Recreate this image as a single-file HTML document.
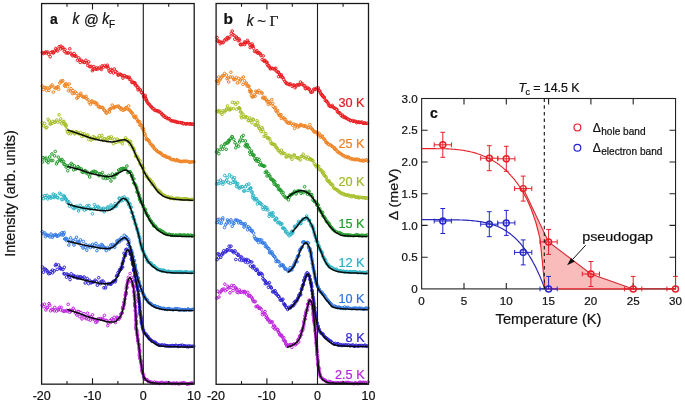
<!DOCTYPE html>
<html><head><meta charset="utf-8"><style>
html,body{margin:0;padding:0;background:#fff;width:685px;height:403px;overflow:hidden}
svg{display:block;will-change:transform}
</style></head><body>
<svg width="685" height="403" viewBox="0 0 685 403">
<rect width="685" height="403" fill="#fff"/>
<g fill="none" stroke="#ea1a1e" stroke-width="1.0"><circle cx="42.3" cy="52.6" r="1.3"/><circle cx="43.4" cy="53.6" r="1.3"/><circle cx="44.5" cy="52.8" r="1.3"/><circle cx="45.7" cy="51.9" r="1.3"/><circle cx="46.3" cy="53.0" r="1.3"/><circle cx="47.8" cy="52.1" r="1.3"/><circle cx="48.7" cy="54.3" r="1.3"/><circle cx="50.2" cy="56.7" r="1.3"/><circle cx="50.9" cy="52.6" r="1.3"/><circle cx="52.2" cy="51.8" r="1.3"/><circle cx="53.4" cy="53.1" r="1.3"/><circle cx="53.8" cy="52.2" r="1.3"/><circle cx="54.6" cy="51.1" r="1.3"/><circle cx="55.8" cy="48.5" r="1.3"/><circle cx="56.8" cy="49.7" r="1.3"/><circle cx="57.6" cy="51.1" r="1.3"/><circle cx="59.1" cy="46.7" r="1.3"/><circle cx="60.5" cy="48.8" r="1.3"/><circle cx="61.0" cy="46.2" r="1.3"/><circle cx="62.1" cy="48.0" r="1.3"/><circle cx="62.9" cy="47.5" r="1.3"/><circle cx="64.3" cy="51.2" r="1.3"/><circle cx="65.0" cy="49.5" r="1.3"/><circle cx="66.1" cy="52.9" r="1.3"/><circle cx="67.8" cy="53.0" r="1.3"/><circle cx="68.3" cy="52.8" r="1.3"/><circle cx="69.8" cy="48.8" r="1.3"/><circle cx="71.0" cy="53.2" r="1.3"/><circle cx="71.7" cy="54.7" r="1.3"/><circle cx="72.8" cy="55.7" r="1.3"/><circle cx="74.1" cy="53.5" r="1.3"/><circle cx="74.6" cy="55.9" r="1.3"/><circle cx="75.4" cy="55.6" r="1.3"/><circle cx="76.2" cy="56.4" r="1.3"/><circle cx="77.5" cy="60.3" r="1.3"/><circle cx="78.8" cy="57.9" r="1.3"/><circle cx="79.7" cy="60.1" r="1.3"/><circle cx="80.2" cy="62.4" r="1.3"/><circle cx="81.3" cy="60.3" r="1.3"/><circle cx="82.5" cy="61.6" r="1.3"/><circle cx="83.8" cy="62.3" r="1.3"/><circle cx="84.7" cy="62.4" r="1.3"/><circle cx="85.9" cy="60.3" r="1.3"/><circle cx="86.9" cy="62.9" r="1.3"/><circle cx="87.8" cy="65.5" r="1.3"/><circle cx="88.7" cy="61.9" r="1.3"/><circle cx="89.6" cy="66.6" r="1.3"/><circle cx="90.3" cy="66.6" r="1.3"/><circle cx="91.3" cy="66.4" r="1.3"/><circle cx="92.4" cy="70.7" r="1.3"/><circle cx="93.0" cy="69.4" r="1.3"/><circle cx="93.8" cy="66.6" r="1.3"/><circle cx="94.5" cy="68.6" r="1.3"/><circle cx="96.1" cy="69.3" r="1.3"/><circle cx="96.6" cy="67.8" r="1.3"/><circle cx="97.8" cy="69.0" r="1.3"/><circle cx="99.5" cy="67.4" r="1.3"/><circle cx="100.5" cy="68.5" r="1.3"/><circle cx="101.4" cy="69.5" r="1.3"/><circle cx="102.1" cy="65.9" r="1.3"/><circle cx="103.5" cy="67.1" r="1.3"/><circle cx="104.5" cy="65.6" r="1.3"/><circle cx="105.9" cy="66.7" r="1.3"/><circle cx="107.3" cy="65.2" r="1.3"/><circle cx="107.7" cy="66.9" r="1.3"/><circle cx="108.3" cy="68.3" r="1.3"/><circle cx="109.1" cy="70.9" r="1.3"/><circle cx="110.3" cy="72.2" r="1.3"/><circle cx="111.2" cy="69.5" r="1.3"/><circle cx="112.0" cy="70.6" r="1.3"/><circle cx="113.4" cy="73.0" r="1.3"/><circle cx="114.2" cy="69.0" r="1.3"/><circle cx="115.8" cy="71.6" r="1.3"/><circle cx="116.9" cy="72.5" r="1.3"/><circle cx="118.0" cy="75.1" r="1.3"/><circle cx="118.7" cy="74.9" r="1.3"/><circle cx="120.0" cy="74.1" r="1.3"/><circle cx="120.9" cy="74.7" r="1.3"/><circle cx="121.9" cy="75.3" r="1.3"/><circle cx="122.9" cy="78.1" r="1.3"/><circle cx="123.8" cy="75.5" r="1.3"/><circle cx="124.8" cy="75.8" r="1.3"/><circle cx="126.3" cy="77.0" r="1.3"/><circle cx="127.1" cy="76.9" r="1.3"/><circle cx="128.2" cy="77.5" r="1.3"/><circle cx="129.3" cy="77.2" r="1.3"/><circle cx="129.6" cy="79.4" r="1.3"/><circle cx="130.7" cy="79.7" r="1.3"/><circle cx="131.8" cy="82.4" r="1.3"/><circle cx="132.7" cy="82.4" r="1.3"/><circle cx="133.3" cy="82.2" r="1.3"/><circle cx="134.4" cy="83.3" r="1.3"/><circle cx="135.0" cy="82.9" r="1.3"/><circle cx="135.4" cy="85.1" r="1.3"/><circle cx="136.2" cy="85.3" r="1.3"/><circle cx="137.4" cy="87.4" r="1.3"/><circle cx="138.0" cy="87.2" r="1.3"/><circle cx="138.1" cy="89.9" r="1.3"/><circle cx="139.7" cy="89.3" r="1.3"/><circle cx="140.3" cy="89.9" r="1.3"/><circle cx="141.4" cy="92.4" r="1.3"/><circle cx="142.0" cy="92.5" r="1.3"/><circle cx="143.0" cy="94.2" r="1.3"/><circle cx="143.6" cy="96.8" r="1.3"/><circle cx="145.2" cy="95.5" r="1.3"/><circle cx="145.1" cy="96.9" r="1.3"/><circle cx="146.0" cy="98.6" r="1.3"/><circle cx="146.0" cy="99.9" r="1.3"/><circle cx="146.7" cy="100.6" r="1.3"/><circle cx="146.9" cy="101.7" r="1.3"/><circle cx="147.9" cy="103.3" r="1.3"/><circle cx="148.9" cy="104.2" r="1.3"/><circle cx="149.1" cy="104.2" r="1.3"/><circle cx="150.5" cy="105.8" r="1.3"/><circle cx="151.1" cy="106.8" r="1.3"/><circle cx="151.7" cy="107.1" r="1.3"/><circle cx="152.7" cy="108.7" r="1.3"/><circle cx="153.7" cy="108.7" r="1.3"/><circle cx="154.8" cy="110.4" r="1.3"/><circle cx="155.7" cy="110.4" r="1.3"/><circle cx="156.6" cy="110.7" r="1.3"/><circle cx="157.7" cy="110.8" r="1.3"/><circle cx="158.5" cy="111.7" r="1.3"/><circle cx="159.4" cy="111.5" r="1.3"/><circle cx="160.7" cy="112.7" r="1.3"/><circle cx="161.8" cy="114.3" r="1.3"/><circle cx="162.1" cy="113.9" r="1.3"/><circle cx="163.4" cy="116.1" r="1.3"/><circle cx="164.2" cy="115.6" r="1.3"/><circle cx="165.1" cy="117.4" r="1.3"/><circle cx="166.6" cy="117.3" r="1.3"/><circle cx="167.2" cy="118.6" r="1.3"/><circle cx="168.7" cy="118.8" r="1.3"/><circle cx="169.2" cy="118.6" r="1.3"/><circle cx="170.5" cy="120.3" r="1.3"/><circle cx="171.4" cy="120.9" r="1.3"/><circle cx="172.3" cy="120.8" r="1.3"/><circle cx="173.7" cy="121.1" r="1.3"/><circle cx="174.6" cy="121.5" r="1.3"/><circle cx="175.8" cy="121.4" r="1.3"/><circle cx="176.7" cy="122.4" r="1.3"/><circle cx="177.6" cy="122.1" r="1.3"/><circle cx="178.9" cy="122.5" r="1.3"/><circle cx="180.0" cy="122.5" r="1.3"/><circle cx="181.3" cy="122.8" r="1.3"/><circle cx="182.0" cy="122.7" r="1.3"/><circle cx="183.3" cy="123.8" r="1.3"/><circle cx="183.9" cy="123.4" r="1.3"/><circle cx="185.6" cy="124.0" r="1.3"/><circle cx="186.3" cy="123.8" r="1.3"/><circle cx="187.2" cy="123.6" r="1.3"/><circle cx="188.7" cy="123.9" r="1.3"/><circle cx="190.1" cy="123.8" r="1.3"/><circle cx="190.6" cy="124.1" r="1.3"/><circle cx="191.8" cy="124.1" r="1.3"/><circle cx="193.0" cy="124.2" r="1.3"/></g>
<g fill="none" stroke="#f08220" stroke-width="1.0"><circle cx="42.2" cy="86.1" r="1.3"/><circle cx="43.2" cy="89.5" r="1.3"/><circle cx="44.2" cy="87.4" r="1.3"/><circle cx="45.7" cy="87.7" r="1.3"/><circle cx="46.5" cy="90.5" r="1.3"/><circle cx="47.2" cy="87.9" r="1.3"/><circle cx="49.0" cy="90.4" r="1.3"/><circle cx="49.9" cy="87.3" r="1.3"/><circle cx="51.1" cy="86.5" r="1.3"/><circle cx="52.1" cy="84.9" r="1.3"/><circle cx="53.3" cy="92.1" r="1.3"/><circle cx="54.3" cy="87.4" r="1.3"/><circle cx="55.6" cy="88.4" r="1.3"/><circle cx="56.4" cy="87.6" r="1.3"/><circle cx="57.3" cy="87.4" r="1.3"/><circle cx="58.2" cy="86.6" r="1.3"/><circle cx="58.7" cy="89.3" r="1.3"/><circle cx="59.9" cy="83.0" r="1.3"/><circle cx="60.9" cy="81.1" r="1.3"/><circle cx="62.1" cy="81.4" r="1.3"/><circle cx="62.8" cy="80.6" r="1.3"/><circle cx="64.5" cy="85.4" r="1.3"/><circle cx="65.1" cy="86.2" r="1.3"/><circle cx="65.6" cy="83.8" r="1.3"/><circle cx="66.4" cy="84.0" r="1.3"/><circle cx="67.6" cy="86.7" r="1.3"/><circle cx="68.5" cy="90.7" r="1.3"/><circle cx="69.2" cy="84.0" r="1.3"/><circle cx="70.3" cy="90.8" r="1.3"/><circle cx="71.1" cy="88.7" r="1.3"/><circle cx="72.4" cy="93.5" r="1.3"/><circle cx="73.0" cy="90.7" r="1.3"/><circle cx="74.1" cy="93.2" r="1.3"/><circle cx="75.4" cy="92.0" r="1.3"/><circle cx="76.7" cy="93.7" r="1.3"/><circle cx="76.8" cy="98.2" r="1.3"/><circle cx="78.0" cy="97.5" r="1.3"/><circle cx="78.9" cy="95.5" r="1.3"/><circle cx="80.3" cy="94.9" r="1.3"/><circle cx="80.8" cy="93.3" r="1.3"/><circle cx="82.0" cy="96.1" r="1.3"/><circle cx="83.2" cy="97.0" r="1.3"/><circle cx="83.9" cy="97.1" r="1.3"/><circle cx="85.0" cy="97.5" r="1.3"/><circle cx="86.1" cy="96.3" r="1.3"/><circle cx="86.7" cy="98.8" r="1.3"/><circle cx="87.9" cy="99.6" r="1.3"/><circle cx="89.2" cy="102.6" r="1.3"/><circle cx="90.4" cy="104.2" r="1.3"/><circle cx="91.3" cy="101.5" r="1.3"/><circle cx="91.9" cy="100.9" r="1.3"/><circle cx="93.2" cy="102.5" r="1.3"/><circle cx="94.5" cy="102.2" r="1.3"/><circle cx="95.5" cy="102.6" r="1.3"/><circle cx="96.3" cy="104.3" r="1.3"/><circle cx="97.0" cy="103.6" r="1.3"/><circle cx="98.4" cy="106.7" r="1.3"/><circle cx="99.0" cy="106.3" r="1.3"/><circle cx="99.8" cy="107.4" r="1.3"/><circle cx="100.9" cy="107.4" r="1.3"/><circle cx="102.3" cy="107.4" r="1.3"/><circle cx="102.9" cy="108.0" r="1.3"/><circle cx="104.1" cy="110.0" r="1.3"/><circle cx="104.6" cy="110.6" r="1.3"/><circle cx="106.0" cy="112.8" r="1.3"/><circle cx="106.7" cy="113.1" r="1.3"/><circle cx="107.8" cy="111.0" r="1.3"/><circle cx="109.4" cy="112.0" r="1.3"/><circle cx="109.8" cy="109.2" r="1.3"/><circle cx="110.2" cy="109.0" r="1.3"/><circle cx="111.1" cy="108.4" r="1.3"/><circle cx="112.2" cy="105.1" r="1.3"/><circle cx="113.4" cy="107.9" r="1.3"/><circle cx="114.0" cy="107.7" r="1.3"/><circle cx="114.8" cy="107.0" r="1.3"/><circle cx="116.2" cy="106.5" r="1.3"/><circle cx="117.4" cy="106.5" r="1.3"/><circle cx="118.4" cy="106.0" r="1.3"/><circle cx="119.5" cy="107.5" r="1.3"/><circle cx="120.0" cy="107.8" r="1.3"/><circle cx="121.0" cy="109.5" r="1.3"/><circle cx="121.5" cy="108.1" r="1.3"/><circle cx="123.1" cy="110.3" r="1.3"/><circle cx="124.4" cy="109.7" r="1.3"/><circle cx="125.2" cy="108.6" r="1.3"/><circle cx="126.1" cy="107.6" r="1.3"/><circle cx="127.2" cy="108.9" r="1.3"/><circle cx="128.6" cy="105.9" r="1.3"/><circle cx="128.9" cy="109.7" r="1.3"/><circle cx="129.9" cy="110.3" r="1.3"/><circle cx="130.8" cy="111.4" r="1.3"/><circle cx="131.6" cy="112.8" r="1.3"/><circle cx="132.1" cy="112.9" r="1.3"/><circle cx="133.1" cy="114.7" r="1.3"/><circle cx="133.8" cy="116.8" r="1.3"/><circle cx="134.7" cy="117.4" r="1.3"/><circle cx="135.4" cy="117.6" r="1.3"/><circle cx="135.9" cy="116.3" r="1.3"/><circle cx="136.9" cy="119.2" r="1.3"/><circle cx="137.8" cy="120.7" r="1.3"/><circle cx="138.0" cy="121.6" r="1.3"/><circle cx="138.8" cy="122.1" r="1.3"/><circle cx="139.7" cy="121.7" r="1.3"/><circle cx="139.9" cy="125.2" r="1.3"/><circle cx="140.8" cy="125.5" r="1.3"/><circle cx="141.1" cy="124.8" r="1.3"/><circle cx="142.2" cy="128.4" r="1.3"/><circle cx="143.1" cy="128.2" r="1.3"/><circle cx="143.6" cy="129.5" r="1.3"/><circle cx="143.6" cy="131.1" r="1.3"/><circle cx="144.4" cy="133.7" r="1.3"/><circle cx="144.8" cy="133.9" r="1.3"/><circle cx="145.4" cy="135.8" r="1.3"/><circle cx="146.4" cy="138.3" r="1.3"/><circle cx="146.3" cy="139.5" r="1.3"/><circle cx="147.5" cy="139.4" r="1.3"/><circle cx="147.9" cy="140.3" r="1.3"/><circle cx="149.0" cy="140.6" r="1.3"/><circle cx="149.4" cy="141.8" r="1.3"/><circle cx="150.0" cy="143.4" r="1.3"/><circle cx="151.0" cy="144.3" r="1.3"/><circle cx="151.9" cy="145.0" r="1.3"/><circle cx="152.5" cy="146.4" r="1.3"/><circle cx="153.4" cy="146.3" r="1.3"/><circle cx="154.0" cy="147.7" r="1.3"/><circle cx="154.4" cy="149.0" r="1.3"/><circle cx="156.1" cy="149.9" r="1.3"/><circle cx="156.9" cy="151.0" r="1.3"/><circle cx="157.6" cy="151.5" r="1.3"/><circle cx="158.5" cy="151.9" r="1.3"/><circle cx="159.7" cy="152.9" r="1.3"/><circle cx="160.3" cy="152.9" r="1.3"/><circle cx="161.1" cy="153.3" r="1.3"/><circle cx="162.2" cy="155.0" r="1.3"/><circle cx="163.6" cy="155.3" r="1.3"/><circle cx="163.9" cy="156.1" r="1.3"/><circle cx="165.6" cy="155.8" r="1.3"/><circle cx="166.1" cy="156.9" r="1.3"/><circle cx="167.1" cy="157.3" r="1.3"/><circle cx="168.7" cy="157.6" r="1.3"/><circle cx="169.4" cy="157.5" r="1.3"/><circle cx="170.1" cy="158.6" r="1.3"/><circle cx="171.4" cy="159.5" r="1.3"/><circle cx="172.8" cy="159.6" r="1.3"/><circle cx="173.9" cy="159.6" r="1.3"/><circle cx="174.6" cy="160.1" r="1.3"/><circle cx="175.9" cy="160.7" r="1.3"/><circle cx="177.1" cy="159.6" r="1.3"/><circle cx="177.8" cy="160.7" r="1.3"/><circle cx="179.2" cy="161.1" r="1.3"/><circle cx="180.2" cy="161.2" r="1.3"/><circle cx="181.1" cy="161.6" r="1.3"/><circle cx="182.2" cy="161.5" r="1.3"/><circle cx="183.5" cy="161.2" r="1.3"/><circle cx="184.6" cy="161.2" r="1.3"/><circle cx="185.5" cy="161.5" r="1.3"/><circle cx="186.6" cy="161.1" r="1.3"/><circle cx="188.1" cy="161.5" r="1.3"/><circle cx="189.0" cy="162.0" r="1.3"/><circle cx="190.3" cy="162.4" r="1.3"/><circle cx="191.4" cy="161.7" r="1.3"/><circle cx="192.4" cy="161.8" r="1.3"/><circle cx="193.9" cy="161.8" r="1.3"/></g>
<g fill="none" stroke="#a6bf26" stroke-width="1.0"><circle cx="42.3" cy="122.7" r="1.3"/><circle cx="43.6" cy="125.9" r="1.3"/><circle cx="44.7" cy="123.4" r="1.3"/><circle cx="46.0" cy="127.9" r="1.3"/><circle cx="46.9" cy="127.3" r="1.3"/><circle cx="48.1" cy="119.3" r="1.3"/><circle cx="49.3" cy="121.0" r="1.3"/><circle cx="50.1" cy="124.1" r="1.3"/><circle cx="50.7" cy="123.9" r="1.3"/><circle cx="51.9" cy="123.4" r="1.3"/><circle cx="52.9" cy="121.4" r="1.3"/><circle cx="54.7" cy="122.2" r="1.3"/><circle cx="55.2" cy="122.1" r="1.3"/><circle cx="56.8" cy="120.0" r="1.3"/><circle cx="57.7" cy="122.1" r="1.3"/><circle cx="59.1" cy="114.8" r="1.3"/><circle cx="60.0" cy="121.7" r="1.3"/><circle cx="60.8" cy="118.9" r="1.3"/><circle cx="61.8" cy="123.8" r="1.3"/><circle cx="62.9" cy="122.0" r="1.3"/><circle cx="64.0" cy="121.4" r="1.3"/><circle cx="64.8" cy="124.6" r="1.3"/><circle cx="65.5" cy="124.0" r="1.3"/><circle cx="66.3" cy="125.6" r="1.3"/><circle cx="65.9" cy="126.3" r="1.3"/><circle cx="66.9" cy="129.7" r="1.3"/><circle cx="67.4" cy="131.9" r="1.3"/><circle cx="68.6" cy="133.5" r="1.3"/><circle cx="69.8" cy="131.5" r="1.3"/><circle cx="70.6" cy="133.8" r="1.3"/><circle cx="71.9" cy="131.8" r="1.3"/><circle cx="72.4" cy="131.5" r="1.3"/><circle cx="74.1" cy="132.8" r="1.3"/><circle cx="74.8" cy="133.9" r="1.3"/><circle cx="76.2" cy="131.6" r="1.3"/><circle cx="77.2" cy="132.4" r="1.3"/><circle cx="77.5" cy="133.1" r="1.3"/><circle cx="79.1" cy="134.0" r="1.3"/><circle cx="80.4" cy="132.5" r="1.3"/><circle cx="81.8" cy="136.3" r="1.3"/><circle cx="82.5" cy="134.0" r="1.3"/><circle cx="83.6" cy="135.9" r="1.3"/><circle cx="84.2" cy="133.8" r="1.3"/><circle cx="86.0" cy="135.9" r="1.3"/><circle cx="87.1" cy="136.1" r="1.3"/><circle cx="87.7" cy="134.8" r="1.3"/><circle cx="88.7" cy="139.5" r="1.3"/><circle cx="89.4" cy="137.1" r="1.3"/><circle cx="91.1" cy="140.1" r="1.3"/><circle cx="92.7" cy="139.1" r="1.3"/><circle cx="93.2" cy="136.6" r="1.3"/><circle cx="94.5" cy="137.4" r="1.3"/><circle cx="95.3" cy="139.0" r="1.3"/><circle cx="96.0" cy="138.4" r="1.3"/><circle cx="97.7" cy="138.4" r="1.3"/><circle cx="98.1" cy="138.0" r="1.3"/><circle cx="99.5" cy="135.6" r="1.3"/><circle cx="100.7" cy="138.6" r="1.3"/><circle cx="101.9" cy="135.4" r="1.3"/><circle cx="102.9" cy="140.2" r="1.3"/><circle cx="104.0" cy="138.6" r="1.3"/><circle cx="104.8" cy="138.8" r="1.3"/><circle cx="105.8" cy="139.9" r="1.3"/><circle cx="107.2" cy="140.9" r="1.3"/><circle cx="108.1" cy="137.9" r="1.3"/><circle cx="109.0" cy="137.3" r="1.3"/><circle cx="110.1" cy="138.5" r="1.3"/><circle cx="111.4" cy="136.8" r="1.3"/><circle cx="112.2" cy="138.9" r="1.3"/><circle cx="113.4" cy="143.7" r="1.3"/><circle cx="114.4" cy="139.3" r="1.3"/><circle cx="116.0" cy="142.4" r="1.3"/><circle cx="117.1" cy="139.0" r="1.3"/><circle cx="118.6" cy="141.8" r="1.3"/><circle cx="118.8" cy="140.6" r="1.3"/><circle cx="120.1" cy="140.9" r="1.3"/><circle cx="121.6" cy="141.9" r="1.3"/><circle cx="122.4" cy="143.7" r="1.3"/><circle cx="123.4" cy="140.4" r="1.3"/><circle cx="125.0" cy="139.8" r="1.3"/><circle cx="125.6" cy="137.8" r="1.3"/><circle cx="126.4" cy="140.6" r="1.3"/><circle cx="127.3" cy="139.8" r="1.3"/><circle cx="128.7" cy="142.0" r="1.3"/><circle cx="129.6" cy="141.4" r="1.3"/><circle cx="129.9" cy="144.8" r="1.3"/><circle cx="130.7" cy="141.5" r="1.3"/><circle cx="131.7" cy="144.9" r="1.3"/><circle cx="132.3" cy="147.7" r="1.3"/><circle cx="132.6" cy="147.5" r="1.3"/><circle cx="133.5" cy="148.2" r="1.3"/><circle cx="134.1" cy="149.9" r="1.3"/><circle cx="134.0" cy="150.0" r="1.3"/><circle cx="134.9" cy="152.7" r="1.3"/><circle cx="135.6" cy="156.2" r="1.3"/><circle cx="135.8" cy="156.3" r="1.3"/><circle cx="136.0" cy="155.3" r="1.3"/><circle cx="137.0" cy="156.4" r="1.3"/><circle cx="137.9" cy="157.6" r="1.3"/><circle cx="138.7" cy="159.8" r="1.3"/><circle cx="138.3" cy="159.4" r="1.3"/><circle cx="140.1" cy="160.9" r="1.3"/><circle cx="139.8" cy="163.6" r="1.3"/><circle cx="140.9" cy="164.9" r="1.3"/><circle cx="141.5" cy="165.1" r="1.3"/><circle cx="142.0" cy="165.8" r="1.3"/><circle cx="142.4" cy="166.7" r="1.3"/><circle cx="142.7" cy="168.5" r="1.3"/><circle cx="143.7" cy="168.5" r="1.3"/><circle cx="143.9" cy="171.9" r="1.3"/><circle cx="144.1" cy="172.2" r="1.3"/><circle cx="146.1" cy="174.2" r="1.3"/><circle cx="146.2" cy="176.4" r="1.3"/><circle cx="147.2" cy="177.0" r="1.3"/><circle cx="147.2" cy="176.5" r="1.3"/><circle cx="148.5" cy="178.7" r="1.3"/><circle cx="149.2" cy="179.6" r="1.3"/><circle cx="149.9" cy="179.3" r="1.3"/><circle cx="150.2" cy="180.1" r="1.3"/><circle cx="150.7" cy="181.5" r="1.3"/><circle cx="151.7" cy="181.6" r="1.3"/><circle cx="152.0" cy="184.4" r="1.3"/><circle cx="152.9" cy="183.2" r="1.3"/><circle cx="154.1" cy="185.0" r="1.3"/><circle cx="154.5" cy="186.5" r="1.3"/><circle cx="155.4" cy="187.6" r="1.3"/><circle cx="156.2" cy="188.8" r="1.3"/><circle cx="157.4" cy="189.8" r="1.3"/><circle cx="158.1" cy="190.5" r="1.3"/><circle cx="158.6" cy="191.9" r="1.3"/><circle cx="159.8" cy="191.2" r="1.3"/><circle cx="160.2" cy="192.8" r="1.3"/><circle cx="161.3" cy="193.3" r="1.3"/><circle cx="162.5" cy="194.4" r="1.3"/><circle cx="163.0" cy="195.1" r="1.3"/><circle cx="164.2" cy="195.3" r="1.3"/><circle cx="165.0" cy="195.8" r="1.3"/><circle cx="166.4" cy="196.7" r="1.3"/><circle cx="167.8" cy="196.9" r="1.3"/><circle cx="168.3" cy="196.8" r="1.3"/><circle cx="169.7" cy="198.0" r="1.3"/><circle cx="170.5" cy="198.4" r="1.3"/><circle cx="171.5" cy="197.2" r="1.3"/><circle cx="172.5" cy="198.0" r="1.3"/><circle cx="174.3" cy="199.0" r="1.3"/><circle cx="175.6" cy="198.5" r="1.3"/><circle cx="176.3" cy="198.4" r="1.3"/><circle cx="177.1" cy="198.4" r="1.3"/><circle cx="178.5" cy="198.4" r="1.3"/><circle cx="179.3" cy="198.7" r="1.3"/><circle cx="180.7" cy="198.7" r="1.3"/><circle cx="181.7" cy="199.3" r="1.3"/><circle cx="182.8" cy="199.0" r="1.3"/><circle cx="184.0" cy="199.0" r="1.3"/><circle cx="184.8" cy="198.7" r="1.3"/><circle cx="185.9" cy="199.2" r="1.3"/><circle cx="186.7" cy="198.9" r="1.3"/><circle cx="188.1" cy="199.2" r="1.3"/><circle cx="189.0" cy="199.7" r="1.3"/><circle cx="190.4" cy="199.5" r="1.3"/><circle cx="191.3" cy="199.5" r="1.3"/><circle cx="192.6" cy="199.4" r="1.3"/></g>
<g fill="none" stroke="#1f9a28" stroke-width="1.0"><circle cx="42.6" cy="161.9" r="1.3"/><circle cx="43.1" cy="157.7" r="1.3"/><circle cx="44.7" cy="158.7" r="1.3"/><circle cx="45.9" cy="158.0" r="1.3"/><circle cx="46.8" cy="161.1" r="1.3"/><circle cx="48.1" cy="162.6" r="1.3"/><circle cx="48.8" cy="160.1" r="1.3"/><circle cx="49.7" cy="157.0" r="1.3"/><circle cx="51.3" cy="160.5" r="1.3"/><circle cx="51.9" cy="153.9" r="1.3"/><circle cx="52.7" cy="160.5" r="1.3"/><circle cx="54.6" cy="155.9" r="1.3"/><circle cx="55.3" cy="151.5" r="1.3"/><circle cx="56.5" cy="163.9" r="1.3"/><circle cx="57.3" cy="162.0" r="1.3"/><circle cx="58.3" cy="157.1" r="1.3"/><circle cx="59.4" cy="160.2" r="1.3"/><circle cx="60.7" cy="160.1" r="1.3"/><circle cx="61.8" cy="161.5" r="1.3"/><circle cx="62.0" cy="159.4" r="1.3"/><circle cx="63.6" cy="161.5" r="1.3"/><circle cx="63.9" cy="164.2" r="1.3"/><circle cx="64.9" cy="164.5" r="1.3"/><circle cx="66.2" cy="167.1" r="1.3"/><circle cx="67.0" cy="165.9" r="1.3"/><circle cx="67.7" cy="170.7" r="1.3"/><circle cx="69.6" cy="165.3" r="1.3"/><circle cx="69.9" cy="167.4" r="1.3"/><circle cx="71.3" cy="163.4" r="1.3"/><circle cx="72.4" cy="164.7" r="1.3"/><circle cx="73.7" cy="169.9" r="1.3"/><circle cx="74.4" cy="165.8" r="1.3"/><circle cx="75.8" cy="169.1" r="1.3"/><circle cx="76.5" cy="168.3" r="1.3"/><circle cx="78.0" cy="166.7" r="1.3"/><circle cx="78.6" cy="168.2" r="1.3"/><circle cx="79.8" cy="168.2" r="1.3"/><circle cx="81.4" cy="168.9" r="1.3"/><circle cx="82.1" cy="171.9" r="1.3"/><circle cx="83.1" cy="172.4" r="1.3"/><circle cx="84.7" cy="170.8" r="1.3"/><circle cx="85.3" cy="170.6" r="1.3"/><circle cx="86.1" cy="172.9" r="1.3"/><circle cx="87.5" cy="172.2" r="1.3"/><circle cx="88.1" cy="174.1" r="1.3"/><circle cx="89.7" cy="177.0" r="1.3"/><circle cx="90.8" cy="173.7" r="1.3"/><circle cx="91.4" cy="172.3" r="1.3"/><circle cx="92.5" cy="172.2" r="1.3"/><circle cx="93.8" cy="171.3" r="1.3"/><circle cx="94.8" cy="171.6" r="1.3"/><circle cx="95.7" cy="171.8" r="1.3"/><circle cx="97.1" cy="173.2" r="1.3"/><circle cx="97.6" cy="173.4" r="1.3"/><circle cx="99.0" cy="175.7" r="1.3"/><circle cx="100.1" cy="173.8" r="1.3"/><circle cx="101.3" cy="174.3" r="1.3"/><circle cx="102.5" cy="172.6" r="1.3"/><circle cx="103.2" cy="178.0" r="1.3"/><circle cx="104.8" cy="176.1" r="1.3"/><circle cx="105.7" cy="178.5" r="1.3"/><circle cx="106.6" cy="176.8" r="1.3"/><circle cx="107.6" cy="178.3" r="1.3"/><circle cx="108.7" cy="175.4" r="1.3"/><circle cx="110.2" cy="177.5" r="1.3"/><circle cx="111.0" cy="181.0" r="1.3"/><circle cx="112.3" cy="174.0" r="1.3"/><circle cx="113.6" cy="177.5" r="1.3"/><circle cx="114.6" cy="177.6" r="1.3"/><circle cx="115.8" cy="174.4" r="1.3"/><circle cx="116.3" cy="173.9" r="1.3"/><circle cx="117.1" cy="173.9" r="1.3"/><circle cx="118.7" cy="170.0" r="1.3"/><circle cx="119.5" cy="171.4" r="1.3"/><circle cx="120.7" cy="168.9" r="1.3"/><circle cx="121.5" cy="168.8" r="1.3"/><circle cx="122.8" cy="168.3" r="1.3"/><circle cx="123.7" cy="168.6" r="1.3"/><circle cx="124.8" cy="168.7" r="1.3"/><circle cx="125.8" cy="169.2" r="1.3"/><circle cx="126.9" cy="166.0" r="1.3"/><circle cx="127.8" cy="172.6" r="1.3"/><circle cx="128.7" cy="171.9" r="1.3"/><circle cx="129.8" cy="172.0" r="1.3"/><circle cx="130.2" cy="171.7" r="1.3"/><circle cx="131.4" cy="173.6" r="1.3"/><circle cx="131.5" cy="175.7" r="1.3"/><circle cx="132.2" cy="176.8" r="1.3"/><circle cx="132.4" cy="175.6" r="1.3"/><circle cx="132.8" cy="179.4" r="1.3"/><circle cx="133.9" cy="182.9" r="1.3"/><circle cx="133.9" cy="178.9" r="1.3"/><circle cx="134.1" cy="183.3" r="1.3"/><circle cx="134.8" cy="184.0" r="1.3"/><circle cx="135.4" cy="184.9" r="1.3"/><circle cx="136.5" cy="187.7" r="1.3"/><circle cx="136.5" cy="186.7" r="1.3"/><circle cx="137.1" cy="189.4" r="1.3"/><circle cx="137.0" cy="192.0" r="1.3"/><circle cx="137.8" cy="191.9" r="1.3"/><circle cx="138.3" cy="193.1" r="1.3"/><circle cx="139.0" cy="194.8" r="1.3"/><circle cx="138.7" cy="195.7" r="1.3"/><circle cx="139.5" cy="198.4" r="1.3"/><circle cx="139.8" cy="197.6" r="1.3"/><circle cx="139.9" cy="200.0" r="1.3"/><circle cx="140.6" cy="199.4" r="1.3"/><circle cx="141.1" cy="202.0" r="1.3"/><circle cx="141.0" cy="202.6" r="1.3"/><circle cx="142.3" cy="202.0" r="1.3"/><circle cx="142.8" cy="205.1" r="1.3"/><circle cx="143.1" cy="205.6" r="1.3"/><circle cx="143.4" cy="207.2" r="1.3"/><circle cx="144.6" cy="209.6" r="1.3"/><circle cx="144.9" cy="208.9" r="1.3"/><circle cx="145.6" cy="210.1" r="1.3"/><circle cx="146.2" cy="212.9" r="1.3"/><circle cx="146.3" cy="213.2" r="1.3"/><circle cx="147.3" cy="215.2" r="1.3"/><circle cx="147.6" cy="215.5" r="1.3"/><circle cx="148.3" cy="216.0" r="1.3"/><circle cx="148.9" cy="217.6" r="1.3"/><circle cx="149.6" cy="219.5" r="1.3"/><circle cx="150.5" cy="220.4" r="1.3"/><circle cx="150.9" cy="221.0" r="1.3"/><circle cx="151.5" cy="222.1" r="1.3"/><circle cx="152.2" cy="223.0" r="1.3"/><circle cx="153.2" cy="223.7" r="1.3"/><circle cx="153.6" cy="225.9" r="1.3"/><circle cx="154.6" cy="225.9" r="1.3"/><circle cx="155.5" cy="226.2" r="1.3"/><circle cx="156.2" cy="227.4" r="1.3"/><circle cx="157.2" cy="228.7" r="1.3"/><circle cx="158.0" cy="229.5" r="1.3"/><circle cx="159.6" cy="229.9" r="1.3"/><circle cx="160.4" cy="230.4" r="1.3"/><circle cx="161.2" cy="231.3" r="1.3"/><circle cx="162.0" cy="231.2" r="1.3"/><circle cx="163.6" cy="232.0" r="1.3"/><circle cx="164.1" cy="233.4" r="1.3"/><circle cx="165.1" cy="233.4" r="1.3"/><circle cx="166.2" cy="234.0" r="1.3"/><circle cx="167.3" cy="234.5" r="1.3"/><circle cx="168.7" cy="234.4" r="1.3"/><circle cx="169.4" cy="234.4" r="1.3"/><circle cx="171.0" cy="235.3" r="1.3"/><circle cx="171.4" cy="235.0" r="1.3"/><circle cx="172.9" cy="234.8" r="1.3"/><circle cx="173.5" cy="235.4" r="1.3"/><circle cx="175.3" cy="235.4" r="1.3"/><circle cx="175.9" cy="235.0" r="1.3"/><circle cx="177.1" cy="235.4" r="1.3"/><circle cx="178.4" cy="235.3" r="1.3"/><circle cx="179.6" cy="234.7" r="1.3"/><circle cx="180.1" cy="235.4" r="1.3"/><circle cx="181.4" cy="235.3" r="1.3"/><circle cx="182.2" cy="235.3" r="1.3"/><circle cx="183.7" cy="234.9" r="1.3"/><circle cx="184.7" cy="235.3" r="1.3"/><circle cx="185.8" cy="235.4" r="1.3"/><circle cx="186.8" cy="235.5" r="1.3"/><circle cx="188.0" cy="235.0" r="1.3"/><circle cx="189.0" cy="235.7" r="1.3"/><circle cx="190.4" cy="235.1" r="1.3"/><circle cx="191.7" cy="235.5" r="1.3"/><circle cx="192.0" cy="236.1" r="1.3"/><circle cx="193.5" cy="235.4" r="1.3"/></g>
<g fill="none" stroke="#2ab3c6" stroke-width="1.0"><circle cx="42.6" cy="196.3" r="1.3"/><circle cx="43.4" cy="198.6" r="1.3"/><circle cx="44.8" cy="195.6" r="1.3"/><circle cx="45.5" cy="197.5" r="1.3"/><circle cx="47.1" cy="195.4" r="1.3"/><circle cx="47.8" cy="198.9" r="1.3"/><circle cx="48.8" cy="197.3" r="1.3"/><circle cx="50.0" cy="196.8" r="1.3"/><circle cx="51.0" cy="198.1" r="1.3"/><circle cx="52.2" cy="196.9" r="1.3"/><circle cx="53.2" cy="194.0" r="1.3"/><circle cx="54.2" cy="197.6" r="1.3"/><circle cx="55.0" cy="196.3" r="1.3"/><circle cx="55.3" cy="194.9" r="1.3"/><circle cx="57.3" cy="197.3" r="1.3"/><circle cx="57.9" cy="197.9" r="1.3"/><circle cx="59.5" cy="193.2" r="1.3"/><circle cx="60.8" cy="194.2" r="1.3"/><circle cx="61.6" cy="199.3" r="1.3"/><circle cx="62.4" cy="199.6" r="1.3"/><circle cx="63.4" cy="196.1" r="1.3"/><circle cx="64.3" cy="196.0" r="1.3"/><circle cx="65.0" cy="197.9" r="1.3"/><circle cx="65.6" cy="199.2" r="1.3"/><circle cx="66.0" cy="198.9" r="1.3"/><circle cx="67.0" cy="202.2" r="1.3"/><circle cx="67.5" cy="201.0" r="1.3"/><circle cx="68.7" cy="201.7" r="1.3"/><circle cx="69.5" cy="206.2" r="1.3"/><circle cx="70.6" cy="203.9" r="1.3"/><circle cx="71.6" cy="205.7" r="1.3"/><circle cx="72.8" cy="207.7" r="1.3"/><circle cx="74.0" cy="208.5" r="1.3"/><circle cx="74.9" cy="206.7" r="1.3"/><circle cx="75.8" cy="207.7" r="1.3"/><circle cx="76.8" cy="206.1" r="1.3"/><circle cx="78.5" cy="211.0" r="1.3"/><circle cx="79.1" cy="208.8" r="1.3"/><circle cx="80.2" cy="205.3" r="1.3"/><circle cx="81.7" cy="207.2" r="1.3"/><circle cx="82.7" cy="208.4" r="1.3"/><circle cx="83.7" cy="207.7" r="1.3"/><circle cx="84.5" cy="210.1" r="1.3"/><circle cx="86.3" cy="209.2" r="1.3"/><circle cx="86.9" cy="205.9" r="1.3"/><circle cx="88.1" cy="207.2" r="1.3"/><circle cx="89.0" cy="205.5" r="1.3"/><circle cx="89.8" cy="208.8" r="1.3"/><circle cx="90.9" cy="209.0" r="1.3"/><circle cx="92.4" cy="213.8" r="1.3"/><circle cx="93.5" cy="208.8" r="1.3"/><circle cx="94.4" cy="204.5" r="1.3"/><circle cx="95.3" cy="207.1" r="1.3"/><circle cx="96.3" cy="208.6" r="1.3"/><circle cx="97.7" cy="206.3" r="1.3"/><circle cx="98.5" cy="207.2" r="1.3"/><circle cx="100.2" cy="208.3" r="1.3"/><circle cx="101.3" cy="209.8" r="1.3"/><circle cx="102.9" cy="209.1" r="1.3"/><circle cx="103.5" cy="208.2" r="1.3"/><circle cx="104.2" cy="211.8" r="1.3"/><circle cx="105.2" cy="209.5" r="1.3"/><circle cx="105.7" cy="209.2" r="1.3"/><circle cx="107.5" cy="206.9" r="1.3"/><circle cx="108.7" cy="207.3" r="1.3"/><circle cx="110.0" cy="209.3" r="1.3"/><circle cx="111.0" cy="205.1" r="1.3"/><circle cx="112.0" cy="207.4" r="1.3"/><circle cx="112.8" cy="208.3" r="1.3"/><circle cx="113.9" cy="206.1" r="1.3"/><circle cx="114.9" cy="206.5" r="1.3"/><circle cx="115.1" cy="203.5" r="1.3"/><circle cx="116.1" cy="206.5" r="1.3"/><circle cx="116.7" cy="205.2" r="1.3"/><circle cx="118.3" cy="202.7" r="1.3"/><circle cx="119.0" cy="198.3" r="1.3"/><circle cx="119.7" cy="198.3" r="1.3"/><circle cx="120.1" cy="200.7" r="1.3"/><circle cx="121.3" cy="200.9" r="1.3"/><circle cx="122.1" cy="197.8" r="1.3"/><circle cx="123.2" cy="200.1" r="1.3"/><circle cx="124.2" cy="196.9" r="1.3"/><circle cx="125.5" cy="198.6" r="1.3"/><circle cx="126.2" cy="199.6" r="1.3"/><circle cx="127.3" cy="201.1" r="1.3"/><circle cx="127.8" cy="199.0" r="1.3"/><circle cx="128.3" cy="203.5" r="1.3"/><circle cx="128.9" cy="205.1" r="1.3"/><circle cx="129.3" cy="203.1" r="1.3"/><circle cx="130.1" cy="204.2" r="1.3"/><circle cx="130.3" cy="207.6" r="1.3"/><circle cx="130.9" cy="207.7" r="1.3"/><circle cx="131.2" cy="207.1" r="1.3"/><circle cx="131.4" cy="211.9" r="1.3"/><circle cx="132.4" cy="212.6" r="1.3"/><circle cx="132.3" cy="213.3" r="1.3"/><circle cx="133.1" cy="217.2" r="1.3"/><circle cx="133.5" cy="216.6" r="1.3"/><circle cx="133.3" cy="217.0" r="1.3"/><circle cx="133.9" cy="219.1" r="1.3"/><circle cx="134.4" cy="219.5" r="1.3"/><circle cx="134.7" cy="221.3" r="1.3"/><circle cx="135.0" cy="223.7" r="1.3"/><circle cx="135.8" cy="224.1" r="1.3"/><circle cx="136.0" cy="225.2" r="1.3"/><circle cx="136.5" cy="227.9" r="1.3"/><circle cx="136.7" cy="228.2" r="1.3"/><circle cx="137.3" cy="229.4" r="1.3"/><circle cx="137.4" cy="230.4" r="1.3"/><circle cx="137.9" cy="231.7" r="1.3"/><circle cx="138.4" cy="233.6" r="1.3"/><circle cx="138.6" cy="233.8" r="1.3"/><circle cx="138.8" cy="236.3" r="1.3"/><circle cx="138.9" cy="236.0" r="1.3"/><circle cx="139.5" cy="237.8" r="1.3"/><circle cx="139.9" cy="238.6" r="1.3"/><circle cx="140.0" cy="240.6" r="1.3"/><circle cx="140.2" cy="242.4" r="1.3"/><circle cx="140.8" cy="244.2" r="1.3"/><circle cx="141.6" cy="244.4" r="1.3"/><circle cx="141.3" cy="246.2" r="1.3"/><circle cx="141.9" cy="247.4" r="1.3"/><circle cx="142.3" cy="248.5" r="1.3"/><circle cx="142.0" cy="249.5" r="1.3"/><circle cx="143.2" cy="251.4" r="1.3"/><circle cx="143.5" cy="251.6" r="1.3"/><circle cx="144.5" cy="253.8" r="1.3"/><circle cx="144.6" cy="255.0" r="1.3"/><circle cx="145.1" cy="255.9" r="1.3"/><circle cx="145.8" cy="256.9" r="1.3"/><circle cx="146.5" cy="257.8" r="1.3"/><circle cx="146.9" cy="260.5" r="1.3"/><circle cx="147.8" cy="259.9" r="1.3"/><circle cx="148.2" cy="262.2" r="1.3"/><circle cx="149.3" cy="262.6" r="1.3"/><circle cx="150.3" cy="262.9" r="1.3"/><circle cx="151.4" cy="263.4" r="1.3"/><circle cx="152.0" cy="265.1" r="1.3"/><circle cx="152.8" cy="266.0" r="1.3"/><circle cx="154.0" cy="265.6" r="1.3"/><circle cx="154.9" cy="266.5" r="1.3"/><circle cx="156.0" cy="267.8" r="1.3"/><circle cx="156.8" cy="268.3" r="1.3"/><circle cx="157.5" cy="269.6" r="1.3"/><circle cx="158.6" cy="269.3" r="1.3"/><circle cx="159.6" cy="270.1" r="1.3"/><circle cx="160.7" cy="269.8" r="1.3"/><circle cx="161.8" cy="271.2" r="1.3"/><circle cx="162.6" cy="270.4" r="1.3"/><circle cx="163.4" cy="270.0" r="1.3"/><circle cx="164.8" cy="270.9" r="1.3"/><circle cx="165.6" cy="271.0" r="1.3"/><circle cx="167.2" cy="271.9" r="1.3"/><circle cx="168.3" cy="271.2" r="1.3"/><circle cx="168.9" cy="271.5" r="1.3"/><circle cx="170.6" cy="271.8" r="1.3"/><circle cx="171.8" cy="272.3" r="1.3"/><circle cx="172.7" cy="271.8" r="1.3"/><circle cx="174.2" cy="272.3" r="1.3"/><circle cx="175.3" cy="272.1" r="1.3"/><circle cx="175.7" cy="271.8" r="1.3"/><circle cx="177.3" cy="271.9" r="1.3"/><circle cx="178.3" cy="272.0" r="1.3"/><circle cx="179.4" cy="271.7" r="1.3"/><circle cx="180.6" cy="272.5" r="1.3"/><circle cx="181.3" cy="271.6" r="1.3"/><circle cx="182.4" cy="272.5" r="1.3"/><circle cx="183.4" cy="272.4" r="1.3"/><circle cx="184.6" cy="272.0" r="1.3"/><circle cx="185.8" cy="271.8" r="1.3"/><circle cx="186.6" cy="272.0" r="1.3"/><circle cx="187.8" cy="272.3" r="1.3"/><circle cx="189.3" cy="272.4" r="1.3"/><circle cx="190.2" cy="272.3" r="1.3"/><circle cx="191.4" cy="272.6" r="1.3"/><circle cx="192.0" cy="272.1" r="1.3"/><circle cx="193.4" cy="272.4" r="1.3"/></g>
<g fill="none" stroke="#2f78e6" stroke-width="1.0"><circle cx="42.2" cy="231.7" r="1.3"/><circle cx="43.3" cy="233.6" r="1.3"/><circle cx="44.7" cy="232.9" r="1.3"/><circle cx="45.4" cy="236.6" r="1.3"/><circle cx="46.4" cy="234.9" r="1.3"/><circle cx="47.4" cy="235.3" r="1.3"/><circle cx="48.5" cy="235.4" r="1.3"/><circle cx="49.9" cy="236.9" r="1.3"/><circle cx="51.0" cy="234.1" r="1.3"/><circle cx="52.4" cy="237.3" r="1.3"/><circle cx="53.0" cy="235.8" r="1.3"/><circle cx="54.5" cy="235.0" r="1.3"/><circle cx="55.4" cy="234.5" r="1.3"/><circle cx="56.5" cy="235.4" r="1.3"/><circle cx="57.0" cy="236.2" r="1.3"/><circle cx="58.3" cy="235.8" r="1.3"/><circle cx="59.9" cy="234.1" r="1.3"/><circle cx="61.2" cy="234.8" r="1.3"/><circle cx="62.0" cy="232.8" r="1.3"/><circle cx="63.2" cy="235.1" r="1.3"/><circle cx="63.6" cy="234.0" r="1.3"/><circle cx="64.2" cy="232.5" r="1.3"/><circle cx="64.7" cy="239.0" r="1.3"/><circle cx="65.7" cy="238.8" r="1.3"/><circle cx="66.1" cy="238.3" r="1.3"/><circle cx="66.6" cy="240.7" r="1.3"/><circle cx="67.5" cy="239.7" r="1.3"/><circle cx="68.8" cy="245.1" r="1.3"/><circle cx="69.8" cy="241.9" r="1.3"/><circle cx="70.6" cy="237.9" r="1.3"/><circle cx="72.3" cy="242.0" r="1.3"/><circle cx="73.0" cy="240.4" r="1.3"/><circle cx="74.0" cy="245.0" r="1.3"/><circle cx="75.5" cy="239.5" r="1.3"/><circle cx="76.5" cy="237.3" r="1.3"/><circle cx="77.3" cy="242.1" r="1.3"/><circle cx="78.5" cy="241.8" r="1.3"/><circle cx="79.2" cy="242.4" r="1.3"/><circle cx="80.4" cy="239.9" r="1.3"/><circle cx="81.1" cy="245.3" r="1.3"/><circle cx="83.0" cy="248.0" r="1.3"/><circle cx="83.4" cy="241.5" r="1.3"/><circle cx="85.1" cy="247.5" r="1.3"/><circle cx="85.8" cy="244.5" r="1.3"/><circle cx="86.8" cy="250.2" r="1.3"/><circle cx="88.1" cy="246.7" r="1.3"/><circle cx="89.3" cy="245.3" r="1.3"/><circle cx="90.5" cy="247.5" r="1.3"/><circle cx="91.9" cy="246.3" r="1.3"/><circle cx="92.6" cy="244.3" r="1.3"/><circle cx="93.8" cy="247.1" r="1.3"/><circle cx="94.5" cy="245.3" r="1.3"/><circle cx="96.0" cy="243.4" r="1.3"/><circle cx="96.9" cy="250.6" r="1.3"/><circle cx="97.8" cy="246.5" r="1.3"/><circle cx="99.0" cy="246.1" r="1.3"/><circle cx="100.1" cy="247.9" r="1.3"/><circle cx="101.3" cy="244.5" r="1.3"/><circle cx="102.4" cy="245.1" r="1.3"/><circle cx="103.3" cy="246.9" r="1.3"/><circle cx="104.3" cy="247.2" r="1.3"/><circle cx="105.8" cy="248.6" r="1.3"/><circle cx="106.3" cy="250.6" r="1.3"/><circle cx="107.7" cy="247.5" r="1.3"/><circle cx="109.3" cy="248.9" r="1.3"/><circle cx="109.3" cy="248.5" r="1.3"/><circle cx="110.9" cy="245.0" r="1.3"/><circle cx="112.3" cy="246.8" r="1.3"/><circle cx="112.7" cy="244.4" r="1.3"/><circle cx="114.7" cy="247.2" r="1.3"/><circle cx="114.3" cy="245.5" r="1.3"/><circle cx="116.2" cy="244.0" r="1.3"/><circle cx="117.0" cy="241.0" r="1.3"/><circle cx="117.7" cy="242.5" r="1.3"/><circle cx="118.3" cy="240.3" r="1.3"/><circle cx="119.3" cy="241.9" r="1.3"/><circle cx="119.9" cy="239.7" r="1.3"/><circle cx="121.3" cy="237.7" r="1.3"/><circle cx="121.8" cy="239.9" r="1.3"/><circle cx="122.9" cy="238.6" r="1.3"/><circle cx="124.3" cy="235.2" r="1.3"/><circle cx="124.9" cy="238.6" r="1.3"/><circle cx="126.0" cy="236.6" r="1.3"/><circle cx="127.0" cy="237.7" r="1.3"/><circle cx="127.4" cy="239.6" r="1.3"/><circle cx="128.7" cy="239.7" r="1.3"/><circle cx="129.0" cy="241.6" r="1.3"/><circle cx="129.0" cy="243.3" r="1.3"/><circle cx="129.8" cy="246.6" r="1.3"/><circle cx="130.0" cy="247.8" r="1.3"/><circle cx="130.4" cy="247.3" r="1.3"/><circle cx="130.9" cy="250.3" r="1.3"/><circle cx="131.1" cy="249.8" r="1.3"/><circle cx="131.8" cy="251.2" r="1.3"/><circle cx="131.8" cy="252.8" r="1.3"/><circle cx="132.5" cy="253.6" r="1.3"/><circle cx="132.5" cy="256.8" r="1.3"/><circle cx="133.1" cy="256.5" r="1.3"/><circle cx="133.0" cy="256.9" r="1.3"/><circle cx="133.3" cy="260.2" r="1.3"/><circle cx="133.4" cy="260.1" r="1.3"/><circle cx="134.1" cy="261.4" r="1.3"/><circle cx="134.5" cy="260.6" r="1.3"/><circle cx="135.1" cy="264.5" r="1.3"/><circle cx="135.2" cy="265.7" r="1.3"/><circle cx="135.2" cy="267.0" r="1.3"/><circle cx="135.4" cy="268.5" r="1.3"/><circle cx="135.9" cy="270.3" r="1.3"/><circle cx="136.1" cy="270.5" r="1.3"/><circle cx="136.8" cy="272.5" r="1.3"/><circle cx="137.0" cy="272.9" r="1.3"/><circle cx="136.8" cy="274.6" r="1.3"/><circle cx="137.2" cy="276.8" r="1.3"/><circle cx="138.1" cy="277.8" r="1.3"/><circle cx="138.2" cy="278.1" r="1.3"/><circle cx="138.4" cy="280.5" r="1.3"/><circle cx="139.1" cy="281.6" r="1.3"/><circle cx="139.1" cy="282.6" r="1.3"/><circle cx="139.6" cy="284.7" r="1.3"/><circle cx="140.0" cy="285.6" r="1.3"/><circle cx="140.0" cy="286.2" r="1.3"/><circle cx="141.2" cy="287.7" r="1.3"/><circle cx="141.1" cy="290.4" r="1.3"/><circle cx="141.7" cy="289.9" r="1.3"/><circle cx="142.2" cy="291.9" r="1.3"/><circle cx="143.0" cy="293.3" r="1.3"/><circle cx="143.3" cy="294.5" r="1.3"/><circle cx="143.9" cy="294.7" r="1.3"/><circle cx="144.1" cy="296.2" r="1.3"/><circle cx="145.2" cy="297.5" r="1.3"/><circle cx="145.5" cy="298.9" r="1.3"/><circle cx="146.6" cy="299.2" r="1.3"/><circle cx="147.4" cy="300.0" r="1.3"/><circle cx="148.1" cy="301.9" r="1.3"/><circle cx="149.4" cy="302.8" r="1.3"/><circle cx="149.9" cy="303.3" r="1.3"/><circle cx="150.9" cy="303.6" r="1.3"/><circle cx="151.7" cy="304.7" r="1.3"/><circle cx="152.6" cy="305.2" r="1.3"/><circle cx="153.9" cy="306.0" r="1.3"/><circle cx="154.9" cy="305.7" r="1.3"/><circle cx="155.3" cy="306.6" r="1.3"/><circle cx="157.0" cy="306.8" r="1.3"/><circle cx="157.9" cy="306.8" r="1.3"/><circle cx="159.1" cy="307.6" r="1.3"/><circle cx="160.0" cy="307.9" r="1.3"/><circle cx="160.7" cy="308.0" r="1.3"/><circle cx="161.8" cy="308.5" r="1.3"/><circle cx="163.6" cy="308.1" r="1.3"/><circle cx="164.3" cy="308.8" r="1.3"/><circle cx="165.0" cy="309.1" r="1.3"/><circle cx="166.6" cy="309.1" r="1.3"/><circle cx="167.5" cy="309.4" r="1.3"/><circle cx="168.2" cy="308.6" r="1.3"/><circle cx="169.2" cy="308.6" r="1.3"/><circle cx="170.5" cy="309.3" r="1.3"/><circle cx="172.0" cy="309.3" r="1.3"/><circle cx="173.1" cy="309.9" r="1.3"/><circle cx="174.1" cy="309.3" r="1.3"/><circle cx="175.3" cy="308.7" r="1.3"/><circle cx="176.5" cy="309.3" r="1.3"/><circle cx="176.9" cy="308.8" r="1.3"/><circle cx="178.5" cy="308.7" r="1.3"/><circle cx="179.5" cy="310.2" r="1.3"/><circle cx="180.5" cy="309.4" r="1.3"/><circle cx="181.7" cy="309.6" r="1.3"/><circle cx="182.9" cy="309.6" r="1.3"/><circle cx="184.0" cy="310.0" r="1.3"/><circle cx="184.8" cy="309.6" r="1.3"/><circle cx="186.1" cy="310.0" r="1.3"/><circle cx="187.9" cy="309.2" r="1.3"/><circle cx="188.2" cy="309.1" r="1.3"/><circle cx="189.1" cy="310.0" r="1.3"/><circle cx="190.7" cy="309.9" r="1.3"/><circle cx="191.9" cy="309.5" r="1.3"/><circle cx="193.0" cy="309.4" r="1.3"/></g>
<g fill="none" stroke="#2e22d6" stroke-width="1.0"><circle cx="42.5" cy="267.1" r="1.3"/><circle cx="43.5" cy="272.2" r="1.3"/><circle cx="44.3" cy="269.3" r="1.3"/><circle cx="45.3" cy="269.0" r="1.3"/><circle cx="47.0" cy="270.5" r="1.3"/><circle cx="47.4" cy="271.8" r="1.3"/><circle cx="48.6" cy="273.7" r="1.3"/><circle cx="49.9" cy="273.4" r="1.3"/><circle cx="50.9" cy="271.6" r="1.3"/><circle cx="52.5" cy="272.8" r="1.3"/><circle cx="52.5" cy="270.1" r="1.3"/><circle cx="54.2" cy="270.9" r="1.3"/><circle cx="55.4" cy="265.4" r="1.3"/><circle cx="56.0" cy="264.4" r="1.3"/><circle cx="57.2" cy="269.4" r="1.3"/><circle cx="58.6" cy="264.9" r="1.3"/><circle cx="60.0" cy="267.7" r="1.3"/><circle cx="60.4" cy="268.8" r="1.3"/><circle cx="61.2" cy="268.8" r="1.3"/><circle cx="62.9" cy="269.5" r="1.3"/><circle cx="63.9" cy="273.6" r="1.3"/><circle cx="64.3" cy="267.3" r="1.3"/><circle cx="64.7" cy="274.0" r="1.3"/><circle cx="66.5" cy="277.2" r="1.3"/><circle cx="67.0" cy="274.0" r="1.3"/><circle cx="68.4" cy="274.8" r="1.3"/><circle cx="69.2" cy="277.0" r="1.3"/><circle cx="70.1" cy="279.6" r="1.3"/><circle cx="71.2" cy="273.8" r="1.3"/><circle cx="72.7" cy="276.1" r="1.3"/><circle cx="73.8" cy="275.5" r="1.3"/><circle cx="74.0" cy="277.0" r="1.3"/><circle cx="75.3" cy="276.5" r="1.3"/><circle cx="77.1" cy="278.0" r="1.3"/><circle cx="77.6" cy="276.4" r="1.3"/><circle cx="78.5" cy="277.9" r="1.3"/><circle cx="79.9" cy="276.8" r="1.3"/><circle cx="80.9" cy="277.0" r="1.3"/><circle cx="82.0" cy="278.1" r="1.3"/><circle cx="83.0" cy="278.4" r="1.3"/><circle cx="84.1" cy="277.0" r="1.3"/><circle cx="85.2" cy="283.0" r="1.3"/><circle cx="86.4" cy="280.4" r="1.3"/><circle cx="87.2" cy="278.5" r="1.3"/><circle cx="88.5" cy="283.6" r="1.3"/><circle cx="89.6" cy="280.4" r="1.3"/><circle cx="91.0" cy="282.9" r="1.3"/><circle cx="91.9" cy="281.9" r="1.3"/><circle cx="92.8" cy="282.2" r="1.3"/><circle cx="94.1" cy="281.8" r="1.3"/><circle cx="95.1" cy="280.2" r="1.3"/><circle cx="96.4" cy="281.3" r="1.3"/><circle cx="97.3" cy="285.2" r="1.3"/><circle cx="98.7" cy="277.7" r="1.3"/><circle cx="99.7" cy="282.5" r="1.3"/><circle cx="100.5" cy="283.7" r="1.3"/><circle cx="101.5" cy="281.3" r="1.3"/><circle cx="102.9" cy="281.0" r="1.3"/><circle cx="103.9" cy="287.8" r="1.3"/><circle cx="104.8" cy="283.2" r="1.3"/><circle cx="105.6" cy="287.9" r="1.3"/><circle cx="106.6" cy="284.8" r="1.3"/><circle cx="108.2" cy="283.6" r="1.3"/><circle cx="109.5" cy="283.9" r="1.3"/><circle cx="110.5" cy="283.7" r="1.3"/><circle cx="111.0" cy="284.2" r="1.3"/><circle cx="112.6" cy="282.5" r="1.3"/><circle cx="113.1" cy="281.5" r="1.3"/><circle cx="114.3" cy="280.8" r="1.3"/><circle cx="115.2" cy="281.8" r="1.3"/><circle cx="115.7" cy="280.0" r="1.3"/><circle cx="116.5" cy="276.3" r="1.3"/><circle cx="116.8" cy="275.6" r="1.3"/><circle cx="117.7" cy="275.6" r="1.3"/><circle cx="118.0" cy="272.7" r="1.3"/><circle cx="119.1" cy="271.6" r="1.3"/><circle cx="119.6" cy="269.6" r="1.3"/><circle cx="120.3" cy="269.5" r="1.3"/><circle cx="120.6" cy="269.5" r="1.3"/><circle cx="120.8" cy="269.3" r="1.3"/><circle cx="121.4" cy="266.9" r="1.3"/><circle cx="121.6" cy="268.2" r="1.3"/><circle cx="122.3" cy="264.0" r="1.3"/><circle cx="122.6" cy="267.0" r="1.3"/><circle cx="122.6" cy="262.9" r="1.3"/><circle cx="123.3" cy="261.0" r="1.3"/><circle cx="123.7" cy="258.3" r="1.3"/><circle cx="124.0" cy="253.3" r="1.3"/><circle cx="124.7" cy="255.6" r="1.3"/><circle cx="125.4" cy="254.6" r="1.3"/><circle cx="125.3" cy="255.9" r="1.3"/><circle cx="125.7" cy="249.7" r="1.3"/><circle cx="125.6" cy="253.9" r="1.3"/><circle cx="126.7" cy="249.2" r="1.3"/><circle cx="127.5" cy="250.9" r="1.3"/><circle cx="128.0" cy="244.3" r="1.3"/><circle cx="129.3" cy="251.0" r="1.3"/><circle cx="129.9" cy="251.2" r="1.3"/><circle cx="130.1" cy="254.1" r="1.3"/><circle cx="130.7" cy="254.3" r="1.3"/><circle cx="131.0" cy="254.1" r="1.3"/><circle cx="131.7" cy="258.2" r="1.3"/><circle cx="131.4" cy="259.3" r="1.3"/><circle cx="132.0" cy="260.5" r="1.3"/><circle cx="132.8" cy="262.2" r="1.3"/><circle cx="132.6" cy="263.6" r="1.3"/><circle cx="132.9" cy="263.8" r="1.3"/><circle cx="133.0" cy="263.8" r="1.3"/><circle cx="133.0" cy="265.1" r="1.3"/><circle cx="133.6" cy="269.3" r="1.3"/><circle cx="133.9" cy="270.0" r="1.3"/><circle cx="133.8" cy="270.7" r="1.3"/><circle cx="134.4" cy="271.5" r="1.3"/><circle cx="134.9" cy="273.3" r="1.3"/><circle cx="135.1" cy="274.7" r="1.3"/><circle cx="134.7" cy="275.8" r="1.3"/><circle cx="135.1" cy="276.8" r="1.3"/><circle cx="135.2" cy="280.6" r="1.3"/><circle cx="136.1" cy="280.1" r="1.3"/><circle cx="136.2" cy="280.5" r="1.3"/><circle cx="136.5" cy="281.1" r="1.3"/><circle cx="136.4" cy="282.8" r="1.3"/><circle cx="136.6" cy="285.3" r="1.3"/><circle cx="137.2" cy="286.7" r="1.3"/><circle cx="137.5" cy="287.3" r="1.3"/><circle cx="137.5" cy="289.0" r="1.3"/><circle cx="138.0" cy="290.2" r="1.3"/><circle cx="138.3" cy="291.2" r="1.3"/><circle cx="138.4" cy="294.1" r="1.3"/><circle cx="138.3" cy="295.0" r="1.3"/><circle cx="138.2" cy="297.4" r="1.3"/><circle cx="138.8" cy="297.3" r="1.3"/><circle cx="139.0" cy="298.9" r="1.3"/><circle cx="139.0" cy="300.7" r="1.3"/><circle cx="139.1" cy="301.6" r="1.3"/><circle cx="139.2" cy="302.5" r="1.3"/><circle cx="139.6" cy="304.0" r="1.3"/><circle cx="139.6" cy="305.7" r="1.3"/><circle cx="139.7" cy="307.1" r="1.3"/><circle cx="139.6" cy="308.4" r="1.3"/><circle cx="139.8" cy="310.2" r="1.3"/><circle cx="140.2" cy="311.6" r="1.3"/><circle cx="140.0" cy="312.8" r="1.3"/><circle cx="140.1" cy="314.0" r="1.3"/><circle cx="140.5" cy="315.2" r="1.3"/><circle cx="141.1" cy="316.8" r="1.3"/><circle cx="141.0" cy="318.2" r="1.3"/><circle cx="141.5" cy="319.3" r="1.3"/><circle cx="141.3" cy="320.8" r="1.3"/><circle cx="141.4" cy="321.9" r="1.3"/><circle cx="141.4" cy="323.0" r="1.3"/><circle cx="141.8" cy="324.5" r="1.3"/><circle cx="142.5" cy="326.5" r="1.3"/><circle cx="142.5" cy="327.6" r="1.3"/><circle cx="142.9" cy="329.4" r="1.3"/><circle cx="143.4" cy="329.9" r="1.3"/><circle cx="143.7" cy="331.4" r="1.3"/><circle cx="144.3" cy="332.8" r="1.3"/><circle cx="145.0" cy="333.7" r="1.3"/><circle cx="145.9" cy="334.0" r="1.3"/><circle cx="146.7" cy="335.2" r="1.3"/><circle cx="147.4" cy="336.3" r="1.3"/><circle cx="148.2" cy="336.7" r="1.3"/><circle cx="148.7" cy="338.2" r="1.3"/><circle cx="149.7" cy="339.3" r="1.3"/><circle cx="150.4" cy="339.4" r="1.3"/><circle cx="151.8" cy="341.2" r="1.3"/><circle cx="151.9" cy="340.9" r="1.3"/><circle cx="153.4" cy="341.6" r="1.3"/><circle cx="155.0" cy="342.2" r="1.3"/><circle cx="155.3" cy="342.6" r="1.3"/><circle cx="156.1" cy="343.6" r="1.3"/><circle cx="157.3" cy="344.0" r="1.3"/><circle cx="158.7" cy="345.1" r="1.3"/><circle cx="159.4" cy="345.2" r="1.3"/><circle cx="160.7" cy="345.3" r="1.3"/><circle cx="161.7" cy="345.2" r="1.3"/><circle cx="162.6" cy="344.9" r="1.3"/><circle cx="164.6" cy="345.4" r="1.3"/><circle cx="164.9" cy="345.2" r="1.3"/><circle cx="165.9" cy="345.9" r="1.3"/><circle cx="167.0" cy="345.6" r="1.3"/><circle cx="168.3" cy="346.2" r="1.3"/><circle cx="169.4" cy="345.9" r="1.3"/><circle cx="170.6" cy="345.9" r="1.3"/><circle cx="171.6" cy="345.7" r="1.3"/><circle cx="172.3" cy="345.6" r="1.3"/><circle cx="173.9" cy="345.8" r="1.3"/><circle cx="174.7" cy="345.9" r="1.3"/><circle cx="175.8" cy="345.3" r="1.3"/><circle cx="176.7" cy="345.7" r="1.3"/><circle cx="178.0" cy="346.5" r="1.3"/><circle cx="179.0" cy="345.6" r="1.3"/><circle cx="180.3" cy="345.6" r="1.3"/><circle cx="181.1" cy="345.5" r="1.3"/><circle cx="182.5" cy="345.2" r="1.3"/><circle cx="183.7" cy="346.2" r="1.3"/><circle cx="184.4" cy="345.8" r="1.3"/><circle cx="185.7" cy="346.0" r="1.3"/><circle cx="186.7" cy="346.6" r="1.3"/><circle cx="188.2" cy="346.9" r="1.3"/><circle cx="188.5" cy="345.7" r="1.3"/><circle cx="190.1" cy="346.4" r="1.3"/><circle cx="190.9" cy="346.3" r="1.3"/><circle cx="192.3" cy="346.3" r="1.3"/><circle cx="193.7" cy="346.3" r="1.3"/></g>
<g fill="none" stroke="#bf22e0" stroke-width="1.0"><circle cx="42.2" cy="305.2" r="1.3"/><circle cx="43.7" cy="306.7" r="1.3"/><circle cx="44.5" cy="304.2" r="1.3"/><circle cx="45.9" cy="309.9" r="1.3"/><circle cx="47.1" cy="307.3" r="1.3"/><circle cx="47.3" cy="307.9" r="1.3"/><circle cx="49.0" cy="303.7" r="1.3"/><circle cx="49.7" cy="305.3" r="1.3"/><circle cx="50.5" cy="310.8" r="1.3"/><circle cx="51.8" cy="309.3" r="1.3"/><circle cx="53.0" cy="309.7" r="1.3"/><circle cx="54.4" cy="310.8" r="1.3"/><circle cx="54.8" cy="307.3" r="1.3"/><circle cx="56.5" cy="311.0" r="1.3"/><circle cx="57.8" cy="309.1" r="1.3"/><circle cx="58.5" cy="309.8" r="1.3"/><circle cx="59.6" cy="307.4" r="1.3"/><circle cx="60.5" cy="309.8" r="1.3"/><circle cx="61.2" cy="307.4" r="1.3"/><circle cx="62.8" cy="310.9" r="1.3"/><circle cx="63.8" cy="311.3" r="1.3"/><circle cx="65.0" cy="311.0" r="1.3"/><circle cx="66.5" cy="310.4" r="1.3"/><circle cx="67.2" cy="311.1" r="1.3"/><circle cx="68.2" cy="304.3" r="1.3"/><circle cx="69.6" cy="312.3" r="1.3"/><circle cx="69.9" cy="310.2" r="1.3"/><circle cx="71.0" cy="311.0" r="1.3"/><circle cx="72.3" cy="310.3" r="1.3"/><circle cx="73.2" cy="308.3" r="1.3"/><circle cx="74.6" cy="310.2" r="1.3"/><circle cx="75.4" cy="313.0" r="1.3"/><circle cx="76.9" cy="315.0" r="1.3"/><circle cx="77.9" cy="311.5" r="1.3"/><circle cx="78.8" cy="311.5" r="1.3"/><circle cx="79.6" cy="316.5" r="1.3"/><circle cx="80.9" cy="312.7" r="1.3"/><circle cx="82.0" cy="318.9" r="1.3"/><circle cx="82.6" cy="315.4" r="1.3"/><circle cx="84.0" cy="313.7" r="1.3"/><circle cx="85.1" cy="317.3" r="1.3"/><circle cx="86.1" cy="318.7" r="1.3"/><circle cx="87.5" cy="313.2" r="1.3"/><circle cx="88.4" cy="319.3" r="1.3"/><circle cx="89.0" cy="316.4" r="1.3"/><circle cx="90.3" cy="320.1" r="1.3"/><circle cx="91.1" cy="316.8" r="1.3"/><circle cx="92.6" cy="314.8" r="1.3"/><circle cx="93.3" cy="319.0" r="1.3"/><circle cx="94.8" cy="320.0" r="1.3"/><circle cx="95.7" cy="322.4" r="1.3"/><circle cx="97.0" cy="321.7" r="1.3"/><circle cx="97.8" cy="320.0" r="1.3"/><circle cx="98.5" cy="318.6" r="1.3"/><circle cx="100.4" cy="318.6" r="1.3"/><circle cx="101.0" cy="319.4" r="1.3"/><circle cx="102.5" cy="318.5" r="1.3"/><circle cx="103.3" cy="319.5" r="1.3"/><circle cx="104.4" cy="315.4" r="1.3"/><circle cx="105.8" cy="320.4" r="1.3"/><circle cx="106.5" cy="320.5" r="1.3"/><circle cx="107.8" cy="325.6" r="1.3"/><circle cx="108.2" cy="322.8" r="1.3"/><circle cx="109.9" cy="320.6" r="1.3"/><circle cx="110.7" cy="322.5" r="1.3"/><circle cx="111.8" cy="318.9" r="1.3"/><circle cx="113.0" cy="319.9" r="1.3"/><circle cx="114.2" cy="317.3" r="1.3"/><circle cx="115.5" cy="322.5" r="1.3"/><circle cx="115.7" cy="320.5" r="1.3"/><circle cx="117.0" cy="317.2" r="1.3"/><circle cx="117.6" cy="318.2" r="1.3"/><circle cx="118.9" cy="319.2" r="1.3"/><circle cx="119.4" cy="317.9" r="1.3"/><circle cx="120.4" cy="316.9" r="1.3"/><circle cx="120.8" cy="314.2" r="1.3"/><circle cx="121.5" cy="313.4" r="1.3"/><circle cx="122.1" cy="312.9" r="1.3"/><circle cx="122.1" cy="312.4" r="1.3"/><circle cx="122.6" cy="308.9" r="1.3"/><circle cx="122.6" cy="307.2" r="1.3"/><circle cx="123.4" cy="308.4" r="1.3"/><circle cx="123.9" cy="304.7" r="1.3"/><circle cx="123.8" cy="305.5" r="1.3"/><circle cx="124.5" cy="303.2" r="1.3"/><circle cx="123.9" cy="302.4" r="1.3"/><circle cx="124.2" cy="301.9" r="1.3"/><circle cx="124.6" cy="299.6" r="1.3"/><circle cx="125.0" cy="298.5" r="1.3"/><circle cx="125.3" cy="295.7" r="1.3"/><circle cx="125.5" cy="294.5" r="1.3"/><circle cx="125.7" cy="294.4" r="1.3"/><circle cx="126.1" cy="293.9" r="1.3"/><circle cx="126.0" cy="292.5" r="1.3"/><circle cx="126.0" cy="292.1" r="1.3"/><circle cx="126.2" cy="288.8" r="1.3"/><circle cx="127.2" cy="287.4" r="1.3"/><circle cx="126.3" cy="286.8" r="1.3"/><circle cx="127.0" cy="284.5" r="1.3"/><circle cx="127.6" cy="283.0" r="1.3"/><circle cx="127.6" cy="280.4" r="1.3"/><circle cx="127.7" cy="282.3" r="1.3"/><circle cx="128.4" cy="277.4" r="1.3"/><circle cx="129.2" cy="279.4" r="1.3"/><circle cx="130.1" cy="273.5" r="1.3"/><circle cx="130.5" cy="280.9" r="1.3"/><circle cx="131.5" cy="277.6" r="1.3"/><circle cx="131.9" cy="282.1" r="1.3"/><circle cx="132.5" cy="279.3" r="1.3"/><circle cx="132.9" cy="282.2" r="1.3"/><circle cx="132.8" cy="285.4" r="1.3"/><circle cx="132.7" cy="284.3" r="1.3"/><circle cx="133.4" cy="286.6" r="1.3"/><circle cx="134.0" cy="287.3" r="1.3"/><circle cx="133.9" cy="287.0" r="1.3"/><circle cx="133.9" cy="290.8" r="1.3"/><circle cx="134.6" cy="292.4" r="1.3"/><circle cx="133.9" cy="292.6" r="1.3"/><circle cx="134.6" cy="295.4" r="1.3"/><circle cx="134.3" cy="295.9" r="1.3"/><circle cx="134.6" cy="297.3" r="1.3"/><circle cx="134.7" cy="299.3" r="1.3"/><circle cx="135.2" cy="300.3" r="1.3"/><circle cx="134.7" cy="303.4" r="1.3"/><circle cx="134.9" cy="302.6" r="1.3"/><circle cx="134.7" cy="305.1" r="1.3"/><circle cx="135.3" cy="306.5" r="1.3"/><circle cx="135.2" cy="306.3" r="1.3"/><circle cx="135.5" cy="307.8" r="1.3"/><circle cx="135.2" cy="310.3" r="1.3"/><circle cx="135.5" cy="311.3" r="1.3"/><circle cx="135.9" cy="313.1" r="1.3"/><circle cx="135.7" cy="314.7" r="1.3"/><circle cx="136.0" cy="315.6" r="1.3"/><circle cx="136.0" cy="316.7" r="1.3"/><circle cx="135.9" cy="317.6" r="1.3"/><circle cx="135.6" cy="319.9" r="1.3"/><circle cx="136.3" cy="320.9" r="1.3"/><circle cx="136.2" cy="322.6" r="1.3"/><circle cx="136.5" cy="324.0" r="1.3"/><circle cx="135.8" cy="324.8" r="1.3"/><circle cx="135.9" cy="327.1" r="1.3"/><circle cx="135.9" cy="328.3" r="1.3"/><circle cx="136.3" cy="329.6" r="1.3"/><circle cx="136.9" cy="330.1" r="1.3"/><circle cx="137.0" cy="332.0" r="1.3"/><circle cx="137.0" cy="333.4" r="1.3"/><circle cx="137.2" cy="334.9" r="1.3"/><circle cx="137.5" cy="335.8" r="1.3"/><circle cx="137.5" cy="338.0" r="1.3"/><circle cx="137.9" cy="339.0" r="1.3"/><circle cx="138.1" cy="340.4" r="1.3"/><circle cx="137.7" cy="341.2" r="1.3"/><circle cx="138.4" cy="343.6" r="1.3"/><circle cx="139.0" cy="344.5" r="1.3"/><circle cx="138.8" cy="344.5" r="1.3"/><circle cx="139.0" cy="346.8" r="1.3"/><circle cx="139.1" cy="348.3" r="1.3"/><circle cx="139.3" cy="349.9" r="1.3"/><circle cx="139.8" cy="350.7" r="1.3"/><circle cx="139.6" cy="352.0" r="1.3"/><circle cx="139.6" cy="353.3" r="1.3"/><circle cx="139.2" cy="355.2" r="1.3"/><circle cx="140.0" cy="356.2" r="1.3"/><circle cx="139.8" cy="357.6" r="1.3"/><circle cx="140.0" cy="358.9" r="1.3"/><circle cx="140.9" cy="360.6" r="1.3"/><circle cx="141.1" cy="361.6" r="1.3"/><circle cx="140.6" cy="362.5" r="1.3"/><circle cx="141.5" cy="364.6" r="1.3"/><circle cx="141.6" cy="365.5" r="1.3"/><circle cx="141.5" cy="367.2" r="1.3"/><circle cx="142.1" cy="368.6" r="1.3"/><circle cx="141.8" cy="370.1" r="1.3"/><circle cx="142.2" cy="371.4" r="1.3"/><circle cx="142.4" cy="372.3" r="1.3"/><circle cx="142.8" cy="373.8" r="1.3"/><circle cx="143.7" cy="374.8" r="1.3"/><circle cx="143.7" cy="377.0" r="1.3"/><circle cx="144.3" cy="377.9" r="1.3"/><circle cx="145.0" cy="379.3" r="1.3"/><circle cx="146.1" cy="379.6" r="1.3"/><circle cx="146.9" cy="379.6" r="1.3"/><circle cx="148.2" cy="381.4" r="1.3"/><circle cx="148.8" cy="381.3" r="1.3"/><circle cx="149.7" cy="381.7" r="1.3"/><circle cx="151.0" cy="382.1" r="1.3"/><circle cx="152.2" cy="382.5" r="1.3"/><circle cx="153.1" cy="382.7" r="1.3"/><circle cx="154.5" cy="382.0" r="1.3"/><circle cx="155.9" cy="383.1" r="1.3"/><circle cx="156.4" cy="382.6" r="1.3"/><circle cx="157.7" cy="382.7" r="1.3"/><circle cx="159.1" cy="383.5" r="1.3"/><circle cx="159.7" cy="383.2" r="1.3"/><circle cx="160.8" cy="382.8" r="1.3"/><circle cx="161.8" cy="382.3" r="1.3"/><circle cx="163.3" cy="383.1" r="1.3"/><circle cx="164.4" cy="383.3" r="1.3"/><circle cx="165.3" cy="383.1" r="1.3"/><circle cx="166.5" cy="382.7" r="1.3"/><circle cx="167.9" cy="382.8" r="1.3"/><circle cx="168.9" cy="382.6" r="1.3"/><circle cx="169.4" cy="383.1" r="1.3"/><circle cx="170.9" cy="383.4" r="1.3"/><circle cx="172.0" cy="383.6" r="1.3"/><circle cx="173.3" cy="383.0" r="1.3"/><circle cx="174.1" cy="383.4" r="1.3"/><circle cx="175.1" cy="383.6" r="1.3"/><circle cx="176.3" cy="383.1" r="1.3"/><circle cx="177.0" cy="383.2" r="1.3"/><circle cx="178.6" cy="384.0" r="1.3"/><circle cx="179.5" cy="383.3" r="1.3"/><circle cx="180.9" cy="383.5" r="1.3"/><circle cx="181.6" cy="383.0" r="1.3"/><circle cx="182.9" cy="383.2" r="1.3"/><circle cx="183.8" cy="382.6" r="1.3"/><circle cx="184.9" cy="383.2" r="1.3"/><circle cx="186.5" cy="383.7" r="1.3"/><circle cx="187.3" cy="384.1" r="1.3"/><circle cx="188.6" cy="383.8" r="1.3"/><circle cx="189.3" cy="383.6" r="1.3"/><circle cx="190.7" cy="383.3" r="1.3"/><circle cx="191.4" cy="383.0" r="1.3"/><circle cx="192.8" cy="383.1" r="1.3"/></g>
<path d="M67.3,129.4 L67.8,129.6 L68.3,129.7 L68.8,129.9 L69.3,130.1 L69.8,130.2 L70.3,130.4 L70.8,130.6 L71.3,130.7 L71.8,130.9 L72.3,131.1 L72.8,131.2 L73.3,131.4 L73.8,131.6 L74.3,131.7 L74.8,131.9 L75.3,132.1 L75.8,132.2 L76.3,132.4 L76.8,132.6 L77.3,132.7 L77.8,132.9 L78.3,133.1 L78.8,133.3 L79.3,133.4 L79.8,133.6 L80.3,133.8 L80.8,133.9 L81.3,134.1 L81.8,134.3 L82.3,134.5 L82.8,134.7 L83.3,134.9 L83.8,135.0 L84.3,135.2 L84.8,135.4 L85.3,135.6 L85.8,135.8 L86.3,136.0 L86.8,136.2 L87.3,136.3 L87.8,136.5 L88.3,136.7 L88.8,136.9 L89.3,137.0 L89.8,137.2 L90.3,137.3 L90.8,137.5 L91.3,137.6 L91.8,137.8 L92.3,137.9 L92.8,138.1 L93.3,138.2 L93.8,138.3 L94.3,138.5 L94.8,138.6 L95.3,138.7 L95.8,138.8 L96.3,139.0 L96.8,139.1 L97.3,139.2 L97.8,139.3 L98.3,139.4 L98.8,139.5 L99.3,139.6 L99.8,139.8 L100.3,139.9 L100.8,140.0 L101.3,140.1 L101.8,140.1 L102.3,140.2 L102.8,140.3 L103.3,140.4 L103.8,140.5 L104.3,140.6 L104.8,140.6 L105.3,140.7 L105.8,140.8 L106.3,140.8 L106.8,140.9 L107.3,141.0 L107.8,141.1 L108.3,141.1 L108.8,141.2 L109.3,141.2 L109.8,141.3 L110.3,141.3 L110.8,141.4 L111.3,141.4 L111.8,141.4 L112.3,141.4 L112.8,141.4 L113.3,141.3 L113.8,141.3 L114.3,141.2 L114.8,141.1 L115.3,141.0 L115.8,140.9 L116.3,140.8 L116.8,140.7 L117.3,140.6 L117.8,140.5 L118.3,140.3 L118.8,140.2 L119.3,140.0 L119.8,139.9 L120.3,139.8 L120.8,139.7 L121.3,139.6 L121.8,139.5 L122.3,139.5 L122.8,139.4 L123.3,139.4 L123.8,139.3 L124.3,139.3 L124.8,139.3 L125.3,139.4 L125.8,139.6 L126.3,139.8 L126.8,140.1 L127.3,140.4 L127.8,140.8 L128.3,141.2 L128.8,141.6 L129.3,142.1 L129.8,142.7 L130.3,143.4 L130.8,144.2 L131.3,145.0 L131.8,145.9 L132.3,146.8 L132.8,147.7 L133.3,148.8 L133.8,149.9 L134.3,151.0 L134.8,152.2 L135.3,153.4 L135.8,154.5 L136.3,155.6 L136.8,156.7 L137.3,157.7 L137.8,158.7 L138.3,159.7 L138.8,160.7 L139.3,161.7 L139.8,162.7 L140.3,163.6 L140.8,164.6 L141.3,165.6 L141.8,166.6 L142.3,167.7 L142.8,168.7 L143.3,169.7 L143.8,170.7 L144.3,171.7 L144.8,172.6 L145.3,173.4 L145.8,174.3 L146.3,175.1 L146.8,175.9 L147.3,176.7 L147.8,177.5 L148.3,178.2 L148.8,179.0 L149.3,179.7 L149.8,180.4 L150.3,181.1 L150.8,181.7 L151.3,182.4 L151.8,183.0 L152.3,183.7 L152.8,184.3 L153.3,185.0 L153.8,185.7 L154.3,186.4 L154.8,187.1 L155.3,187.8 L155.8,188.5 L156.3,189.2 L156.8,189.9 L157.3,190.5 L157.8,191.1 L158.3,191.6 L158.8,192.1 L159.3,192.5 L159.8,193.0 L160.3,193.4 L160.8,193.8 L161.3,194.2 L161.8,194.6 L162.3,194.9 L162.8,195.3 L163.3,195.6 L163.8,195.9 L164.3,196.1 L164.8,196.4 L165.3,196.6 L165.8,196.7 L166.3,196.9 L166.8,197.1 L167.3,197.2 L167.8,197.4 L168.3,197.5 L168.8,197.6 L169.3,197.7 L169.8,197.9 L170.3,198.0 L170.8,198.1 L171.3,198.2 L171.8,198.3 L172.3,198.3 L172.8,198.4 L173.3,198.5 L173.8,198.6 L174.3,198.6 L174.8,198.7 L175.3,198.7 L175.8,198.8 L176.3,198.9 L176.8,198.9 L177.3,199.0 L177.8,199.0 L178.3,199.1 L178.8,199.1 L179.3,199.2 L179.8,199.2 L180.3,199.2 L180.8,199.3 L181.3,199.3 L181.8,199.3 L182.3,199.4 L182.8,199.4 L183.3,199.4 L183.8,199.4 L184.3,199.5 L184.8,199.5 L185.3,199.5 L185.8,199.5 L186.3,199.5 L186.8,199.6 L187.3,199.6 L187.8,199.6 L188.3,199.6 L188.8,199.6 L189.3,199.6 L189.8,199.7 L190.3,199.7 L190.8,199.7 L191.3,199.7 L191.8,199.7 L192.3,199.7 L192.8,199.7 L193.3,199.7" fill="none" stroke="#0a0a0a" stroke-width="1.5" stroke-linejoin="round" transform="translate(0,0.5)"/>
<path d="M67.3,165.9 L67.8,166.0 L68.3,166.1 L68.8,166.3 L69.3,166.4 L69.8,166.5 L70.3,166.6 L70.8,166.8 L71.3,166.9 L71.8,167.0 L72.3,167.1 L72.8,167.3 L73.3,167.4 L73.8,167.5 L74.3,167.7 L74.8,167.8 L75.3,167.9 L75.8,168.1 L76.3,168.2 L76.8,168.3 L77.3,168.5 L77.8,168.6 L78.3,168.8 L78.8,168.9 L79.3,169.1 L79.8,169.2 L80.3,169.3 L80.8,169.5 L81.3,169.7 L81.8,169.8 L82.3,170.0 L82.8,170.2 L83.3,170.3 L83.8,170.5 L84.3,170.7 L84.8,170.8 L85.3,171.0 L85.8,171.2 L86.3,171.4 L86.8,171.5 L87.3,171.7 L87.8,171.9 L88.3,172.1 L88.8,172.2 L89.3,172.4 L89.8,172.5 L90.3,172.7 L90.8,172.8 L91.3,173.0 L91.8,173.1 L92.3,173.2 L92.8,173.3 L93.3,173.5 L93.8,173.6 L94.3,173.7 L94.8,173.9 L95.3,174.0 L95.8,174.1 L96.3,174.2 L96.8,174.3 L97.3,174.5 L97.8,174.6 L98.3,174.7 L98.8,174.8 L99.3,174.9 L99.8,175.0 L100.3,175.1 L100.8,175.2 L101.3,175.3 L101.8,175.4 L102.3,175.4 L102.8,175.5 L103.3,175.6 L103.8,175.6 L104.3,175.7 L104.8,175.7 L105.3,175.8 L105.8,175.8 L106.3,175.8 L106.8,175.9 L107.3,175.9 L107.8,175.9 L108.3,176.0 L108.8,176.0 L109.3,176.0 L109.8,176.0 L110.3,176.0 L110.8,175.9 L111.3,175.8 L111.8,175.7 L112.3,175.5 L112.8,175.3 L113.3,175.1 L113.8,174.9 L114.3,174.7 L114.8,174.5 L115.3,174.3 L115.8,174.0 L116.3,173.7 L116.8,173.5 L117.3,173.2 L117.8,172.9 L118.3,172.6 L118.8,172.3 L119.3,172.0 L119.8,171.8 L120.3,171.6 L120.8,171.3 L121.3,171.1 L121.8,170.8 L122.3,170.6 L122.8,170.3 L123.3,170.1 L123.8,169.9 L124.3,169.7 L124.8,169.6 L125.3,169.6 L125.8,169.6 L126.3,169.7 L126.8,169.9 L127.3,170.2 L127.8,170.5 L128.3,170.9 L128.8,171.3 L129.3,171.7 L129.8,172.2 L130.3,172.8 L130.8,173.8 L131.3,174.9 L131.8,176.1 L132.3,177.5 L132.8,178.8 L133.3,180.0 L133.8,181.2 L134.3,182.4 L134.8,183.6 L135.3,184.8 L135.8,186.0 L136.3,187.3 L136.8,188.7 L137.3,190.1 L137.8,191.7 L138.3,193.3 L138.8,194.9 L139.3,196.5 L139.8,198.0 L140.3,199.4 L140.8,200.7 L141.3,202.0 L141.8,203.2 L142.3,204.4 L142.8,205.6 L143.3,206.7 L143.8,207.8 L144.3,208.9 L144.8,210.0 L145.3,211.1 L145.8,212.2 L146.3,213.2 L146.8,214.2 L147.3,215.2 L147.8,216.1 L148.3,217.0 L148.8,217.9 L149.3,218.8 L149.8,219.7 L150.3,220.5 L150.8,221.3 L151.3,222.1 L151.8,222.8 L152.3,223.5 L152.8,224.2 L153.3,224.8 L153.8,225.4 L154.3,225.9 L154.8,226.5 L155.3,227.0 L155.8,227.5 L156.3,228.0 L156.8,228.5 L157.3,229.0 L157.8,229.4 L158.3,229.8 L158.8,230.2 L159.3,230.6 L159.8,230.9 L160.3,231.3 L160.8,231.6 L161.3,231.9 L161.8,232.2 L162.3,232.5 L162.8,232.8 L163.3,233.1 L163.8,233.3 L164.3,233.6 L164.8,233.8 L165.3,234.0 L165.8,234.2 L166.3,234.4 L166.8,234.5 L167.3,234.6 L167.8,234.7 L168.3,234.8 L168.8,234.9 L169.3,235.0 L169.8,235.1 L170.3,235.1 L170.8,235.2 L171.3,235.2 L171.8,235.3 L172.3,235.4 L172.8,235.4 L173.3,235.4 L173.8,235.5 L174.3,235.5 L174.8,235.5 L175.3,235.6 L175.8,235.6 L176.3,235.6 L176.8,235.7 L177.3,235.7 L177.8,235.7 L178.3,235.7 L178.8,235.8 L179.3,235.8 L179.8,235.8 L180.3,235.8 L180.8,235.8 L181.3,235.8 L181.8,235.9 L182.3,235.9 L182.8,235.9 L183.3,235.9 L183.8,235.9 L184.3,235.9 L184.8,235.9 L185.3,236.0 L185.8,236.0 L186.3,236.0 L186.8,236.0 L187.3,236.0 L187.8,236.0 L188.3,236.0 L188.8,236.0 L189.3,236.0 L189.8,236.1 L190.3,236.1 L190.8,236.1 L191.3,236.1 L191.8,236.1 L192.3,236.1 L192.8,236.1 L193.3,236.1" fill="none" stroke="#0a0a0a" stroke-width="1.5" stroke-linejoin="round" transform="translate(0,0.5)"/>
<path d="M67.3,203.2 L67.8,203.4 L68.3,203.6 L68.8,203.7 L69.3,203.9 L69.8,204.1 L70.3,204.3 L70.8,204.4 L71.3,204.6 L71.8,204.7 L72.3,204.9 L72.8,205.1 L73.3,205.2 L73.8,205.4 L74.3,205.5 L74.8,205.7 L75.3,205.8 L75.8,205.9 L76.3,206.1 L76.8,206.2 L77.3,206.3 L77.8,206.4 L78.3,206.6 L78.8,206.7 L79.3,206.8 L79.8,206.9 L80.3,207.0 L80.8,207.1 L81.3,207.2 L81.8,207.3 L82.3,207.4 L82.8,207.5 L83.3,207.6 L83.8,207.7 L84.3,207.7 L84.8,207.8 L85.3,207.9 L85.8,208.0 L86.3,208.1 L86.8,208.2 L87.3,208.2 L87.8,208.3 L88.3,208.4 L88.8,208.4 L89.3,208.5 L89.8,208.6 L90.3,208.7 L90.8,208.7 L91.3,208.8 L91.8,208.8 L92.3,208.9 L92.8,209.0 L93.3,209.0 L93.8,209.1 L94.3,209.2 L94.8,209.3 L95.3,209.3 L95.8,209.4 L96.3,209.5 L96.8,209.5 L97.3,209.6 L97.8,209.7 L98.3,209.7 L98.8,209.8 L99.3,209.9 L99.8,209.9 L100.3,210.0 L100.8,210.0 L101.3,210.1 L101.8,210.1 L102.3,210.1 L102.8,210.2 L103.3,210.2 L103.8,210.2 L104.3,210.2 L104.8,210.2 L105.3,210.2 L105.8,210.2 L106.3,210.1 L106.8,210.1 L107.3,210.0 L107.8,210.0 L108.3,209.9 L108.8,209.8 L109.3,209.7 L109.8,209.6 L110.3,209.4 L110.8,209.1 L111.3,208.8 L111.8,208.5 L112.3,208.1 L112.8,207.7 L113.3,207.4 L113.8,207.0 L114.3,206.5 L114.8,206.0 L115.3,205.4 L115.8,204.9 L116.3,204.4 L116.8,203.8 L117.3,203.3 L117.8,202.7 L118.3,202.1 L118.8,201.6 L119.3,201.0 L119.8,200.5 L120.3,200.0 L120.8,199.5 L121.3,198.9 L121.8,198.5 L122.3,198.1 L122.8,198.0 L123.3,198.0 L123.8,198.1 L124.3,198.2 L124.8,198.4 L125.3,198.5 L125.8,198.8 L126.3,199.2 L126.8,199.8 L127.3,200.6 L127.8,201.4 L128.3,202.2 L128.8,203.2 L129.3,204.4 L129.8,205.7 L130.3,207.0 L130.8,208.4 L131.3,209.8 L131.8,211.3 L132.3,212.8 L132.8,214.3 L133.3,216.0 L133.8,217.6 L134.3,219.3 L134.8,221.0 L135.3,222.7 L135.8,224.4 L136.3,226.0 L136.8,227.7 L137.3,229.5 L137.8,231.3 L138.3,233.1 L138.8,235.1 L139.3,237.4 L139.8,239.7 L140.3,242.0 L140.8,244.1 L141.3,245.9 L141.8,247.5 L142.3,248.9 L142.8,250.3 L143.3,251.5 L143.8,252.7 L144.3,253.9 L144.8,255.0 L145.3,256.1 L145.8,257.1 L146.3,258.1 L146.8,259.0 L147.3,259.7 L147.8,260.5 L148.3,261.2 L148.8,261.8 L149.3,262.5 L149.8,263.0 L150.3,263.6 L150.8,264.1 L151.3,264.6 L151.8,265.1 L152.3,265.5 L152.8,265.9 L153.3,266.3 L153.8,266.7 L154.3,267.1 L154.8,267.5 L155.3,267.8 L155.8,268.2 L156.3,268.5 L156.8,268.8 L157.3,269.1 L157.8,269.4 L158.3,269.6 L158.8,269.9 L159.3,270.1 L159.8,270.3 L160.3,270.4 L160.8,270.6 L161.3,270.7 L161.8,270.9 L162.3,271.0 L162.8,271.1 L163.3,271.2 L163.8,271.4 L164.3,271.5 L164.8,271.6 L165.3,271.6 L165.8,271.7 L166.3,271.8 L166.8,271.9 L167.3,271.9 L167.8,272.0 L168.3,272.0 L168.8,272.0 L169.3,272.1 L169.8,272.1 L170.3,272.2 L170.8,272.2 L171.3,272.2 L171.8,272.3 L172.3,272.3 L172.8,272.3 L173.3,272.3 L173.8,272.4 L174.3,272.4 L174.8,272.4 L175.3,272.4 L175.8,272.4 L176.3,272.4 L176.8,272.5 L177.3,272.5 L177.8,272.5 L178.3,272.5 L178.8,272.5 L179.3,272.5 L179.8,272.5 L180.3,272.5 L180.8,272.5 L181.3,272.5 L181.8,272.6 L182.3,272.6 L182.8,272.6 L183.3,272.6 L183.8,272.6 L184.3,272.6 L184.8,272.6 L185.3,272.6 L185.8,272.6 L186.3,272.6 L186.8,272.7 L187.3,272.7 L187.8,272.7 L188.3,272.7 L188.8,272.7 L189.3,272.7 L189.8,272.7 L190.3,272.7 L190.8,272.7 L191.3,272.8 L191.8,272.8 L192.3,272.8 L192.8,272.8 L193.3,272.8" fill="none" stroke="#0a0a0a" stroke-width="1.5" stroke-linejoin="round" transform="translate(0,0.5)"/>
<path d="M67.3,240.6 L67.8,240.7 L68.3,240.9 L68.8,241.0 L69.3,241.1 L69.8,241.2 L70.3,241.4 L70.8,241.5 L71.3,241.6 L71.8,241.7 L72.3,241.9 L72.8,242.0 L73.3,242.1 L73.8,242.2 L74.3,242.3 L74.8,242.5 L75.3,242.6 L75.8,242.7 L76.3,242.8 L76.8,242.9 L77.3,243.0 L77.8,243.2 L78.3,243.3 L78.8,243.4 L79.3,243.5 L79.8,243.6 L80.3,243.7 L80.8,243.8 L81.3,243.9 L81.8,244.0 L82.3,244.1 L82.8,244.3 L83.3,244.4 L83.8,244.5 L84.3,244.6 L84.8,244.7 L85.3,244.8 L85.8,244.9 L86.3,245.0 L86.8,245.1 L87.3,245.2 L87.8,245.3 L88.3,245.4 L88.8,245.5 L89.3,245.6 L89.8,245.7 L90.3,245.8 L90.8,245.9 L91.3,245.9 L91.8,246.0 L92.3,246.1 L92.8,246.2 L93.3,246.3 L93.8,246.4 L94.3,246.5 L94.8,246.6 L95.3,246.7 L95.8,246.8 L96.3,246.9 L96.8,247.0 L97.3,247.1 L97.8,247.2 L98.3,247.3 L98.8,247.4 L99.3,247.5 L99.8,247.6 L100.3,247.6 L100.8,247.7 L101.3,247.8 L101.8,247.8 L102.3,247.9 L102.8,247.9 L103.3,248.0 L103.8,248.0 L104.3,248.0 L104.8,248.0 L105.3,248.0 L105.8,248.0 L106.3,248.0 L106.8,248.0 L107.3,248.0 L107.8,247.9 L108.3,247.9 L108.8,247.9 L109.3,247.9 L109.8,247.8 L110.3,247.7 L110.8,247.5 L111.3,247.3 L111.8,247.1 L112.3,246.9 L112.8,246.6 L113.3,246.3 L113.8,246.0 L114.3,245.5 L114.8,245.1 L115.3,244.5 L115.8,244.0 L116.3,243.5 L116.8,243.0 L117.3,242.5 L117.8,242.0 L118.3,241.5 L118.8,241.0 L119.3,240.5 L119.8,240.1 L120.3,239.7 L120.8,239.4 L121.3,239.0 L121.8,238.6 L122.3,238.2 L122.8,237.9 L123.3,237.6 L123.8,237.4 L124.3,237.3 L124.8,237.3 L125.3,237.5 L125.8,237.8 L126.3,238.3 L126.8,238.8 L127.3,239.4 L127.8,240.1 L128.3,240.9 L128.8,242.0 L129.3,243.3 L129.8,244.9 L130.3,246.6 L130.8,248.4 L131.3,250.2 L131.8,252.0 L132.3,254.1 L132.8,256.3 L133.3,258.7 L133.8,261.0 L134.3,263.4 L134.8,265.6 L135.3,267.8 L135.8,269.9 L136.3,272.0 L136.8,274.0 L137.3,276.0 L137.8,277.9 L138.3,279.7 L138.8,281.4 L139.3,283.0 L139.8,284.5 L140.3,286.0 L140.8,287.5 L141.3,288.8 L141.8,290.2 L142.3,291.5 L142.8,292.8 L143.3,294.0 L143.8,295.0 L144.3,295.9 L144.8,296.8 L145.3,297.7 L145.8,298.5 L146.3,299.3 L146.8,300.0 L147.3,300.7 L147.8,301.3 L148.3,301.9 L148.8,302.4 L149.3,302.9 L149.8,303.3 L150.3,303.7 L150.8,304.1 L151.3,304.5 L151.8,304.9 L152.3,305.3 L152.8,305.6 L153.3,305.9 L153.8,306.2 L154.3,306.5 L154.8,306.7 L155.3,307.0 L155.8,307.2 L156.3,307.4 L156.8,307.5 L157.3,307.7 L157.8,307.8 L158.3,308.0 L158.8,308.1 L159.3,308.2 L159.8,308.4 L160.3,308.5 L160.8,308.6 L161.3,308.7 L161.8,308.8 L162.3,308.9 L162.8,309.0 L163.3,309.1 L163.8,309.1 L164.3,309.2 L164.8,309.2 L165.3,309.3 L165.8,309.3 L166.3,309.4 L166.8,309.4 L167.3,309.4 L167.8,309.5 L168.3,309.5 L168.8,309.5 L169.3,309.6 L169.8,309.6 L170.3,309.6 L170.8,309.7 L171.3,309.7 L171.8,309.7 L172.3,309.7 L172.8,309.7 L173.3,309.8 L173.8,309.8 L174.3,309.8 L174.8,309.8 L175.3,309.8 L175.8,309.8 L176.3,309.8 L176.8,309.8 L177.3,309.8 L177.8,309.9 L178.3,309.9 L178.8,309.9 L179.3,309.9 L179.8,309.9 L180.3,309.9 L180.8,309.9 L181.3,309.9 L181.8,309.9 L182.3,309.9 L182.8,309.9 L183.3,309.9 L183.8,309.9 L184.3,309.9 L184.8,310.0 L185.3,310.0 L185.8,310.0 L186.3,310.0 L186.8,310.0 L187.3,310.0 L187.8,310.0 L188.3,310.0 L188.8,310.0 L189.3,310.0 L189.8,310.0 L190.3,310.0 L190.8,310.0 L191.3,310.0 L191.8,310.0 L192.3,310.0 L192.8,310.0 L193.3,310.0" fill="none" stroke="#0a0a0a" stroke-width="1.5" stroke-linejoin="round" transform="translate(0,0.5)"/>
<path d="M67.3,274.6 L67.8,274.8 L68.3,274.9 L68.8,275.1 L69.3,275.3 L69.8,275.4 L70.3,275.6 L70.8,275.8 L71.3,275.9 L71.8,276.1 L72.3,276.2 L72.8,276.4 L73.3,276.5 L73.8,276.7 L74.3,276.8 L74.8,277.0 L75.3,277.1 L75.8,277.3 L76.3,277.4 L76.8,277.6 L77.3,277.7 L77.8,277.9 L78.3,278.0 L78.8,278.1 L79.3,278.3 L79.8,278.4 L80.3,278.5 L80.8,278.7 L81.3,278.8 L81.8,278.9 L82.3,279.1 L82.8,279.2 L83.3,279.3 L83.8,279.4 L84.3,279.6 L84.8,279.7 L85.3,279.8 L85.8,279.9 L86.3,280.0 L86.8,280.2 L87.3,280.3 L87.8,280.4 L88.3,280.5 L88.8,280.6 L89.3,280.7 L89.8,280.8 L90.3,280.9 L90.8,281.0 L91.3,281.1 L91.8,281.2 L92.3,281.3 L92.8,281.4 L93.3,281.5 L93.8,281.6 L94.3,281.7 L94.8,281.8 L95.3,281.9 L95.8,282.1 L96.3,282.2 L96.8,282.3 L97.3,282.4 L97.8,282.5 L98.3,282.6 L98.8,282.7 L99.3,282.8 L99.8,282.9 L100.3,282.9 L100.8,283.0 L101.3,283.1 L101.8,283.1 L102.3,283.2 L102.8,283.2 L103.3,283.3 L103.8,283.3 L104.3,283.3 L104.8,283.3 L105.3,283.3 L105.8,283.3 L106.3,283.3 L106.8,283.3 L107.3,283.3 L107.8,283.2 L108.3,283.2 L108.8,283.2 L109.3,283.2 L109.8,283.0 L110.3,282.8 L110.8,282.5 L111.3,282.2 L111.8,281.9 L112.3,281.6 L112.8,281.3 L113.3,281.0 L113.8,280.6 L114.3,280.2 L114.8,279.7 L115.3,279.2 L115.8,278.6 L116.3,277.9 L116.8,277.2 L117.3,276.3 L117.8,275.5 L118.3,274.5 L118.8,273.4 L119.3,272.2 L119.8,271.0 L120.3,269.7 L120.8,268.3 L121.3,266.8 L121.8,265.1 L122.3,263.4 L122.8,261.7 L123.3,260.0 L123.8,258.4 L124.3,256.9 L124.8,255.5 L125.3,254.0 L125.8,252.5 L126.3,251.1 L126.8,250.0 L127.3,249.4 L127.8,249.4 L128.3,249.7 L128.8,250.4 L129.3,251.2 L129.8,252.2 L130.3,253.4 L130.8,254.6 L131.3,256.3 L131.8,258.5 L132.3,261.1 L132.8,263.9 L133.3,266.5 L133.8,269.1 L134.3,271.7 L134.8,274.4 L135.3,277.2 L135.8,279.9 L136.3,282.4 L136.8,284.8 L137.3,287.2 L137.8,289.8 L138.3,292.9 L138.8,296.9 L139.3,302.4 L139.8,308.0 L140.3,312.7 L140.8,316.9 L141.3,320.5 L141.8,323.8 L142.3,326.8 L142.8,328.8 L143.3,330.1 L143.8,331.2 L144.3,332.2 L144.8,333.0 L145.3,333.7 L145.8,334.4 L146.3,335.0 L146.8,335.6 L147.3,336.2 L147.8,336.8 L148.3,337.4 L148.8,338.0 L149.3,338.5 L149.8,339.0 L150.3,339.5 L150.8,340.0 L151.3,340.5 L151.8,340.9 L152.3,341.3 L152.8,341.7 L153.3,342.0 L153.8,342.3 L154.3,342.7 L154.8,343.0 L155.3,343.3 L155.8,343.7 L156.3,344.0 L156.8,344.3 L157.3,344.5 L157.8,344.8 L158.3,345.0 L158.8,345.2 L159.3,345.3 L159.8,345.4 L160.3,345.5 L160.8,345.6 L161.3,345.6 L161.8,345.7 L162.3,345.7 L162.8,345.7 L163.3,345.8 L163.8,345.8 L164.3,345.9 L164.8,345.9 L165.3,345.9 L165.8,346.0 L166.3,346.0 L166.8,346.0 L167.3,346.1 L167.8,346.1 L168.3,346.1 L168.8,346.1 L169.3,346.1 L169.8,346.2 L170.3,346.2 L170.8,346.2 L171.3,346.2 L171.8,346.2 L172.3,346.2 L172.8,346.3 L173.3,346.3 L173.8,346.3 L174.3,346.3 L174.8,346.3 L175.3,346.3 L175.8,346.3 L176.3,346.3 L176.8,346.3 L177.3,346.3 L177.8,346.3 L178.3,346.4 L178.8,346.4 L179.3,346.4 L179.8,346.4 L180.3,346.4 L180.8,346.4 L181.3,346.4 L181.8,346.4 L182.3,346.4 L182.8,346.4 L183.3,346.4 L183.8,346.4 L184.3,346.4 L184.8,346.4 L185.3,346.5 L185.8,346.5 L186.3,346.5 L186.8,346.5 L187.3,346.5 L187.8,346.5 L188.3,346.5 L188.8,346.5 L189.3,346.5 L189.8,346.5 L190.3,346.5 L190.8,346.5 L191.3,346.5 L191.8,346.5 L192.3,346.5 L192.8,346.5 L193.3,346.5" fill="none" stroke="#0a0a0a" stroke-width="1.5" stroke-linejoin="round" transform="translate(0,0.5)"/>
<path d="M67.3,308.9 L67.8,309.1 L68.3,309.2 L68.8,309.4 L69.3,309.6 L69.8,309.7 L70.3,309.9 L70.8,310.1 L71.3,310.3 L71.8,310.4 L72.3,310.6 L72.8,310.8 L73.3,310.9 L73.8,311.1 L74.3,311.3 L74.8,311.5 L75.3,311.6 L75.8,311.8 L76.3,312.0 L76.8,312.2 L77.3,312.3 L77.8,312.5 L78.3,312.7 L78.8,312.9 L79.3,313.1 L79.8,313.2 L80.3,313.4 L80.8,313.6 L81.3,313.8 L81.8,314.0 L82.3,314.2 L82.8,314.4 L83.3,314.5 L83.8,314.7 L84.3,314.9 L84.8,315.1 L85.3,315.3 L85.8,315.5 L86.3,315.6 L86.8,315.8 L87.3,316.0 L87.8,316.1 L88.3,316.3 L88.8,316.5 L89.3,316.6 L89.8,316.8 L90.3,316.9 L90.8,317.0 L91.3,317.2 L91.8,317.3 L92.3,317.4 L92.8,317.6 L93.3,317.7 L93.8,317.8 L94.3,318.0 L94.8,318.1 L95.3,318.2 L95.8,318.3 L96.3,318.4 L96.8,318.6 L97.3,318.7 L97.8,318.8 L98.3,318.9 L98.8,319.0 L99.3,319.2 L99.8,319.3 L100.3,319.4 L100.8,319.5 L101.3,319.6 L101.8,319.8 L102.3,319.9 L102.8,320.0 L103.3,320.2 L103.8,320.3 L104.3,320.5 L104.8,320.6 L105.3,320.8 L105.8,320.9 L106.3,321.1 L106.8,321.2 L107.3,321.3 L107.8,321.4 L108.3,321.5 L108.8,321.6 L109.3,321.6 L109.8,321.6 L110.3,321.6 L110.8,321.6 L111.3,321.6 L111.8,321.6 L112.3,321.6 L112.8,321.6 L113.3,321.6 L113.8,321.5 L114.3,321.4 L114.8,321.2 L115.3,321.0 L115.8,320.7 L116.3,320.4 L116.8,319.9 L117.3,319.3 L117.8,318.7 L118.3,318.2 L118.8,317.7 L119.3,317.2 L119.8,316.7 L120.3,315.9 L120.8,315.0 L121.3,313.8 L121.8,312.4 L122.3,310.9 L122.8,309.2 L123.3,307.3 L123.8,305.3 L124.3,302.8 L124.8,299.9 L125.3,296.7 L125.8,293.3 L126.3,290.0 L126.8,286.2 L127.3,282.6 L127.8,280.6 L128.3,279.3 L128.8,278.2 L129.3,277.5 L129.8,277.2 L130.3,277.5 L130.8,278.1 L131.3,279.0 L131.8,280.2 L132.3,281.8 L132.8,284.0 L133.3,286.9 L133.8,290.4 L134.3,294.7 L134.8,300.4 L135.3,307.1 L135.8,315.4 L136.3,325.6 L136.8,331.9 L137.3,335.8 L137.8,338.8 L138.3,341.7 L138.8,344.9 L139.3,348.9 L139.8,353.2 L140.3,357.5 L140.8,361.4 L141.3,364.6 L141.8,367.7 L142.3,370.5 L142.8,372.9 L143.3,374.6 L143.8,375.9 L144.3,377.0 L144.8,378.0 L145.3,378.8 L145.8,379.4 L146.3,379.9 L146.8,380.2 L147.3,380.6 L147.8,380.8 L148.3,381.1 L148.8,381.3 L149.3,381.6 L149.8,381.7 L150.3,381.9 L150.8,382.0 L151.3,382.2 L151.8,382.2 L152.3,382.3 L152.8,382.4 L153.3,382.4 L153.8,382.5 L154.3,382.5 L154.8,382.6 L155.3,382.6 L155.8,382.7 L156.3,382.7 L156.8,382.8 L157.3,382.8 L157.8,382.8 L158.3,382.9 L158.8,382.9 L159.3,382.9 L159.8,382.9 L160.3,383.0 L160.8,383.0 L161.3,383.0 L161.8,383.0 L162.3,383.0 L162.8,383.0 L163.3,383.0 L163.8,383.0 L164.3,383.0 L164.8,383.0 L165.3,383.0 L165.8,383.0 L166.3,383.0 L166.8,383.0 L167.3,383.0 L167.8,383.0 L168.3,383.0 L168.8,383.0 L169.3,383.0 L169.8,383.0 L170.3,383.0 L170.8,383.0 L171.3,383.1 L171.8,383.1 L172.3,383.1 L172.8,383.1 L173.3,383.1 L173.8,383.1 L174.3,383.1 L174.8,383.1 L175.3,383.1 L175.8,383.1 L176.3,383.1 L176.8,383.1 L177.3,383.1 L177.8,383.1 L178.3,383.1 L178.8,383.1 L179.3,383.1 L179.8,383.1 L180.3,383.1 L180.8,383.1 L181.3,383.1 L181.8,383.1 L182.3,383.1 L182.8,383.1 L183.3,383.1 L183.8,383.1 L184.3,383.1 L184.8,383.1 L185.3,383.1 L185.8,383.1 L186.3,383.1 L186.8,383.1 L187.3,383.1 L187.8,383.1 L188.3,383.1 L188.8,383.1 L189.3,383.1 L189.8,383.1 L190.3,383.1 L190.8,383.1 L191.3,383.1 L191.8,383.1 L192.3,383.1 L192.8,383.1 L193.3,383.1" fill="none" stroke="#0a0a0a" stroke-width="1.5" stroke-linejoin="round" transform="translate(0,0.5)"/>
<g fill="none" stroke="#ea1a1e" stroke-width="1.0"><circle cx="217.1" cy="37.5" r="1.3"/><circle cx="217.4" cy="40.8" r="1.3"/><circle cx="218.1" cy="41.2" r="1.3"/><circle cx="219.3" cy="41.3" r="1.3"/><circle cx="220.2" cy="43.7" r="1.3"/><circle cx="221.1" cy="42.2" r="1.3"/><circle cx="222.4" cy="42.5" r="1.3"/><circle cx="223.3" cy="42.5" r="1.3"/><circle cx="224.5" cy="40.3" r="1.3"/><circle cx="225.5" cy="39.3" r="1.3"/><circle cx="226.7" cy="39.9" r="1.3"/><circle cx="227.3" cy="37.5" r="1.3"/><circle cx="227.9" cy="38.0" r="1.3"/><circle cx="228.7" cy="38.3" r="1.3"/><circle cx="229.8" cy="36.8" r="1.3"/><circle cx="231.3" cy="33.3" r="1.3"/><circle cx="232.2" cy="31.0" r="1.3"/><circle cx="232.9" cy="34.7" r="1.3"/><circle cx="234.3" cy="35.5" r="1.3"/><circle cx="234.8" cy="39.2" r="1.3"/><circle cx="236.3" cy="36.9" r="1.3"/><circle cx="236.9" cy="38.1" r="1.3"/><circle cx="238.1" cy="40.7" r="1.3"/><circle cx="238.9" cy="38.9" r="1.3"/><circle cx="239.5" cy="40.2" r="1.3"/><circle cx="240.3" cy="44.2" r="1.3"/><circle cx="240.6" cy="44.8" r="1.3"/><circle cx="241.5" cy="44.3" r="1.3"/><circle cx="242.7" cy="44.5" r="1.3"/><circle cx="244.5" cy="41.9" r="1.3"/><circle cx="244.6" cy="44.5" r="1.3"/><circle cx="245.3" cy="42.9" r="1.3"/><circle cx="245.9" cy="42.5" r="1.3"/><circle cx="247.4" cy="40.4" r="1.3"/><circle cx="247.8" cy="42.0" r="1.3"/><circle cx="248.9" cy="42.8" r="1.3"/><circle cx="249.9" cy="44.8" r="1.3"/><circle cx="250.2" cy="47.5" r="1.3"/><circle cx="251.5" cy="46.4" r="1.3"/><circle cx="252.1" cy="44.0" r="1.3"/><circle cx="252.3" cy="46.1" r="1.3"/><circle cx="253.0" cy="46.1" r="1.3"/><circle cx="253.6" cy="48.3" r="1.3"/><circle cx="254.5" cy="51.4" r="1.3"/><circle cx="255.9" cy="51.8" r="1.3"/><circle cx="256.8" cy="50.7" r="1.3"/><circle cx="257.7" cy="53.2" r="1.3"/><circle cx="258.6" cy="52.6" r="1.3"/><circle cx="259.3" cy="52.8" r="1.3"/><circle cx="260.5" cy="53.9" r="1.3"/><circle cx="260.9" cy="55.6" r="1.3"/><circle cx="262.1" cy="59.7" r="1.3"/><circle cx="263.2" cy="55.9" r="1.3"/><circle cx="264.0" cy="60.4" r="1.3"/><circle cx="264.3" cy="61.4" r="1.3"/><circle cx="265.1" cy="60.5" r="1.3"/><circle cx="266.3" cy="62.0" r="1.3"/><circle cx="267.1" cy="62.5" r="1.3"/><circle cx="267.1" cy="64.2" r="1.3"/><circle cx="268.1" cy="66.0" r="1.3"/><circle cx="269.0" cy="65.8" r="1.3"/><circle cx="270.1" cy="67.9" r="1.3"/><circle cx="270.4" cy="68.9" r="1.3"/><circle cx="271.8" cy="68.2" r="1.3"/><circle cx="272.6" cy="68.6" r="1.3"/><circle cx="274.3" cy="68.6" r="1.3"/><circle cx="274.9" cy="69.8" r="1.3"/><circle cx="275.8" cy="68.3" r="1.3"/><circle cx="276.7" cy="71.4" r="1.3"/><circle cx="277.8" cy="72.2" r="1.3"/><circle cx="278.4" cy="72.1" r="1.3"/><circle cx="278.6" cy="76.6" r="1.3"/><circle cx="279.6" cy="74.0" r="1.3"/><circle cx="279.9" cy="74.8" r="1.3"/><circle cx="280.7" cy="76.6" r="1.3"/><circle cx="281.3" cy="74.8" r="1.3"/><circle cx="282.1" cy="77.0" r="1.3"/><circle cx="282.9" cy="77.5" r="1.3"/><circle cx="283.6" cy="79.3" r="1.3"/><circle cx="284.8" cy="81.3" r="1.3"/><circle cx="285.8" cy="82.5" r="1.3"/><circle cx="286.6" cy="83.7" r="1.3"/><circle cx="287.4" cy="83.6" r="1.3"/><circle cx="289.0" cy="84.6" r="1.3"/><circle cx="289.4" cy="84.4" r="1.3"/><circle cx="290.4" cy="83.8" r="1.3"/><circle cx="292.2" cy="86.4" r="1.3"/><circle cx="293.2" cy="85.1" r="1.3"/><circle cx="294.3" cy="85.2" r="1.3"/><circle cx="295.1" cy="87.7" r="1.3"/><circle cx="296.0" cy="86.1" r="1.3"/><circle cx="297.2" cy="84.7" r="1.3"/><circle cx="298.6" cy="84.9" r="1.3"/><circle cx="299.3" cy="84.9" r="1.3"/><circle cx="300.4" cy="82.1" r="1.3"/><circle cx="301.3" cy="84.2" r="1.3"/><circle cx="302.4" cy="83.6" r="1.3"/><circle cx="303.9" cy="85.9" r="1.3"/><circle cx="304.8" cy="85.8" r="1.3"/><circle cx="305.4" cy="88.7" r="1.3"/><circle cx="306.4" cy="88.3" r="1.3"/><circle cx="307.5" cy="87.6" r="1.3"/><circle cx="308.7" cy="89.2" r="1.3"/><circle cx="309.2" cy="88.9" r="1.3"/><circle cx="310.5" cy="91.1" r="1.3"/><circle cx="311.0" cy="92.2" r="1.3"/><circle cx="312.3" cy="92.1" r="1.3"/><circle cx="313.8" cy="89.1" r="1.3"/><circle cx="314.8" cy="89.6" r="1.3"/><circle cx="315.2" cy="89.3" r="1.3"/><circle cx="316.3" cy="88.2" r="1.3"/><circle cx="317.8" cy="89.1" r="1.3"/><circle cx="318.3" cy="87.8" r="1.3"/><circle cx="319.0" cy="90.7" r="1.3"/><circle cx="319.9" cy="91.0" r="1.3"/><circle cx="320.4" cy="92.9" r="1.3"/><circle cx="321.2" cy="94.1" r="1.3"/><circle cx="321.9" cy="95.3" r="1.3"/><circle cx="322.3" cy="95.2" r="1.3"/><circle cx="323.2" cy="96.9" r="1.3"/><circle cx="324.0" cy="97.0" r="1.3"/><circle cx="324.5" cy="98.0" r="1.3"/><circle cx="325.3" cy="100.5" r="1.3"/><circle cx="326.4" cy="101.1" r="1.3"/><circle cx="326.5" cy="101.1" r="1.3"/><circle cx="327.8" cy="102.5" r="1.3"/><circle cx="328.3" cy="103.9" r="1.3"/><circle cx="329.0" cy="105.7" r="1.3"/><circle cx="330.0" cy="106.1" r="1.3"/><circle cx="331.0" cy="106.6" r="1.3"/><circle cx="332.2" cy="105.4" r="1.3"/><circle cx="332.8" cy="106.9" r="1.3"/><circle cx="333.9" cy="107.8" r="1.3"/><circle cx="334.9" cy="108.3" r="1.3"/><circle cx="336.4" cy="109.1" r="1.3"/><circle cx="337.0" cy="109.7" r="1.3"/><circle cx="337.4" cy="111.8" r="1.3"/><circle cx="338.4" cy="112.6" r="1.3"/><circle cx="339.1" cy="112.7" r="1.3"/><circle cx="340.1" cy="113.2" r="1.3"/><circle cx="341.1" cy="115.4" r="1.3"/><circle cx="342.5" cy="115.0" r="1.3"/><circle cx="342.4" cy="116.5" r="1.3"/><circle cx="344.1" cy="117.5" r="1.3"/><circle cx="345.0" cy="116.9" r="1.3"/><circle cx="345.7" cy="118.0" r="1.3"/><circle cx="346.8" cy="118.3" r="1.3"/><circle cx="347.8" cy="119.2" r="1.3"/><circle cx="348.9" cy="119.5" r="1.3"/><circle cx="350.2" cy="120.6" r="1.3"/><circle cx="350.6" cy="120.4" r="1.3"/><circle cx="352.4" cy="120.5" r="1.3"/><circle cx="353.1" cy="121.3" r="1.3"/><circle cx="354.6" cy="121.1" r="1.3"/><circle cx="355.4" cy="121.4" r="1.3"/><circle cx="356.7" cy="122.7" r="1.3"/><circle cx="357.6" cy="121.8" r="1.3"/><circle cx="358.8" cy="122.1" r="1.3"/><circle cx="359.6" cy="122.5" r="1.3"/><circle cx="360.5" cy="122.3" r="1.3"/><circle cx="362.0" cy="122.1" r="1.3"/><circle cx="363.1" cy="123.4" r="1.3"/><circle cx="364.5" cy="122.9" r="1.3"/><circle cx="364.6" cy="123.2" r="1.3"/><circle cx="366.1" cy="123.4" r="1.3"/><circle cx="367.5" cy="123.3" r="1.3"/></g>
<g fill="none" stroke="#f08220" stroke-width="1.0"><circle cx="216.9" cy="80.8" r="1.3"/><circle cx="216.9" cy="81.1" r="1.3"/><circle cx="218.3" cy="83.6" r="1.3"/><circle cx="218.3" cy="81.6" r="1.3"/><circle cx="218.7" cy="77.0" r="1.3"/><circle cx="219.7" cy="80.2" r="1.3"/><circle cx="220.5" cy="78.8" r="1.3"/><circle cx="221.7" cy="77.2" r="1.3"/><circle cx="222.4" cy="75.7" r="1.3"/><circle cx="223.8" cy="75.5" r="1.3"/><circle cx="224.5" cy="73.5" r="1.3"/><circle cx="226.4" cy="75.1" r="1.3"/><circle cx="227.0" cy="78.7" r="1.3"/><circle cx="228.4" cy="77.9" r="1.3"/><circle cx="228.7" cy="82.0" r="1.3"/><circle cx="230.2" cy="77.0" r="1.3"/><circle cx="230.9" cy="72.2" r="1.3"/><circle cx="232.4" cy="77.2" r="1.3"/><circle cx="233.5" cy="79.0" r="1.3"/><circle cx="234.0" cy="79.7" r="1.3"/><circle cx="235.3" cy="79.3" r="1.3"/><circle cx="236.3" cy="77.5" r="1.3"/><circle cx="237.3" cy="82.9" r="1.3"/><circle cx="238.6" cy="78.4" r="1.3"/><circle cx="239.5" cy="81.7" r="1.3"/><circle cx="240.4" cy="80.0" r="1.3"/><circle cx="241.8" cy="78.6" r="1.3"/><circle cx="242.9" cy="84.3" r="1.3"/><circle cx="243.4" cy="76.9" r="1.3"/><circle cx="244.5" cy="80.8" r="1.3"/><circle cx="245.6" cy="83.9" r="1.3"/><circle cx="246.4" cy="83.2" r="1.3"/><circle cx="247.2" cy="86.1" r="1.3"/><circle cx="248.3" cy="85.7" r="1.3"/><circle cx="249.1" cy="86.4" r="1.3"/><circle cx="249.6" cy="91.4" r="1.3"/><circle cx="249.8" cy="89.6" r="1.3"/><circle cx="250.7" cy="91.0" r="1.3"/><circle cx="251.1" cy="91.1" r="1.3"/><circle cx="250.9" cy="92.7" r="1.3"/><circle cx="251.5" cy="95.7" r="1.3"/><circle cx="252.4" cy="97.1" r="1.3"/><circle cx="253.0" cy="96.6" r="1.3"/><circle cx="254.3" cy="94.8" r="1.3"/><circle cx="255.1" cy="96.2" r="1.3"/><circle cx="255.8" cy="91.2" r="1.3"/><circle cx="256.8" cy="92.4" r="1.3"/><circle cx="257.5" cy="91.8" r="1.3"/><circle cx="258.8" cy="90.4" r="1.3"/><circle cx="259.5" cy="92.9" r="1.3"/><circle cx="261.5" cy="92.4" r="1.3"/><circle cx="262.1" cy="93.2" r="1.3"/><circle cx="262.8" cy="98.0" r="1.3"/><circle cx="263.3" cy="97.1" r="1.3"/><circle cx="264.2" cy="98.5" r="1.3"/><circle cx="265.1" cy="97.4" r="1.3"/><circle cx="265.9" cy="99.5" r="1.3"/><circle cx="266.7" cy="100.1" r="1.3"/><circle cx="267.1" cy="101.7" r="1.3"/><circle cx="268.3" cy="104.4" r="1.3"/><circle cx="269.0" cy="101.6" r="1.3"/><circle cx="269.7" cy="103.3" r="1.3"/><circle cx="270.5" cy="103.7" r="1.3"/><circle cx="271.8" cy="99.6" r="1.3"/><circle cx="272.8" cy="103.4" r="1.3"/><circle cx="273.1" cy="106.3" r="1.3"/><circle cx="274.7" cy="108.1" r="1.3"/><circle cx="275.5" cy="107.5" r="1.3"/><circle cx="275.9" cy="110.7" r="1.3"/><circle cx="276.7" cy="111.8" r="1.3"/><circle cx="277.7" cy="110.6" r="1.3"/><circle cx="278.8" cy="114.0" r="1.3"/><circle cx="279.2" cy="115.5" r="1.3"/><circle cx="279.9" cy="115.2" r="1.3"/><circle cx="281.0" cy="114.6" r="1.3"/><circle cx="281.3" cy="118.4" r="1.3"/><circle cx="282.6" cy="117.4" r="1.3"/><circle cx="283.8" cy="118.0" r="1.3"/><circle cx="284.5" cy="119.4" r="1.3"/><circle cx="285.5" cy="119.4" r="1.3"/><circle cx="286.3" cy="121.8" r="1.3"/><circle cx="287.4" cy="122.1" r="1.3"/><circle cx="288.2" cy="123.2" r="1.3"/><circle cx="288.9" cy="123.1" r="1.3"/><circle cx="290.1" cy="122.2" r="1.3"/><circle cx="291.2" cy="123.5" r="1.3"/><circle cx="292.6" cy="125.2" r="1.3"/><circle cx="293.7" cy="124.0" r="1.3"/><circle cx="294.5" cy="128.4" r="1.3"/><circle cx="295.3" cy="124.9" r="1.3"/><circle cx="296.4" cy="124.8" r="1.3"/><circle cx="297.6" cy="127.1" r="1.3"/><circle cx="299.1" cy="126.5" r="1.3"/><circle cx="299.9" cy="125.2" r="1.3"/><circle cx="300.9" cy="124.6" r="1.3"/><circle cx="301.8" cy="125.3" r="1.3"/><circle cx="303.3" cy="126.0" r="1.3"/><circle cx="304.2" cy="126.4" r="1.3"/><circle cx="305.2" cy="125.6" r="1.3"/><circle cx="306.3" cy="126.8" r="1.3"/><circle cx="307.8" cy="127.5" r="1.3"/><circle cx="308.3" cy="127.8" r="1.3"/><circle cx="309.8" cy="124.6" r="1.3"/><circle cx="310.6" cy="127.4" r="1.3"/><circle cx="311.2" cy="128.2" r="1.3"/><circle cx="312.4" cy="129.3" r="1.3"/><circle cx="313.1" cy="130.3" r="1.3"/><circle cx="313.9" cy="131.8" r="1.3"/><circle cx="315.0" cy="132.1" r="1.3"/><circle cx="315.9" cy="132.0" r="1.3"/><circle cx="317.2" cy="132.6" r="1.3"/><circle cx="318.0" cy="134.8" r="1.3"/><circle cx="319.2" cy="133.4" r="1.3"/><circle cx="320.2" cy="135.0" r="1.3"/><circle cx="320.2" cy="137.0" r="1.3"/><circle cx="322.0" cy="136.9" r="1.3"/><circle cx="322.4" cy="136.0" r="1.3"/><circle cx="323.6" cy="138.6" r="1.3"/><circle cx="324.1" cy="139.0" r="1.3"/><circle cx="325.1" cy="140.2" r="1.3"/><circle cx="326.1" cy="142.0" r="1.3"/><circle cx="326.2" cy="142.7" r="1.3"/><circle cx="327.5" cy="143.0" r="1.3"/><circle cx="328.4" cy="144.4" r="1.3"/><circle cx="328.9" cy="144.6" r="1.3"/><circle cx="330.5" cy="144.9" r="1.3"/><circle cx="331.2" cy="145.6" r="1.3"/><circle cx="332.0" cy="146.3" r="1.3"/><circle cx="332.8" cy="146.9" r="1.3"/><circle cx="334.6" cy="147.7" r="1.3"/><circle cx="334.6" cy="148.9" r="1.3"/><circle cx="335.1" cy="149.2" r="1.3"/><circle cx="336.3" cy="149.8" r="1.3"/><circle cx="337.3" cy="151.8" r="1.3"/><circle cx="338.2" cy="151.8" r="1.3"/><circle cx="339.2" cy="152.7" r="1.3"/><circle cx="339.9" cy="153.3" r="1.3"/><circle cx="341.3" cy="154.0" r="1.3"/><circle cx="342.0" cy="154.7" r="1.3"/><circle cx="342.8" cy="155.3" r="1.3"/><circle cx="343.9" cy="155.6" r="1.3"/><circle cx="345.1" cy="156.8" r="1.3"/><circle cx="346.4" cy="156.5" r="1.3"/><circle cx="347.4" cy="157.7" r="1.3"/><circle cx="348.2" cy="156.9" r="1.3"/><circle cx="349.4" cy="157.7" r="1.3"/><circle cx="350.5" cy="158.9" r="1.3"/><circle cx="352.0" cy="158.8" r="1.3"/><circle cx="352.4" cy="158.9" r="1.3"/><circle cx="353.8" cy="159.6" r="1.3"/><circle cx="354.9" cy="159.2" r="1.3"/><circle cx="355.6" cy="159.8" r="1.3"/><circle cx="357.0" cy="159.1" r="1.3"/><circle cx="358.1" cy="159.8" r="1.3"/><circle cx="359.0" cy="159.9" r="1.3"/><circle cx="360.4" cy="160.4" r="1.3"/><circle cx="361.6" cy="160.7" r="1.3"/><circle cx="362.7" cy="160.2" r="1.3"/><circle cx="363.5" cy="161.1" r="1.3"/><circle cx="364.7" cy="160.4" r="1.3"/><circle cx="366.3" cy="160.0" r="1.3"/><circle cx="366.5" cy="159.9" r="1.3"/><circle cx="368.0" cy="161.3" r="1.3"/></g>
<g fill="none" stroke="#a6bf26" stroke-width="1.0"><circle cx="217.0" cy="111.7" r="1.3"/><circle cx="217.7" cy="110.4" r="1.3"/><circle cx="219.0" cy="111.8" r="1.3"/><circle cx="219.9" cy="110.9" r="1.3"/><circle cx="221.2" cy="112.7" r="1.3"/><circle cx="222.1" cy="114.3" r="1.3"/><circle cx="222.9" cy="110.8" r="1.3"/><circle cx="224.4" cy="112.0" r="1.3"/><circle cx="225.3" cy="110.9" r="1.3"/><circle cx="226.4" cy="109.3" r="1.3"/><circle cx="226.9" cy="109.0" r="1.3"/><circle cx="227.6" cy="105.9" r="1.3"/><circle cx="228.7" cy="108.7" r="1.3"/><circle cx="229.5" cy="109.9" r="1.3"/><circle cx="230.3" cy="109.5" r="1.3"/><circle cx="231.3" cy="108.4" r="1.3"/><circle cx="232.3" cy="102.4" r="1.3"/><circle cx="233.5" cy="108.6" r="1.3"/><circle cx="234.6" cy="102.6" r="1.3"/><circle cx="235.6" cy="104.3" r="1.3"/><circle cx="236.6" cy="109.3" r="1.3"/><circle cx="237.7" cy="102.7" r="1.3"/><circle cx="239.1" cy="107.8" r="1.3"/><circle cx="239.1" cy="107.9" r="1.3"/><circle cx="239.5" cy="108.5" r="1.3"/><circle cx="239.9" cy="108.7" r="1.3"/><circle cx="240.5" cy="112.0" r="1.3"/><circle cx="241.0" cy="112.1" r="1.3"/><circle cx="241.2" cy="115.9" r="1.3"/><circle cx="241.6" cy="117.8" r="1.3"/><circle cx="243.0" cy="114.1" r="1.3"/><circle cx="243.4" cy="116.6" r="1.3"/><circle cx="244.9" cy="117.7" r="1.3"/><circle cx="245.9" cy="116.6" r="1.3"/><circle cx="247.2" cy="117.5" r="1.3"/><circle cx="248.3" cy="120.6" r="1.3"/><circle cx="249.0" cy="120.5" r="1.3"/><circle cx="249.8" cy="117.9" r="1.3"/><circle cx="250.7" cy="120.4" r="1.3"/><circle cx="251.8" cy="122.7" r="1.3"/><circle cx="253.0" cy="119.1" r="1.3"/><circle cx="253.5" cy="119.8" r="1.3"/><circle cx="255.0" cy="124.9" r="1.3"/><circle cx="256.0" cy="125.0" r="1.3"/><circle cx="257.0" cy="120.8" r="1.3"/><circle cx="257.5" cy="122.7" r="1.3"/><circle cx="258.3" cy="126.7" r="1.3"/><circle cx="258.7" cy="125.7" r="1.3"/><circle cx="259.4" cy="128.3" r="1.3"/><circle cx="259.8" cy="129.1" r="1.3"/><circle cx="261.0" cy="131.6" r="1.3"/><circle cx="262.1" cy="127.6" r="1.3"/><circle cx="262.6" cy="129.1" r="1.3"/><circle cx="263.5" cy="131.7" r="1.3"/><circle cx="264.0" cy="136.3" r="1.3"/><circle cx="265.5" cy="135.5" r="1.3"/><circle cx="265.9" cy="133.7" r="1.3"/><circle cx="267.1" cy="137.6" r="1.3"/><circle cx="267.8" cy="138.4" r="1.3"/><circle cx="268.4" cy="137.8" r="1.3"/><circle cx="269.7" cy="138.8" r="1.3"/><circle cx="270.3" cy="141.2" r="1.3"/><circle cx="271.1" cy="143.5" r="1.3"/><circle cx="271.9" cy="143.1" r="1.3"/><circle cx="272.6" cy="144.4" r="1.3"/><circle cx="273.3" cy="144.3" r="1.3"/><circle cx="274.3" cy="144.6" r="1.3"/><circle cx="274.9" cy="144.7" r="1.3"/><circle cx="275.9" cy="147.2" r="1.3"/><circle cx="276.5" cy="147.4" r="1.3"/><circle cx="277.2" cy="148.3" r="1.3"/><circle cx="278.2" cy="150.6" r="1.3"/><circle cx="279.1" cy="150.9" r="1.3"/><circle cx="280.2" cy="152.2" r="1.3"/><circle cx="281.4" cy="150.1" r="1.3"/><circle cx="281.6" cy="153.7" r="1.3"/><circle cx="283.0" cy="153.0" r="1.3"/><circle cx="283.5" cy="153.2" r="1.3"/><circle cx="284.9" cy="153.6" r="1.3"/><circle cx="286.1" cy="157.0" r="1.3"/><circle cx="286.7" cy="156.8" r="1.3"/><circle cx="287.8" cy="155.3" r="1.3"/><circle cx="289.2" cy="155.3" r="1.3"/><circle cx="290.1" cy="157.0" r="1.3"/><circle cx="291.1" cy="156.5" r="1.3"/><circle cx="292.0" cy="159.2" r="1.3"/><circle cx="293.8" cy="155.2" r="1.3"/><circle cx="294.4" cy="155.0" r="1.3"/><circle cx="295.3" cy="157.3" r="1.3"/><circle cx="297.0" cy="157.7" r="1.3"/><circle cx="297.8" cy="157.7" r="1.3"/><circle cx="298.7" cy="158.4" r="1.3"/><circle cx="300.2" cy="160.0" r="1.3"/><circle cx="301.0" cy="156.6" r="1.3"/><circle cx="302.2" cy="156.1" r="1.3"/><circle cx="303.2" cy="154.2" r="1.3"/><circle cx="304.0" cy="157.0" r="1.3"/><circle cx="305.6" cy="158.1" r="1.3"/><circle cx="306.5" cy="156.9" r="1.3"/><circle cx="307.3" cy="159.1" r="1.3"/><circle cx="308.5" cy="157.4" r="1.3"/><circle cx="309.7" cy="159.4" r="1.3"/><circle cx="310.0" cy="159.1" r="1.3"/><circle cx="310.7" cy="158.9" r="1.3"/><circle cx="311.7" cy="160.2" r="1.3"/><circle cx="312.4" cy="160.2" r="1.3"/><circle cx="312.9" cy="160.9" r="1.3"/><circle cx="314.3" cy="163.7" r="1.3"/><circle cx="315.3" cy="165.0" r="1.3"/><circle cx="316.2" cy="166.7" r="1.3"/><circle cx="317.3" cy="165.6" r="1.3"/><circle cx="317.8" cy="166.3" r="1.3"/><circle cx="318.8" cy="166.6" r="1.3"/><circle cx="319.8" cy="169.4" r="1.3"/><circle cx="320.2" cy="169.9" r="1.3"/><circle cx="321.5" cy="170.2" r="1.3"/><circle cx="322.3" cy="172.2" r="1.3"/><circle cx="322.7" cy="173.1" r="1.3"/><circle cx="323.7" cy="172.4" r="1.3"/><circle cx="324.2" cy="175.1" r="1.3"/><circle cx="324.4" cy="175.7" r="1.3"/><circle cx="325.6" cy="176.3" r="1.3"/><circle cx="326.1" cy="177.2" r="1.3"/><circle cx="326.8" cy="179.6" r="1.3"/><circle cx="327.5" cy="180.5" r="1.3"/><circle cx="328.5" cy="181.6" r="1.3"/><circle cx="329.0" cy="180.9" r="1.3"/><circle cx="329.4" cy="182.1" r="1.3"/><circle cx="330.5" cy="183.9" r="1.3"/><circle cx="331.4" cy="183.7" r="1.3"/><circle cx="331.9" cy="184.9" r="1.3"/><circle cx="332.8" cy="185.3" r="1.3"/><circle cx="333.7" cy="188.0" r="1.3"/><circle cx="334.5" cy="188.5" r="1.3"/><circle cx="335.6" cy="189.0" r="1.3"/><circle cx="336.7" cy="189.8" r="1.3"/><circle cx="337.8" cy="190.3" r="1.3"/><circle cx="338.5" cy="191.2" r="1.3"/><circle cx="339.4" cy="192.3" r="1.3"/><circle cx="340.5" cy="192.3" r="1.3"/><circle cx="341.5" cy="193.7" r="1.3"/><circle cx="342.1" cy="193.4" r="1.3"/><circle cx="343.5" cy="193.6" r="1.3"/><circle cx="344.4" cy="194.9" r="1.3"/><circle cx="345.4" cy="194.6" r="1.3"/><circle cx="346.4" cy="195.3" r="1.3"/><circle cx="347.4" cy="195.3" r="1.3"/><circle cx="348.5" cy="194.9" r="1.3"/><circle cx="349.4" cy="196.3" r="1.3"/><circle cx="350.9" cy="195.7" r="1.3"/><circle cx="351.8" cy="196.8" r="1.3"/><circle cx="353.0" cy="196.0" r="1.3"/><circle cx="354.1" cy="196.0" r="1.3"/><circle cx="355.3" cy="197.0" r="1.3"/><circle cx="356.0" cy="197.2" r="1.3"/><circle cx="357.3" cy="197.3" r="1.3"/><circle cx="358.0" cy="197.0" r="1.3"/><circle cx="358.9" cy="197.9" r="1.3"/><circle cx="360.1" cy="197.2" r="1.3"/><circle cx="362.0" cy="197.6" r="1.3"/><circle cx="362.3" cy="197.5" r="1.3"/><circle cx="364.0" cy="197.7" r="1.3"/><circle cx="365.3" cy="198.2" r="1.3"/><circle cx="365.9" cy="197.8" r="1.3"/><circle cx="367.6" cy="198.3" r="1.3"/></g>
<g fill="none" stroke="#1f9a28" stroke-width="1.0"><circle cx="216.6" cy="152.0" r="1.3"/><circle cx="217.7" cy="150.1" r="1.3"/><circle cx="218.8" cy="153.7" r="1.3"/><circle cx="220.2" cy="149.5" r="1.3"/><circle cx="221.3" cy="146.1" r="1.3"/><circle cx="222.6" cy="149.2" r="1.3"/><circle cx="223.5" cy="146.5" r="1.3"/><circle cx="224.6" cy="144.2" r="1.3"/><circle cx="225.6" cy="143.5" r="1.3"/><circle cx="226.2" cy="149.3" r="1.3"/><circle cx="227.0" cy="142.8" r="1.3"/><circle cx="227.9" cy="142.8" r="1.3"/><circle cx="228.5" cy="140.7" r="1.3"/><circle cx="228.9" cy="141.5" r="1.3"/><circle cx="229.4" cy="139.9" r="1.3"/><circle cx="230.5" cy="138.8" r="1.3"/><circle cx="231.9" cy="136.6" r="1.3"/><circle cx="232.3" cy="136.9" r="1.3"/><circle cx="233.8" cy="139.4" r="1.3"/><circle cx="235.0" cy="142.7" r="1.3"/><circle cx="235.8" cy="147.8" r="1.3"/><circle cx="236.8" cy="145.0" r="1.3"/><circle cx="238.6" cy="146.2" r="1.3"/><circle cx="239.6" cy="142.0" r="1.3"/><circle cx="240.2" cy="140.1" r="1.3"/><circle cx="241.7" cy="136.9" r="1.3"/><circle cx="242.8" cy="140.6" r="1.3"/><circle cx="243.3" cy="135.4" r="1.3"/><circle cx="245.3" cy="140.9" r="1.3"/><circle cx="245.2" cy="145.8" r="1.3"/><circle cx="246.0" cy="144.3" r="1.3"/><circle cx="246.3" cy="146.7" r="1.3"/><circle cx="247.2" cy="145.2" r="1.3"/><circle cx="247.4" cy="144.6" r="1.3"/><circle cx="248.3" cy="147.1" r="1.3"/><circle cx="249.3" cy="148.2" r="1.3"/><circle cx="249.8" cy="152.0" r="1.3"/><circle cx="250.3" cy="154.5" r="1.3"/><circle cx="251.5" cy="150.9" r="1.3"/><circle cx="251.6" cy="152.9" r="1.3"/><circle cx="252.8" cy="154.6" r="1.3"/><circle cx="253.2" cy="155.6" r="1.3"/><circle cx="254.1" cy="155.2" r="1.3"/><circle cx="254.8" cy="158.5" r="1.3"/><circle cx="255.6" cy="159.9" r="1.3"/><circle cx="256.4" cy="160.7" r="1.3"/><circle cx="257.1" cy="158.7" r="1.3"/><circle cx="258.0" cy="161.4" r="1.3"/><circle cx="259.1" cy="159.4" r="1.3"/><circle cx="259.8" cy="164.9" r="1.3"/><circle cx="260.4" cy="162.6" r="1.3"/><circle cx="261.3" cy="164.7" r="1.3"/><circle cx="262.1" cy="165.3" r="1.3"/><circle cx="263.1" cy="165.9" r="1.3"/><circle cx="263.9" cy="166.1" r="1.3"/><circle cx="264.7" cy="166.1" r="1.3"/><circle cx="265.3" cy="172.5" r="1.3"/><circle cx="266.3" cy="171.3" r="1.3"/><circle cx="266.7" cy="172.4" r="1.3"/><circle cx="267.1" cy="176.0" r="1.3"/><circle cx="268.6" cy="173.7" r="1.3"/><circle cx="269.0" cy="175.7" r="1.3"/><circle cx="269.9" cy="176.1" r="1.3"/><circle cx="270.6" cy="178.9" r="1.3"/><circle cx="271.8" cy="179.1" r="1.3"/><circle cx="272.1" cy="179.9" r="1.3"/><circle cx="273.2" cy="180.3" r="1.3"/><circle cx="273.7" cy="182.0" r="1.3"/><circle cx="274.2" cy="184.2" r="1.3"/><circle cx="274.8" cy="181.4" r="1.3"/><circle cx="275.9" cy="184.8" r="1.3"/><circle cx="276.6" cy="185.5" r="1.3"/><circle cx="277.3" cy="186.6" r="1.3"/><circle cx="278.2" cy="185.6" r="1.3"/><circle cx="278.5" cy="189.4" r="1.3"/><circle cx="279.1" cy="188.4" r="1.3"/><circle cx="279.7" cy="189.8" r="1.3"/><circle cx="280.5" cy="190.4" r="1.3"/><circle cx="281.1" cy="190.3" r="1.3"/><circle cx="281.6" cy="192.7" r="1.3"/><circle cx="283.1" cy="192.5" r="1.3"/><circle cx="283.0" cy="194.6" r="1.3"/><circle cx="284.5" cy="196.2" r="1.3"/><circle cx="285.4" cy="197.3" r="1.3"/><circle cx="286.4" cy="197.9" r="1.3"/><circle cx="287.2" cy="197.7" r="1.3"/><circle cx="288.4" cy="199.8" r="1.3"/><circle cx="289.3" cy="197.3" r="1.3"/><circle cx="290.0" cy="194.9" r="1.3"/><circle cx="291.1" cy="195.0" r="1.3"/><circle cx="291.9" cy="194.2" r="1.3"/><circle cx="292.7" cy="193.9" r="1.3"/><circle cx="294.0" cy="192.4" r="1.3"/><circle cx="294.6" cy="191.3" r="1.3"/><circle cx="296.1" cy="193.9" r="1.3"/><circle cx="296.8" cy="191.5" r="1.3"/><circle cx="298.2" cy="190.9" r="1.3"/><circle cx="299.1" cy="191.0" r="1.3"/><circle cx="300.3" cy="191.1" r="1.3"/><circle cx="301.1" cy="193.4" r="1.3"/><circle cx="302.2" cy="191.9" r="1.3"/><circle cx="303.3" cy="192.6" r="1.3"/><circle cx="304.6" cy="186.7" r="1.3"/><circle cx="305.8" cy="191.4" r="1.3"/><circle cx="306.9" cy="192.6" r="1.3"/><circle cx="307.5" cy="194.2" r="1.3"/><circle cx="308.6" cy="192.5" r="1.3"/><circle cx="309.1" cy="191.3" r="1.3"/><circle cx="309.8" cy="194.8" r="1.3"/><circle cx="311.0" cy="194.6" r="1.3"/><circle cx="311.8" cy="194.6" r="1.3"/><circle cx="312.4" cy="197.1" r="1.3"/><circle cx="313.0" cy="200.0" r="1.3"/><circle cx="314.3" cy="201.2" r="1.3"/><circle cx="314.6" cy="201.8" r="1.3"/><circle cx="315.1" cy="201.3" r="1.3"/><circle cx="316.7" cy="205.2" r="1.3"/><circle cx="316.8" cy="203.2" r="1.3"/><circle cx="317.3" cy="205.0" r="1.3"/><circle cx="318.2" cy="205.0" r="1.3"/><circle cx="318.5" cy="208.2" r="1.3"/><circle cx="319.7" cy="208.7" r="1.3"/><circle cx="319.5" cy="210.2" r="1.3"/><circle cx="320.2" cy="210.8" r="1.3"/><circle cx="321.1" cy="211.7" r="1.3"/><circle cx="321.5" cy="212.8" r="1.3"/><circle cx="322.7" cy="212.5" r="1.3"/><circle cx="322.6" cy="215.3" r="1.3"/><circle cx="323.4" cy="216.3" r="1.3"/><circle cx="324.3" cy="216.8" r="1.3"/><circle cx="325.1" cy="218.2" r="1.3"/><circle cx="325.8" cy="219.5" r="1.3"/><circle cx="326.3" cy="221.3" r="1.3"/><circle cx="327.5" cy="221.7" r="1.3"/><circle cx="327.5" cy="222.4" r="1.3"/><circle cx="328.4" cy="223.2" r="1.3"/><circle cx="329.3" cy="223.7" r="1.3"/><circle cx="329.8" cy="225.2" r="1.3"/><circle cx="330.6" cy="226.5" r="1.3"/><circle cx="331.4" cy="227.3" r="1.3"/><circle cx="332.2" cy="228.4" r="1.3"/><circle cx="332.9" cy="229.5" r="1.3"/><circle cx="334.0" cy="230.2" r="1.3"/><circle cx="334.6" cy="230.9" r="1.3"/><circle cx="336.1" cy="231.7" r="1.3"/><circle cx="336.6" cy="232.1" r="1.3"/><circle cx="338.5" cy="232.5" r="1.3"/><circle cx="339.4" cy="233.2" r="1.3"/><circle cx="340.2" cy="232.9" r="1.3"/><circle cx="340.9" cy="234.4" r="1.3"/><circle cx="341.9" cy="233.9" r="1.3"/><circle cx="343.5" cy="234.9" r="1.3"/><circle cx="344.3" cy="234.8" r="1.3"/><circle cx="345.5" cy="235.3" r="1.3"/><circle cx="346.3" cy="235.0" r="1.3"/><circle cx="347.8" cy="234.8" r="1.3"/><circle cx="348.4" cy="235.6" r="1.3"/><circle cx="349.8" cy="235.3" r="1.3"/><circle cx="350.4" cy="235.4" r="1.3"/><circle cx="351.8" cy="235.4" r="1.3"/><circle cx="353.2" cy="235.7" r="1.3"/><circle cx="354.0" cy="235.6" r="1.3"/><circle cx="355.1" cy="235.3" r="1.3"/><circle cx="356.5" cy="234.7" r="1.3"/><circle cx="357.4" cy="235.0" r="1.3"/><circle cx="358.8" cy="235.2" r="1.3"/><circle cx="359.0" cy="235.8" r="1.3"/><circle cx="360.9" cy="235.4" r="1.3"/><circle cx="362.0" cy="235.3" r="1.3"/><circle cx="362.5" cy="235.8" r="1.3"/><circle cx="363.7" cy="235.4" r="1.3"/><circle cx="365.4" cy="235.5" r="1.3"/><circle cx="366.0" cy="235.6" r="1.3"/><circle cx="367.2" cy="235.0" r="1.3"/></g>
<g fill="none" stroke="#2ab3c6" stroke-width="1.0"><circle cx="216.9" cy="183.9" r="1.3"/><circle cx="217.7" cy="181.5" r="1.3"/><circle cx="218.8" cy="183.6" r="1.3"/><circle cx="220.4" cy="180.0" r="1.3"/><circle cx="221.1" cy="182.7" r="1.3"/><circle cx="222.8" cy="184.2" r="1.3"/><circle cx="223.1" cy="181.9" r="1.3"/><circle cx="224.7" cy="175.5" r="1.3"/><circle cx="225.3" cy="181.9" r="1.3"/><circle cx="226.6" cy="180.2" r="1.3"/><circle cx="227.3" cy="177.6" r="1.3"/><circle cx="228.5" cy="182.5" r="1.3"/><circle cx="229.5" cy="174.8" r="1.3"/><circle cx="230.4" cy="183.5" r="1.3"/><circle cx="231.8" cy="176.9" r="1.3"/><circle cx="233.0" cy="182.3" r="1.3"/><circle cx="233.3" cy="179.3" r="1.3"/><circle cx="234.5" cy="177.6" r="1.3"/><circle cx="235.0" cy="181.2" r="1.3"/><circle cx="235.6" cy="182.7" r="1.3"/><circle cx="236.9" cy="184.3" r="1.3"/><circle cx="236.5" cy="186.5" r="1.3"/><circle cx="237.7" cy="183.6" r="1.3"/><circle cx="238.3" cy="187.1" r="1.3"/><circle cx="239.5" cy="188.3" r="1.3"/><circle cx="240.3" cy="187.1" r="1.3"/><circle cx="242.2" cy="186.6" r="1.3"/><circle cx="242.4" cy="187.0" r="1.3"/><circle cx="243.8" cy="191.1" r="1.3"/><circle cx="244.8" cy="190.9" r="1.3"/><circle cx="245.4" cy="186.7" r="1.3"/><circle cx="246.7" cy="184.9" r="1.3"/><circle cx="248.0" cy="190.5" r="1.3"/><circle cx="248.8" cy="184.0" r="1.3"/><circle cx="249.8" cy="188.7" r="1.3"/><circle cx="250.6" cy="188.2" r="1.3"/><circle cx="250.7" cy="187.9" r="1.3"/><circle cx="251.4" cy="191.8" r="1.3"/><circle cx="252.2" cy="192.3" r="1.3"/><circle cx="252.7" cy="195.5" r="1.3"/><circle cx="252.9" cy="197.7" r="1.3"/><circle cx="253.5" cy="195.4" r="1.3"/><circle cx="254.2" cy="198.5" r="1.3"/><circle cx="254.8" cy="200.0" r="1.3"/><circle cx="255.8" cy="198.6" r="1.3"/><circle cx="256.5" cy="198.9" r="1.3"/><circle cx="257.4" cy="203.9" r="1.3"/><circle cx="257.9" cy="201.1" r="1.3"/><circle cx="258.9" cy="202.4" r="1.3"/><circle cx="260.2" cy="202.8" r="1.3"/><circle cx="260.6" cy="204.1" r="1.3"/><circle cx="261.9" cy="204.5" r="1.3"/><circle cx="262.6" cy="207.6" r="1.3"/><circle cx="263.4" cy="209.3" r="1.3"/><circle cx="264.6" cy="207.5" r="1.3"/><circle cx="265.1" cy="206.7" r="1.3"/><circle cx="265.9" cy="209.6" r="1.3"/><circle cx="266.9" cy="207.9" r="1.3"/><circle cx="267.9" cy="210.0" r="1.3"/><circle cx="269.4" cy="213.7" r="1.3"/><circle cx="269.1" cy="216.3" r="1.3"/><circle cx="270.5" cy="214.3" r="1.3"/><circle cx="271.3" cy="213.0" r="1.3"/><circle cx="272.4" cy="216.3" r="1.3"/><circle cx="273.0" cy="212.9" r="1.3"/><circle cx="273.3" cy="216.0" r="1.3"/><circle cx="275.0" cy="219.9" r="1.3"/><circle cx="275.3" cy="219.9" r="1.3"/><circle cx="276.3" cy="218.1" r="1.3"/><circle cx="276.8" cy="218.7" r="1.3"/><circle cx="277.7" cy="222.7" r="1.3"/><circle cx="278.6" cy="222.3" r="1.3"/><circle cx="279.7" cy="222.4" r="1.3"/><circle cx="280.5" cy="224.4" r="1.3"/><circle cx="281.0" cy="224.1" r="1.3"/><circle cx="282.0" cy="223.8" r="1.3"/><circle cx="282.6" cy="228.1" r="1.3"/><circle cx="283.5" cy="227.8" r="1.3"/><circle cx="284.2" cy="228.7" r="1.3"/><circle cx="285.1" cy="229.5" r="1.3"/><circle cx="285.6" cy="232.1" r="1.3"/><circle cx="286.6" cy="231.6" r="1.3"/><circle cx="287.5" cy="233.8" r="1.3"/><circle cx="288.4" cy="233.5" r="1.3"/><circle cx="289.1" cy="235.8" r="1.3"/><circle cx="290.8" cy="234.7" r="1.3"/><circle cx="291.0" cy="233.9" r="1.3"/><circle cx="291.7" cy="231.8" r="1.3"/><circle cx="292.0" cy="231.2" r="1.3"/><circle cx="292.8" cy="231.7" r="1.3"/><circle cx="292.7" cy="233.1" r="1.3"/><circle cx="294.6" cy="227.3" r="1.3"/><circle cx="294.8" cy="226.3" r="1.3"/><circle cx="295.4" cy="226.8" r="1.3"/><circle cx="296.6" cy="225.9" r="1.3"/><circle cx="298.0" cy="223.7" r="1.3"/><circle cx="298.3" cy="223.8" r="1.3"/><circle cx="298.6" cy="221.4" r="1.3"/><circle cx="299.5" cy="222.5" r="1.3"/><circle cx="300.7" cy="223.4" r="1.3"/><circle cx="300.8" cy="223.7" r="1.3"/><circle cx="302.0" cy="220.4" r="1.3"/><circle cx="302.8" cy="219.1" r="1.3"/><circle cx="304.3" cy="219.0" r="1.3"/><circle cx="304.7" cy="219.2" r="1.3"/><circle cx="306.2" cy="217.7" r="1.3"/><circle cx="306.7" cy="216.0" r="1.3"/><circle cx="307.6" cy="218.6" r="1.3"/><circle cx="308.8" cy="220.7" r="1.3"/><circle cx="309.4" cy="220.1" r="1.3"/><circle cx="309.5" cy="220.8" r="1.3"/><circle cx="310.7" cy="224.1" r="1.3"/><circle cx="311.3" cy="224.7" r="1.3"/><circle cx="311.5" cy="226.0" r="1.3"/><circle cx="312.2" cy="225.9" r="1.3"/><circle cx="312.7" cy="226.2" r="1.3"/><circle cx="312.9" cy="227.7" r="1.3"/><circle cx="313.3" cy="228.7" r="1.3"/><circle cx="313.6" cy="230.2" r="1.3"/><circle cx="314.1" cy="232.0" r="1.3"/><circle cx="314.3" cy="233.5" r="1.3"/><circle cx="315.0" cy="235.8" r="1.3"/><circle cx="315.0" cy="235.4" r="1.3"/><circle cx="315.8" cy="237.5" r="1.3"/><circle cx="316.1" cy="238.4" r="1.3"/><circle cx="316.2" cy="241.0" r="1.3"/><circle cx="317.1" cy="241.5" r="1.3"/><circle cx="317.8" cy="242.3" r="1.3"/><circle cx="318.1" cy="244.4" r="1.3"/><circle cx="317.9" cy="245.2" r="1.3"/><circle cx="319.1" cy="246.0" r="1.3"/><circle cx="319.4" cy="248.4" r="1.3"/><circle cx="319.9" cy="248.8" r="1.3"/><circle cx="320.3" cy="250.4" r="1.3"/><circle cx="320.9" cy="251.1" r="1.3"/><circle cx="321.8" cy="252.0" r="1.3"/><circle cx="322.1" cy="253.0" r="1.3"/><circle cx="322.3" cy="253.8" r="1.3"/><circle cx="322.7" cy="256.0" r="1.3"/><circle cx="323.3" cy="256.9" r="1.3"/><circle cx="324.0" cy="258.3" r="1.3"/><circle cx="324.9" cy="259.1" r="1.3"/><circle cx="324.7" cy="259.8" r="1.3"/><circle cx="325.7" cy="260.7" r="1.3"/><circle cx="326.2" cy="262.6" r="1.3"/><circle cx="326.8" cy="263.9" r="1.3"/><circle cx="327.8" cy="264.2" r="1.3"/><circle cx="328.6" cy="265.5" r="1.3"/><circle cx="329.0" cy="266.7" r="1.3"/><circle cx="330.0" cy="266.5" r="1.3"/><circle cx="331.5" cy="267.4" r="1.3"/><circle cx="332.3" cy="267.7" r="1.3"/><circle cx="333.3" cy="269.1" r="1.3"/><circle cx="334.1" cy="269.2" r="1.3"/><circle cx="335.2" cy="269.3" r="1.3"/><circle cx="336.5" cy="269.2" r="1.3"/><circle cx="337.3" cy="270.2" r="1.3"/><circle cx="338.3" cy="270.9" r="1.3"/><circle cx="339.6" cy="270.7" r="1.3"/><circle cx="340.9" cy="270.9" r="1.3"/><circle cx="341.5" cy="271.5" r="1.3"/><circle cx="343.2" cy="271.1" r="1.3"/><circle cx="344.2" cy="271.7" r="1.3"/><circle cx="344.9" cy="272.0" r="1.3"/><circle cx="346.2" cy="271.6" r="1.3"/><circle cx="347.3" cy="271.6" r="1.3"/><circle cx="348.5" cy="272.0" r="1.3"/><circle cx="349.6" cy="271.9" r="1.3"/><circle cx="350.3" cy="271.8" r="1.3"/><circle cx="351.3" cy="271.9" r="1.3"/><circle cx="353.0" cy="271.9" r="1.3"/><circle cx="353.9" cy="271.6" r="1.3"/><circle cx="355.1" cy="271.7" r="1.3"/><circle cx="356.2" cy="272.2" r="1.3"/><circle cx="357.6" cy="272.5" r="1.3"/><circle cx="358.0" cy="272.6" r="1.3"/><circle cx="359.6" cy="271.9" r="1.3"/><circle cx="360.3" cy="272.6" r="1.3"/><circle cx="361.8" cy="272.6" r="1.3"/><circle cx="363.0" cy="272.4" r="1.3"/><circle cx="363.4" cy="272.6" r="1.3"/><circle cx="365.0" cy="272.7" r="1.3"/><circle cx="365.9" cy="273.0" r="1.3"/><circle cx="367.0" cy="272.0" r="1.3"/></g>
<g fill="none" stroke="#2f78e6" stroke-width="1.0"><circle cx="216.9" cy="222.6" r="1.3"/><circle cx="217.7" cy="219.6" r="1.3"/><circle cx="219.2" cy="219.3" r="1.3"/><circle cx="219.7" cy="222.8" r="1.3"/><circle cx="221.3" cy="223.2" r="1.3"/><circle cx="222.6" cy="219.9" r="1.3"/><circle cx="222.8" cy="217.9" r="1.3"/><circle cx="224.5" cy="227.5" r="1.3"/><circle cx="225.6" cy="224.7" r="1.3"/><circle cx="226.7" cy="223.1" r="1.3"/><circle cx="227.5" cy="219.9" r="1.3"/><circle cx="228.7" cy="221.0" r="1.3"/><circle cx="229.5" cy="222.9" r="1.3"/><circle cx="231.0" cy="219.9" r="1.3"/><circle cx="232.2" cy="226.3" r="1.3"/><circle cx="233.0" cy="222.8" r="1.3"/><circle cx="234.0" cy="223.5" r="1.3"/><circle cx="235.3" cy="220.0" r="1.3"/><circle cx="236.5" cy="220.2" r="1.3"/><circle cx="237.6" cy="220.4" r="1.3"/><circle cx="238.6" cy="222.8" r="1.3"/><circle cx="239.8" cy="221.4" r="1.3"/><circle cx="240.5" cy="221.6" r="1.3"/><circle cx="241.1" cy="223.3" r="1.3"/><circle cx="242.9" cy="223.8" r="1.3"/><circle cx="244.0" cy="227.1" r="1.3"/><circle cx="244.2" cy="224.6" r="1.3"/><circle cx="245.3" cy="223.7" r="1.3"/><circle cx="246.5" cy="226.4" r="1.3"/><circle cx="247.6" cy="229.8" r="1.3"/><circle cx="248.4" cy="226.7" r="1.3"/><circle cx="249.4" cy="228.4" r="1.3"/><circle cx="249.9" cy="228.4" r="1.3"/><circle cx="250.9" cy="230.5" r="1.3"/><circle cx="251.7" cy="231.2" r="1.3"/><circle cx="252.3" cy="230.6" r="1.3"/><circle cx="253.6" cy="233.1" r="1.3"/><circle cx="254.3" cy="236.6" r="1.3"/><circle cx="255.2" cy="238.3" r="1.3"/><circle cx="255.7" cy="239.3" r="1.3"/><circle cx="257.0" cy="240.3" r="1.3"/><circle cx="257.3" cy="239.2" r="1.3"/><circle cx="258.5" cy="239.8" r="1.3"/><circle cx="258.6" cy="242.5" r="1.3"/><circle cx="259.9" cy="239.7" r="1.3"/><circle cx="261.2" cy="242.2" r="1.3"/><circle cx="261.7" cy="240.1" r="1.3"/><circle cx="262.7" cy="243.0" r="1.3"/><circle cx="263.2" cy="243.1" r="1.3"/><circle cx="264.8" cy="243.1" r="1.3"/><circle cx="265.4" cy="246.6" r="1.3"/><circle cx="266.1" cy="245.6" r="1.3"/><circle cx="267.1" cy="247.1" r="1.3"/><circle cx="267.9" cy="248.4" r="1.3"/><circle cx="269.0" cy="248.8" r="1.3"/><circle cx="269.5" cy="252.8" r="1.3"/><circle cx="269.8" cy="251.1" r="1.3"/><circle cx="270.9" cy="252.9" r="1.3"/><circle cx="272.0" cy="251.9" r="1.3"/><circle cx="272.6" cy="254.0" r="1.3"/><circle cx="273.1" cy="255.3" r="1.3"/><circle cx="274.2" cy="256.4" r="1.3"/><circle cx="274.8" cy="257.0" r="1.3"/><circle cx="275.8" cy="258.9" r="1.3"/><circle cx="276.0" cy="261.6" r="1.3"/><circle cx="277.1" cy="260.6" r="1.3"/><circle cx="278.3" cy="261.5" r="1.3"/><circle cx="279.0" cy="261.9" r="1.3"/><circle cx="280.0" cy="265.9" r="1.3"/><circle cx="281.3" cy="265.2" r="1.3"/><circle cx="281.6" cy="264.6" r="1.3"/><circle cx="282.6" cy="265.7" r="1.3"/><circle cx="283.3" cy="265.2" r="1.3"/><circle cx="284.0" cy="266.9" r="1.3"/><circle cx="284.9" cy="268.3" r="1.3"/><circle cx="285.2" cy="269.1" r="1.3"/><circle cx="285.7" cy="268.9" r="1.3"/><circle cx="287.4" cy="269.6" r="1.3"/><circle cx="288.1" cy="271.2" r="1.3"/><circle cx="289.4" cy="270.8" r="1.3"/><circle cx="290.1" cy="267.7" r="1.3"/><circle cx="291.0" cy="269.5" r="1.3"/><circle cx="291.9" cy="269.9" r="1.3"/><circle cx="292.7" cy="267.1" r="1.3"/><circle cx="293.0" cy="266.9" r="1.3"/><circle cx="294.2" cy="264.1" r="1.3"/><circle cx="294.3" cy="265.1" r="1.3"/><circle cx="295.1" cy="262.1" r="1.3"/><circle cx="296.2" cy="260.8" r="1.3"/><circle cx="296.1" cy="260.5" r="1.3"/><circle cx="297.0" cy="261.8" r="1.3"/><circle cx="297.0" cy="257.8" r="1.3"/><circle cx="297.8" cy="256.0" r="1.3"/><circle cx="298.1" cy="256.6" r="1.3"/><circle cx="298.7" cy="255.3" r="1.3"/><circle cx="298.8" cy="255.6" r="1.3"/><circle cx="299.3" cy="251.3" r="1.3"/><circle cx="300.1" cy="249.6" r="1.3"/><circle cx="300.1" cy="249.5" r="1.3"/><circle cx="300.8" cy="248.8" r="1.3"/><circle cx="301.8" cy="247.4" r="1.3"/><circle cx="302.1" cy="247.1" r="1.3"/><circle cx="302.7" cy="242.3" r="1.3"/><circle cx="303.4" cy="242.0" r="1.3"/><circle cx="304.4" cy="241.9" r="1.3"/><circle cx="305.3" cy="243.0" r="1.3"/><circle cx="306.5" cy="242.7" r="1.3"/><circle cx="307.3" cy="242.5" r="1.3"/><circle cx="308.5" cy="243.1" r="1.3"/><circle cx="308.5" cy="246.9" r="1.3"/><circle cx="308.8" cy="248.0" r="1.3"/><circle cx="309.8" cy="250.6" r="1.3"/><circle cx="310.1" cy="248.8" r="1.3"/><circle cx="310.4" cy="251.4" r="1.3"/><circle cx="310.2" cy="250.6" r="1.3"/><circle cx="311.1" cy="252.5" r="1.3"/><circle cx="311.1" cy="253.9" r="1.3"/><circle cx="311.3" cy="255.5" r="1.3"/><circle cx="311.1" cy="256.8" r="1.3"/><circle cx="311.9" cy="258.5" r="1.3"/><circle cx="312.0" cy="260.2" r="1.3"/><circle cx="312.5" cy="261.2" r="1.3"/><circle cx="312.4" cy="263.1" r="1.3"/><circle cx="312.4" cy="263.8" r="1.3"/><circle cx="313.0" cy="265.0" r="1.3"/><circle cx="313.0" cy="267.1" r="1.3"/><circle cx="313.5" cy="267.8" r="1.3"/><circle cx="313.4" cy="269.1" r="1.3"/><circle cx="313.9" cy="270.4" r="1.3"/><circle cx="314.1" cy="271.8" r="1.3"/><circle cx="314.4" cy="273.4" r="1.3"/><circle cx="314.6" cy="274.1" r="1.3"/><circle cx="314.8" cy="276.4" r="1.3"/><circle cx="315.2" cy="277.9" r="1.3"/><circle cx="315.4" cy="279.0" r="1.3"/><circle cx="315.8" cy="279.5" r="1.3"/><circle cx="316.0" cy="280.3" r="1.3"/><circle cx="315.8" cy="282.2" r="1.3"/><circle cx="316.6" cy="283.9" r="1.3"/><circle cx="317.4" cy="285.6" r="1.3"/><circle cx="317.6" cy="286.3" r="1.3"/><circle cx="318.2" cy="287.3" r="1.3"/><circle cx="318.8" cy="289.4" r="1.3"/><circle cx="319.3" cy="289.2" r="1.3"/><circle cx="319.8" cy="291.3" r="1.3"/><circle cx="321.1" cy="292.3" r="1.3"/><circle cx="321.9" cy="292.1" r="1.3"/><circle cx="322.5" cy="293.9" r="1.3"/><circle cx="323.2" cy="294.4" r="1.3"/><circle cx="323.9" cy="295.1" r="1.3"/><circle cx="324.5" cy="295.6" r="1.3"/><circle cx="325.4" cy="296.7" r="1.3"/><circle cx="326.1" cy="298.5" r="1.3"/><circle cx="326.9" cy="299.1" r="1.3"/><circle cx="327.4" cy="300.3" r="1.3"/><circle cx="328.3" cy="300.7" r="1.3"/><circle cx="329.3" cy="302.0" r="1.3"/><circle cx="329.9" cy="303.0" r="1.3"/><circle cx="330.2" cy="303.5" r="1.3"/><circle cx="331.7" cy="304.3" r="1.3"/><circle cx="332.0" cy="305.9" r="1.3"/><circle cx="334.1" cy="306.3" r="1.3"/><circle cx="334.9" cy="306.2" r="1.3"/><circle cx="335.9" cy="306.8" r="1.3"/><circle cx="336.7" cy="307.2" r="1.3"/><circle cx="337.7" cy="307.8" r="1.3"/><circle cx="339.0" cy="307.0" r="1.3"/><circle cx="340.1" cy="307.7" r="1.3"/><circle cx="341.0" cy="308.4" r="1.3"/><circle cx="342.4" cy="307.8" r="1.3"/><circle cx="343.6" cy="308.4" r="1.3"/><circle cx="344.7" cy="307.0" r="1.3"/><circle cx="345.4" cy="308.5" r="1.3"/><circle cx="346.2" cy="308.0" r="1.3"/><circle cx="347.8" cy="307.4" r="1.3"/><circle cx="348.8" cy="308.3" r="1.3"/><circle cx="350.1" cy="308.5" r="1.3"/><circle cx="351.5" cy="308.6" r="1.3"/><circle cx="352.6" cy="308.6" r="1.3"/><circle cx="353.4" cy="308.3" r="1.3"/><circle cx="354.7" cy="308.1" r="1.3"/><circle cx="355.9" cy="308.3" r="1.3"/><circle cx="356.6" cy="308.4" r="1.3"/><circle cx="357.8" cy="308.6" r="1.3"/><circle cx="359.0" cy="308.2" r="1.3"/><circle cx="359.9" cy="308.3" r="1.3"/><circle cx="360.9" cy="308.6" r="1.3"/><circle cx="361.9" cy="308.4" r="1.3"/><circle cx="363.2" cy="309.2" r="1.3"/><circle cx="364.2" cy="309.2" r="1.3"/><circle cx="365.6" cy="308.1" r="1.3"/><circle cx="366.4" cy="308.4" r="1.3"/><circle cx="368.0" cy="308.2" r="1.3"/></g>
<g fill="none" stroke="#2e22d6" stroke-width="1.0"><circle cx="217.1" cy="259.6" r="1.3"/><circle cx="218.0" cy="253.9" r="1.3"/><circle cx="218.6" cy="257.9" r="1.3"/><circle cx="219.0" cy="254.3" r="1.3"/><circle cx="220.8" cy="257.3" r="1.3"/><circle cx="221.7" cy="254.9" r="1.3"/><circle cx="222.5" cy="253.0" r="1.3"/><circle cx="222.9" cy="253.9" r="1.3"/><circle cx="223.8" cy="250.7" r="1.3"/><circle cx="225.3" cy="252.0" r="1.3"/><circle cx="226.2" cy="251.5" r="1.3"/><circle cx="227.0" cy="249.6" r="1.3"/><circle cx="227.9" cy="250.1" r="1.3"/><circle cx="229.1" cy="246.2" r="1.3"/><circle cx="229.9" cy="250.0" r="1.3"/><circle cx="231.0" cy="246.2" r="1.3"/><circle cx="231.9" cy="250.9" r="1.3"/><circle cx="233.0" cy="251.3" r="1.3"/><circle cx="233.7" cy="252.6" r="1.3"/><circle cx="235.0" cy="250.9" r="1.3"/><circle cx="235.8" cy="259.5" r="1.3"/><circle cx="236.4" cy="253.5" r="1.3"/><circle cx="238.0" cy="255.3" r="1.3"/><circle cx="238.2" cy="254.3" r="1.3"/><circle cx="239.5" cy="259.8" r="1.3"/><circle cx="240.6" cy="256.7" r="1.3"/><circle cx="241.6" cy="260.4" r="1.3"/><circle cx="241.7" cy="257.2" r="1.3"/><circle cx="243.4" cy="260.2" r="1.3"/><circle cx="244.4" cy="259.3" r="1.3"/><circle cx="245.4" cy="262.1" r="1.3"/><circle cx="245.4" cy="260.0" r="1.3"/><circle cx="246.7" cy="259.4" r="1.3"/><circle cx="247.8" cy="262.6" r="1.3"/><circle cx="248.6" cy="260.3" r="1.3"/><circle cx="250.0" cy="261.7" r="1.3"/><circle cx="250.4" cy="266.0" r="1.3"/><circle cx="251.8" cy="262.0" r="1.3"/><circle cx="252.5" cy="267.7" r="1.3"/><circle cx="252.9" cy="266.3" r="1.3"/><circle cx="253.9" cy="266.1" r="1.3"/><circle cx="254.9" cy="268.9" r="1.3"/><circle cx="255.9" cy="270.4" r="1.3"/><circle cx="257.0" cy="269.3" r="1.3"/><circle cx="257.6" cy="271.0" r="1.3"/><circle cx="258.7" cy="273.5" r="1.3"/><circle cx="258.9" cy="274.2" r="1.3"/><circle cx="259.4" cy="273.6" r="1.3"/><circle cx="260.8" cy="273.2" r="1.3"/><circle cx="261.8" cy="273.9" r="1.3"/><circle cx="262.4" cy="275.5" r="1.3"/><circle cx="263.0" cy="278.7" r="1.3"/><circle cx="264.1" cy="280.0" r="1.3"/><circle cx="265.2" cy="281.0" r="1.3"/><circle cx="265.4" cy="283.8" r="1.3"/><circle cx="266.0" cy="282.5" r="1.3"/><circle cx="266.7" cy="283.2" r="1.3"/><circle cx="268.2" cy="283.7" r="1.3"/><circle cx="268.4" cy="287.3" r="1.3"/><circle cx="269.4" cy="282.6" r="1.3"/><circle cx="270.3" cy="286.4" r="1.3"/><circle cx="271.1" cy="287.5" r="1.3"/><circle cx="271.4" cy="288.0" r="1.3"/><circle cx="272.6" cy="291.8" r="1.3"/><circle cx="273.4" cy="291.3" r="1.3"/><circle cx="274.1" cy="291.8" r="1.3"/><circle cx="275.1" cy="290.7" r="1.3"/><circle cx="275.5" cy="293.4" r="1.3"/><circle cx="276.4" cy="293.4" r="1.3"/><circle cx="277.1" cy="295.0" r="1.3"/><circle cx="278.3" cy="296.2" r="1.3"/><circle cx="278.7" cy="296.2" r="1.3"/><circle cx="279.8" cy="298.2" r="1.3"/><circle cx="280.3" cy="300.1" r="1.3"/><circle cx="281.3" cy="300.2" r="1.3"/><circle cx="282.1" cy="300.3" r="1.3"/><circle cx="282.9" cy="299.2" r="1.3"/><circle cx="283.7" cy="303.4" r="1.3"/><circle cx="284.3" cy="304.5" r="1.3"/><circle cx="284.9" cy="304.6" r="1.3"/><circle cx="285.0" cy="305.6" r="1.3"/><circle cx="286.4" cy="307.6" r="1.3"/><circle cx="286.6" cy="307.3" r="1.3"/><circle cx="287.6" cy="309.5" r="1.3"/><circle cx="288.5" cy="307.4" r="1.3"/><circle cx="290.0" cy="307.4" r="1.3"/><circle cx="290.4" cy="307.9" r="1.3"/><circle cx="291.6" cy="305.7" r="1.3"/><circle cx="292.6" cy="306.1" r="1.3"/><circle cx="293.5" cy="305.4" r="1.3"/><circle cx="294.2" cy="302.4" r="1.3"/><circle cx="294.9" cy="303.7" r="1.3"/><circle cx="295.2" cy="301.2" r="1.3"/><circle cx="296.5" cy="301.3" r="1.3"/><circle cx="297.2" cy="300.0" r="1.3"/><circle cx="297.8" cy="298.4" r="1.3"/><circle cx="298.4" cy="297.4" r="1.3"/><circle cx="298.9" cy="295.3" r="1.3"/><circle cx="299.3" cy="295.3" r="1.3"/><circle cx="300.2" cy="294.0" r="1.3"/><circle cx="300.7" cy="294.9" r="1.3"/><circle cx="300.5" cy="292.9" r="1.3"/><circle cx="301.4" cy="289.2" r="1.3"/><circle cx="301.7" cy="289.6" r="1.3"/><circle cx="302.2" cy="287.6" r="1.3"/><circle cx="302.5" cy="285.7" r="1.3"/><circle cx="303.1" cy="285.1" r="1.3"/><circle cx="303.5" cy="284.1" r="1.3"/><circle cx="303.9" cy="281.3" r="1.3"/><circle cx="303.8" cy="280.2" r="1.3"/><circle cx="304.8" cy="279.5" r="1.3"/><circle cx="305.1" cy="277.1" r="1.3"/><circle cx="305.2" cy="277.4" r="1.3"/><circle cx="306.1" cy="276.0" r="1.3"/><circle cx="306.1" cy="274.1" r="1.3"/><circle cx="307.2" cy="272.7" r="1.3"/><circle cx="308.4" cy="273.9" r="1.3"/><circle cx="308.5" cy="275.5" r="1.3"/><circle cx="309.4" cy="276.0" r="1.3"/><circle cx="309.6" cy="276.0" r="1.3"/><circle cx="310.1" cy="279.0" r="1.3"/><circle cx="309.9" cy="279.7" r="1.3"/><circle cx="310.7" cy="281.4" r="1.3"/><circle cx="310.8" cy="283.1" r="1.3"/><circle cx="311.2" cy="283.1" r="1.3"/><circle cx="311.2" cy="284.9" r="1.3"/><circle cx="311.7" cy="286.0" r="1.3"/><circle cx="311.6" cy="287.2" r="1.3"/><circle cx="311.9" cy="290.2" r="1.3"/><circle cx="312.3" cy="291.0" r="1.3"/><circle cx="312.1" cy="290.8" r="1.3"/><circle cx="312.5" cy="293.4" r="1.3"/><circle cx="312.6" cy="294.1" r="1.3"/><circle cx="312.8" cy="296.3" r="1.3"/><circle cx="312.8" cy="297.1" r="1.3"/><circle cx="313.3" cy="298.3" r="1.3"/><circle cx="313.6" cy="300.0" r="1.3"/><circle cx="313.5" cy="301.6" r="1.3"/><circle cx="313.9" cy="302.9" r="1.3"/><circle cx="314.0" cy="304.3" r="1.3"/><circle cx="313.8" cy="305.7" r="1.3"/><circle cx="314.4" cy="307.3" r="1.3"/><circle cx="314.8" cy="307.8" r="1.3"/><circle cx="314.5" cy="309.4" r="1.3"/><circle cx="314.4" cy="310.5" r="1.3"/><circle cx="315.0" cy="311.5" r="1.3"/><circle cx="315.0" cy="313.3" r="1.3"/><circle cx="315.8" cy="313.9" r="1.3"/><circle cx="315.6" cy="315.6" r="1.3"/><circle cx="315.8" cy="316.7" r="1.3"/><circle cx="315.9" cy="318.6" r="1.3"/><circle cx="316.4" cy="319.5" r="1.3"/><circle cx="316.5" cy="321.1" r="1.3"/><circle cx="316.7" cy="322.6" r="1.3"/><circle cx="317.2" cy="323.2" r="1.3"/><circle cx="317.3" cy="325.5" r="1.3"/><circle cx="318.3" cy="326.2" r="1.3"/><circle cx="318.1" cy="327.7" r="1.3"/><circle cx="319.0" cy="329.0" r="1.3"/><circle cx="319.4" cy="330.6" r="1.3"/><circle cx="319.9" cy="331.7" r="1.3"/><circle cx="321.4" cy="333.1" r="1.3"/><circle cx="321.3" cy="333.3" r="1.3"/><circle cx="322.9" cy="333.9" r="1.3"/><circle cx="323.0" cy="334.8" r="1.3"/><circle cx="324.1" cy="336.1" r="1.3"/><circle cx="325.5" cy="337.4" r="1.3"/><circle cx="325.2" cy="337.6" r="1.3"/><circle cx="326.3" cy="338.0" r="1.3"/><circle cx="327.8" cy="339.1" r="1.3"/><circle cx="328.4" cy="339.9" r="1.3"/><circle cx="329.2" cy="340.6" r="1.3"/><circle cx="330.3" cy="341.1" r="1.3"/><circle cx="331.0" cy="341.3" r="1.3"/><circle cx="332.2" cy="342.7" r="1.3"/><circle cx="333.6" cy="343.8" r="1.3"/><circle cx="334.1" cy="344.0" r="1.3"/><circle cx="335.3" cy="343.4" r="1.3"/><circle cx="336.7" cy="344.2" r="1.3"/><circle cx="338.0" cy="343.7" r="1.3"/><circle cx="338.4" cy="345.3" r="1.3"/><circle cx="339.7" cy="344.9" r="1.3"/><circle cx="340.6" cy="344.6" r="1.3"/><circle cx="341.7" cy="345.5" r="1.3"/><circle cx="342.9" cy="345.0" r="1.3"/><circle cx="343.9" cy="345.4" r="1.3"/><circle cx="344.7" cy="345.2" r="1.3"/><circle cx="345.8" cy="344.8" r="1.3"/><circle cx="347.2" cy="345.4" r="1.3"/><circle cx="348.5" cy="344.8" r="1.3"/><circle cx="349.9" cy="345.8" r="1.3"/><circle cx="350.5" cy="345.5" r="1.3"/><circle cx="351.7" cy="345.3" r="1.3"/><circle cx="353.0" cy="345.0" r="1.3"/><circle cx="354.1" cy="346.2" r="1.3"/><circle cx="355.0" cy="346.1" r="1.3"/><circle cx="356.1" cy="345.3" r="1.3"/><circle cx="357.7" cy="346.2" r="1.3"/><circle cx="358.3" cy="345.7" r="1.3"/><circle cx="359.3" cy="345.6" r="1.3"/><circle cx="360.2" cy="345.6" r="1.3"/><circle cx="361.8" cy="345.5" r="1.3"/><circle cx="362.7" cy="346.0" r="1.3"/><circle cx="364.3" cy="345.7" r="1.3"/><circle cx="364.9" cy="345.1" r="1.3"/><circle cx="366.3" cy="346.3" r="1.3"/><circle cx="367.4" cy="345.9" r="1.3"/></g>
<g fill="none" stroke="#bf22e0" stroke-width="1.0"><circle cx="217.0" cy="298.1" r="1.3"/><circle cx="217.8" cy="291.2" r="1.3"/><circle cx="218.9" cy="297.0" r="1.3"/><circle cx="219.7" cy="292.9" r="1.3"/><circle cx="220.8" cy="291.8" r="1.3"/><circle cx="221.8" cy="290.4" r="1.3"/><circle cx="222.3" cy="289.4" r="1.3"/><circle cx="223.9" cy="289.0" r="1.3"/><circle cx="224.9" cy="284.2" r="1.3"/><circle cx="225.3" cy="290.7" r="1.3"/><circle cx="227.0" cy="289.3" r="1.3"/><circle cx="227.9" cy="286.4" r="1.3"/><circle cx="228.9" cy="287.7" r="1.3"/><circle cx="230.0" cy="292.8" r="1.3"/><circle cx="230.9" cy="287.6" r="1.3"/><circle cx="231.8" cy="285.4" r="1.3"/><circle cx="233.0" cy="290.6" r="1.3"/><circle cx="233.9" cy="285.7" r="1.3"/><circle cx="235.4" cy="288.0" r="1.3"/><circle cx="236.1" cy="288.1" r="1.3"/><circle cx="236.3" cy="289.6" r="1.3"/><circle cx="237.1" cy="292.3" r="1.3"/><circle cx="238.3" cy="292.6" r="1.3"/><circle cx="239.4" cy="289.9" r="1.3"/><circle cx="240.1" cy="291.6" r="1.3"/><circle cx="241.1" cy="292.4" r="1.3"/><circle cx="242.9" cy="291.5" r="1.3"/><circle cx="243.8" cy="292.6" r="1.3"/><circle cx="244.3" cy="291.4" r="1.3"/><circle cx="245.3" cy="291.8" r="1.3"/><circle cx="246.6" cy="294.1" r="1.3"/><circle cx="247.8" cy="292.4" r="1.3"/><circle cx="248.8" cy="296.1" r="1.3"/><circle cx="249.5" cy="295.8" r="1.3"/><circle cx="250.0" cy="295.4" r="1.3"/><circle cx="251.3" cy="297.0" r="1.3"/><circle cx="252.2" cy="298.3" r="1.3"/><circle cx="252.8" cy="299.9" r="1.3"/><circle cx="253.5" cy="301.4" r="1.3"/><circle cx="254.6" cy="301.8" r="1.3"/><circle cx="255.3" cy="301.5" r="1.3"/><circle cx="255.9" cy="306.6" r="1.3"/><circle cx="257.1" cy="306.5" r="1.3"/><circle cx="257.6" cy="305.9" r="1.3"/><circle cx="259.0" cy="308.3" r="1.3"/><circle cx="259.8" cy="308.1" r="1.3"/><circle cx="260.3" cy="308.1" r="1.3"/><circle cx="261.4" cy="309.5" r="1.3"/><circle cx="262.5" cy="314.6" r="1.3"/><circle cx="262.5" cy="312.5" r="1.3"/><circle cx="263.8" cy="313.2" r="1.3"/><circle cx="265.0" cy="311.6" r="1.3"/><circle cx="265.0" cy="314.0" r="1.3"/><circle cx="266.1" cy="317.5" r="1.3"/><circle cx="266.5" cy="316.0" r="1.3"/><circle cx="267.6" cy="318.3" r="1.3"/><circle cx="267.7" cy="319.8" r="1.3"/><circle cx="268.7" cy="320.1" r="1.3"/><circle cx="269.7" cy="322.3" r="1.3"/><circle cx="270.6" cy="321.3" r="1.3"/><circle cx="271.4" cy="322.4" r="1.3"/><circle cx="272.2" cy="321.8" r="1.3"/><circle cx="273.1" cy="327.2" r="1.3"/><circle cx="273.7" cy="325.1" r="1.3"/><circle cx="274.5" cy="326.1" r="1.3"/><circle cx="274.9" cy="329.0" r="1.3"/><circle cx="275.8" cy="327.9" r="1.3"/><circle cx="277.4" cy="329.7" r="1.3"/><circle cx="277.9" cy="329.9" r="1.3"/><circle cx="278.3" cy="332.0" r="1.3"/><circle cx="279.0" cy="332.6" r="1.3"/><circle cx="279.8" cy="334.8" r="1.3"/><circle cx="280.2" cy="334.9" r="1.3"/><circle cx="281.5" cy="335.1" r="1.3"/><circle cx="281.7" cy="336.2" r="1.3"/><circle cx="282.5" cy="337.2" r="1.3"/><circle cx="283.8" cy="337.7" r="1.3"/><circle cx="283.4" cy="340.1" r="1.3"/><circle cx="284.6" cy="340.8" r="1.3"/><circle cx="284.7" cy="341.3" r="1.3"/><circle cx="285.4" cy="341.5" r="1.3"/><circle cx="285.9" cy="344.0" r="1.3"/><circle cx="286.2" cy="344.0" r="1.3"/><circle cx="286.9" cy="346.1" r="1.3"/><circle cx="287.8" cy="345.9" r="1.3"/><circle cx="289.0" cy="345.2" r="1.3"/><circle cx="289.8" cy="344.8" r="1.3"/><circle cx="291.0" cy="344.7" r="1.3"/><circle cx="291.8" cy="347.4" r="1.3"/><circle cx="293.3" cy="344.4" r="1.3"/><circle cx="293.8" cy="344.1" r="1.3"/><circle cx="295.3" cy="344.9" r="1.3"/><circle cx="296.0" cy="343.7" r="1.3"/><circle cx="296.8" cy="343.5" r="1.3"/><circle cx="298.0" cy="340.0" r="1.3"/><circle cx="298.5" cy="338.9" r="1.3"/><circle cx="298.7" cy="342.0" r="1.3"/><circle cx="299.9" cy="337.4" r="1.3"/><circle cx="299.6" cy="335.9" r="1.3"/><circle cx="300.8" cy="335.1" r="1.3"/><circle cx="301.0" cy="334.6" r="1.3"/><circle cx="301.1" cy="331.6" r="1.3"/><circle cx="301.9" cy="331.6" r="1.3"/><circle cx="302.1" cy="330.2" r="1.3"/><circle cx="303.0" cy="329.6" r="1.3"/><circle cx="302.8" cy="328.1" r="1.3"/><circle cx="303.7" cy="326.2" r="1.3"/><circle cx="303.9" cy="324.4" r="1.3"/><circle cx="303.7" cy="321.5" r="1.3"/><circle cx="304.0" cy="322.8" r="1.3"/><circle cx="304.8" cy="319.3" r="1.3"/><circle cx="304.7" cy="318.8" r="1.3"/><circle cx="305.1" cy="319.2" r="1.3"/><circle cx="305.2" cy="316.1" r="1.3"/><circle cx="305.2" cy="315.7" r="1.3"/><circle cx="305.7" cy="313.6" r="1.3"/><circle cx="305.9" cy="313.2" r="1.3"/><circle cx="306.0" cy="311.4" r="1.3"/><circle cx="306.6" cy="309.6" r="1.3"/><circle cx="307.5" cy="310.2" r="1.3"/><circle cx="307.8" cy="307.0" r="1.3"/><circle cx="307.7" cy="304.4" r="1.3"/><circle cx="308.0" cy="304.0" r="1.3"/><circle cx="308.4" cy="303.6" r="1.3"/><circle cx="309.0" cy="300.3" r="1.3"/><circle cx="309.2" cy="301.4" r="1.3"/><circle cx="309.6" cy="300.5" r="1.3"/><circle cx="310.6" cy="303.3" r="1.3"/><circle cx="311.6" cy="300.0" r="1.3"/><circle cx="312.4" cy="303.3" r="1.3"/><circle cx="312.0" cy="301.9" r="1.3"/><circle cx="312.0" cy="304.8" r="1.3"/><circle cx="312.9" cy="306.6" r="1.3"/><circle cx="312.8" cy="308.1" r="1.3"/><circle cx="313.0" cy="309.2" r="1.3"/><circle cx="313.5" cy="310.6" r="1.3"/><circle cx="313.3" cy="311.7" r="1.3"/><circle cx="313.1" cy="313.1" r="1.3"/><circle cx="313.1" cy="314.9" r="1.3"/><circle cx="313.7" cy="316.4" r="1.3"/><circle cx="313.6" cy="317.7" r="1.3"/><circle cx="314.1" cy="319.2" r="1.3"/><circle cx="313.8" cy="320.6" r="1.3"/><circle cx="314.2" cy="320.3" r="1.3"/><circle cx="314.1" cy="322.3" r="1.3"/><circle cx="314.5" cy="323.8" r="1.3"/><circle cx="314.6" cy="325.0" r="1.3"/><circle cx="315.0" cy="327.3" r="1.3"/><circle cx="315.3" cy="328.6" r="1.3"/><circle cx="315.0" cy="329.8" r="1.3"/><circle cx="315.0" cy="331.4" r="1.3"/><circle cx="315.8" cy="333.4" r="1.3"/><circle cx="315.6" cy="334.1" r="1.3"/><circle cx="315.7" cy="335.3" r="1.3"/><circle cx="315.9" cy="337.0" r="1.3"/><circle cx="316.2" cy="338.0" r="1.3"/><circle cx="316.2" cy="339.5" r="1.3"/><circle cx="316.2" cy="340.5" r="1.3"/><circle cx="316.4" cy="342.0" r="1.3"/><circle cx="316.1" cy="342.9" r="1.3"/><circle cx="316.3" cy="344.2" r="1.3"/><circle cx="316.5" cy="346.0" r="1.3"/><circle cx="316.7" cy="346.6" r="1.3"/><circle cx="316.8" cy="349.0" r="1.3"/><circle cx="316.9" cy="350.5" r="1.3"/><circle cx="317.0" cy="351.6" r="1.3"/><circle cx="317.0" cy="352.8" r="1.3"/><circle cx="316.8" cy="354.5" r="1.3"/><circle cx="317.6" cy="355.6" r="1.3"/><circle cx="317.6" cy="357.2" r="1.3"/><circle cx="317.4" cy="359.0" r="1.3"/><circle cx="317.9" cy="360.0" r="1.3"/><circle cx="318.0" cy="361.5" r="1.3"/><circle cx="318.1" cy="362.8" r="1.3"/><circle cx="317.7" cy="364.1" r="1.3"/><circle cx="318.1" cy="365.4" r="1.3"/><circle cx="318.4" cy="366.7" r="1.3"/><circle cx="319.1" cy="368.2" r="1.3"/><circle cx="318.7" cy="368.9" r="1.3"/><circle cx="319.1" cy="370.6" r="1.3"/><circle cx="319.1" cy="372.2" r="1.3"/><circle cx="319.6" cy="373.1" r="1.3"/><circle cx="320.1" cy="374.6" r="1.3"/><circle cx="320.1" cy="375.5" r="1.3"/><circle cx="320.5" cy="377.0" r="1.3"/><circle cx="322.0" cy="378.1" r="1.3"/><circle cx="322.7" cy="379.2" r="1.3"/><circle cx="323.4" cy="379.7" r="1.3"/><circle cx="324.8" cy="379.9" r="1.3"/><circle cx="325.8" cy="380.9" r="1.3"/><circle cx="326.0" cy="381.5" r="1.3"/><circle cx="327.6" cy="382.3" r="1.3"/><circle cx="328.9" cy="381.4" r="1.3"/><circle cx="329.6" cy="382.5" r="1.3"/><circle cx="330.8" cy="381.8" r="1.3"/><circle cx="332.2" cy="382.8" r="1.3"/><circle cx="333.0" cy="382.8" r="1.3"/><circle cx="333.9" cy="382.9" r="1.3"/><circle cx="335.1" cy="383.1" r="1.3"/><circle cx="336.0" cy="383.0" r="1.3"/><circle cx="337.6" cy="382.7" r="1.3"/><circle cx="338.1" cy="383.0" r="1.3"/><circle cx="339.9" cy="383.3" r="1.3"/><circle cx="340.3" cy="382.9" r="1.3"/><circle cx="341.9" cy="382.9" r="1.3"/><circle cx="342.6" cy="382.4" r="1.3"/><circle cx="344.0" cy="383.2" r="1.3"/><circle cx="345.4" cy="382.6" r="1.3"/><circle cx="346.5" cy="382.5" r="1.3"/><circle cx="347.7" cy="382.6" r="1.3"/><circle cx="348.4" cy="382.5" r="1.3"/><circle cx="349.6" cy="382.8" r="1.3"/><circle cx="350.7" cy="383.3" r="1.3"/><circle cx="351.9" cy="383.2" r="1.3"/><circle cx="352.8" cy="383.5" r="1.3"/><circle cx="354.2" cy="383.6" r="1.3"/><circle cx="355.1" cy="382.8" r="1.3"/><circle cx="356.4" cy="383.2" r="1.3"/><circle cx="357.4" cy="383.4" r="1.3"/><circle cx="358.5" cy="383.6" r="1.3"/><circle cx="359.3" cy="382.3" r="1.3"/><circle cx="360.5" cy="382.2" r="1.3"/><circle cx="361.3" cy="382.8" r="1.3"/><circle cx="362.7" cy="382.5" r="1.3"/><circle cx="363.8" cy="382.3" r="1.3"/><circle cx="365.2" cy="382.8" r="1.3"/><circle cx="365.7" cy="382.5" r="1.3"/><circle cx="368.0" cy="382.1" r="1.3"/></g>
<path d="M287.0,197.6 L287.5,197.1 L288.0,196.6 L288.5,196.2 L289.0,195.7 L289.5,195.3 L290.0,194.9 L290.5,194.5 L291.0,194.1 L291.5,193.8 L292.0,193.4 L292.5,193.1 L293.0,192.8 L293.5,192.6 L294.0,192.4 L294.5,192.1 L295.0,191.9 L295.5,191.7 L296.0,191.5 L296.5,191.3 L297.0,191.1 L297.5,190.9 L298.0,190.8 L298.5,190.6 L299.0,190.5 L299.5,190.4 L300.0,190.3 L300.5,190.2 L301.0,190.1 L301.5,190.1 L302.0,190.1 L302.5,190.2 L303.0,190.2 L303.5,190.4 L304.0,190.5 L304.5,190.7 L305.0,190.9 L305.5,191.2 L306.0,191.4 L306.5,191.7 L307.0,192.0 L307.5,192.2 L308.0,192.5 L308.5,192.9 L309.0,193.3 L309.5,193.7 L310.0,194.2 L310.5,194.7 L311.0,195.3 L311.5,195.9 L312.0,196.5 L312.5,197.1 L313.0,197.8 L313.5,198.5 L314.0,199.3 L314.5,200.1 L315.0,200.9 L315.5,201.7 L316.0,202.6 L316.5,203.4 L317.0,204.3 L317.5,205.2 L318.0,206.1 L318.5,207.1 L319.0,208.0 L319.5,208.9 L320.0,209.8 L320.5,210.7 L321.0,211.6 L321.5,212.6 L322.0,213.5 L322.5,214.4 L323.0,215.3 L323.5,216.2 L324.0,217.1 L324.5,217.9 L325.0,218.8 L325.5,219.6 L326.0,220.4 L326.5,221.2 L327.0,221.9 L327.5,222.7 L328.0,223.4 L328.5,224.1 L329.0,224.8 L329.5,225.4 L330.0,226.0 L330.5,226.6 L331.0,227.2 L331.5,227.7 L332.0,228.3 L332.5,228.8 L333.0,229.3 L333.5,229.8 L334.0,230.2 L334.5,230.7 L335.0,231.1 L335.5,231.4 L336.0,231.8 L336.5,232.1 L337.0,232.4 L337.5,232.8 L338.0,233.1 L338.5,233.4 L339.0,233.7 L339.5,233.9 L340.0,234.2 L340.5,234.4 L341.0,234.6 L341.5,234.8 L342.0,234.9 L342.5,235.0 L343.0,235.1 L343.5,235.1 L344.0,235.2 L344.5,235.2 L345.0,235.3 L345.5,235.3 L346.0,235.4 L346.5,235.4 L347.0,235.5 L347.5,235.5 L348.0,235.5 L348.5,235.6 L349.0,235.6 L349.5,235.6 L350.0,235.6 L350.5,235.7 L351.0,235.7 L351.5,235.7 L352.0,235.7 L352.5,235.7 L353.0,235.7 L353.5,235.7 L354.0,235.7 L354.5,235.8 L355.0,235.8 L355.5,235.8 L356.0,235.8 L356.5,235.8 L357.0,235.8 L357.5,235.8 L358.0,235.8 L358.5,235.8 L359.0,235.8 L359.5,235.8 L360.0,235.8 L360.5,235.9 L361.0,235.9 L361.5,235.9 L362.0,235.9 L362.5,235.9 L363.0,235.9 L363.5,235.9 L364.0,235.9 L364.5,235.9 L365.0,235.9 L365.5,235.9 L366.0,235.9 L366.5,235.9 L367.0,235.9 L367.5,235.9" fill="none" stroke="#0a0a0a" stroke-width="1.5" stroke-linejoin="round" transform="translate(0,0.5)"/>
<path d="M292.2,231.5 L292.7,230.9 L293.2,230.4 L293.7,229.8 L294.2,229.2 L294.7,228.7 L295.2,228.1 L295.7,227.5 L296.2,226.9 L296.7,226.3 L297.2,225.6 L297.7,225.0 L298.2,224.3 L298.7,223.6 L299.2,222.9 L299.7,222.2 L300.2,221.5 L300.7,220.8 L301.2,220.3 L301.7,219.8 L302.2,219.4 L302.7,218.9 L303.2,218.4 L303.7,218.0 L304.2,217.6 L304.7,217.3 L305.2,217.1 L305.7,216.9 L306.2,216.9 L306.7,217.0 L307.2,217.3 L307.7,217.8 L308.2,218.4 L308.7,219.1 L309.2,219.9 L309.7,220.7 L310.2,221.6 L310.7,222.6 L311.2,223.5 L311.7,224.5 L312.2,225.8 L312.7,227.2 L313.2,228.8 L313.7,230.5 L314.2,232.1 L314.7,233.8 L315.2,235.4 L315.7,237.2 L316.2,238.9 L316.7,240.7 L317.2,242.2 L317.7,243.6 L318.2,244.8 L318.7,246.0 L319.2,247.1 L319.7,248.2 L320.2,249.2 L320.7,250.4 L321.2,251.6 L321.7,252.8 L322.2,254.1 L322.7,255.4 L323.2,256.7 L323.7,257.9 L324.2,259.0 L324.7,260.1 L325.2,261.0 L325.7,261.8 L326.2,262.7 L326.7,263.5 L327.2,264.2 L327.7,264.9 L328.2,265.6 L328.7,266.2 L329.2,266.8 L329.7,267.2 L330.2,267.7 L330.7,268.0 L331.2,268.3 L331.7,268.6 L332.2,268.9 L332.7,269.2 L333.2,269.4 L333.7,269.6 L334.2,269.9 L334.7,270.1 L335.2,270.3 L335.7,270.4 L336.2,270.6 L336.7,270.7 L337.2,270.9 L337.7,271.0 L338.2,271.1 L338.7,271.2 L339.2,271.3 L339.7,271.4 L340.2,271.5 L340.7,271.6 L341.2,271.6 L341.7,271.7 L342.2,271.8 L342.7,271.8 L343.2,271.9 L343.7,271.9 L344.2,272.0 L344.7,272.0 L345.2,272.1 L345.7,272.1 L346.2,272.1 L346.7,272.2 L347.2,272.2 L347.7,272.2 L348.2,272.3 L348.7,272.3 L349.2,272.3 L349.7,272.3 L350.2,272.4 L350.7,272.4 L351.2,272.4 L351.7,272.4 L352.2,272.4 L352.7,272.5 L353.2,272.5 L353.7,272.5 L354.2,272.5 L354.7,272.5 L355.2,272.6 L355.7,272.6 L356.2,272.6 L356.7,272.6 L357.2,272.6 L357.7,272.7 L358.2,272.7 L358.7,272.7 L359.2,272.7 L359.7,272.7 L360.2,272.8 L360.7,272.8 L361.2,272.8 L361.7,272.8 L362.2,272.8 L362.7,272.8 L363.2,272.9 L363.7,272.9 L364.2,272.9 L364.7,272.9 L365.2,272.9 L365.7,272.9 L366.2,272.9 L366.7,273.0 L367.2,273.0 L367.7,273.0" fill="none" stroke="#0a0a0a" stroke-width="1.5" stroke-linejoin="round" transform="translate(0,0.5)"/>
<path d="M287.8,271.5 L288.3,271.4 L288.8,271.1 L289.3,270.8 L289.8,270.5 L290.3,270.0 L290.8,269.6 L291.3,269.0 L291.8,268.5 L292.3,267.9 L292.8,267.2 L293.3,266.6 L293.8,265.8 L294.3,264.8 L294.8,263.8 L295.3,262.6 L295.8,261.4 L296.3,260.2 L296.8,259.0 L297.3,257.8 L297.8,256.7 L298.3,255.4 L298.8,254.1 L299.3,252.7 L299.8,251.4 L300.3,250.1 L300.8,248.9 L301.3,247.9 L301.8,247.0 L302.3,246.2 L302.8,245.4 L303.3,244.5 L303.8,243.8 L304.3,243.2 L304.8,242.7 L305.3,242.4 L305.8,242.3 L306.3,242.5 L306.8,242.8 L307.3,243.3 L307.8,244.0 L308.3,244.8 L308.8,245.8 L309.3,246.8 L309.8,248.0 L310.3,250.1 L310.8,252.8 L311.3,255.8 L311.8,258.9 L312.3,261.6 L312.8,264.3 L313.3,267.1 L313.8,269.8 L314.3,272.5 L314.8,275.0 L315.3,277.5 L315.8,280.0 L316.3,282.4 L316.8,284.4 L317.3,286.0 L317.8,287.2 L318.3,288.2 L318.8,289.0 L319.3,289.8 L319.8,290.5 L320.3,291.1 L320.8,291.8 L321.3,292.4 L321.8,293.1 L322.3,293.9 L322.8,294.6 L323.3,295.3 L323.8,296.0 L324.3,296.7 L324.8,297.4 L325.3,298.0 L325.8,298.7 L326.3,299.3 L326.8,299.9 L327.3,300.5 L327.8,301.1 L328.3,301.7 L328.8,302.3 L329.3,303.0 L329.8,303.6 L330.3,304.2 L330.8,304.7 L331.3,305.3 L331.8,305.7 L332.3,306.2 L332.8,306.5 L333.3,306.8 L333.8,307.0 L334.3,307.1 L334.8,307.2 L335.3,307.3 L335.8,307.4 L336.3,307.5 L336.8,307.6 L337.3,307.7 L337.8,307.8 L338.3,307.8 L338.8,307.9 L339.3,308.0 L339.8,308.0 L340.3,308.1 L340.8,308.1 L341.3,308.2 L341.8,308.2 L342.3,308.3 L342.8,308.3 L343.3,308.3 L343.8,308.4 L344.3,308.4 L344.8,308.4 L345.3,308.5 L345.8,308.5 L346.3,308.5 L346.8,308.5 L347.3,308.6 L347.8,308.6 L348.3,308.6 L348.8,308.6 L349.3,308.7 L349.8,308.7 L350.3,308.7 L350.8,308.7 L351.3,308.7 L351.8,308.8 L352.3,308.8 L352.8,308.8 L353.3,308.8 L353.8,308.8 L354.3,308.8 L354.8,308.9 L355.3,308.9 L355.8,308.9 L356.3,308.9 L356.8,308.9 L357.3,308.9 L357.8,309.0 L358.3,309.0 L358.8,309.0 L359.3,309.0 L359.8,309.0 L360.3,309.0 L360.8,309.0 L361.3,309.1 L361.8,309.1 L362.3,309.1 L362.8,309.1 L363.3,309.1 L363.8,309.1 L364.3,309.1 L364.8,309.1 L365.3,309.1 L365.8,309.2 L366.3,309.2 L366.8,309.2 L367.3,309.2 L367.8,309.2" fill="none" stroke="#0a0a0a" stroke-width="1.5" stroke-linejoin="round" transform="translate(0,0.5)"/>
<path d="M287.8,309.1 L288.3,308.8 L288.8,308.5 L289.3,308.2 L289.8,307.8 L290.3,307.4 L290.8,307.0 L291.3,306.6 L291.8,306.1 L292.3,305.6 L292.8,305.1 L293.3,304.6 L293.8,304.0 L294.3,303.4 L294.8,302.9 L295.3,302.2 L295.8,301.5 L296.3,300.8 L296.8,300.1 L297.3,299.3 L297.8,298.4 L298.3,297.5 L298.8,296.6 L299.3,295.6 L299.8,294.4 L300.3,293.1 L300.8,291.6 L301.3,290.1 L301.8,288.5 L302.3,286.9 L302.8,285.3 L303.3,283.7 L303.8,282.3 L304.3,281.0 L304.8,279.7 L305.3,278.2 L305.8,276.8 L306.3,275.5 L306.8,274.4 L307.3,273.7 L307.8,273.4 L308.3,273.8 L308.8,274.7 L309.3,276.2 L309.8,277.9 L310.3,279.8 L310.8,282.2 L311.3,285.6 L311.8,289.5 L312.3,293.1 L312.8,296.4 L313.3,299.8 L313.8,303.2 L314.3,306.8 L314.8,310.7 L315.3,314.3 L315.8,317.2 L316.3,319.8 L316.8,322.3 L317.3,324.5 L317.8,326.3 L318.3,327.6 L318.8,328.7 L319.3,329.7 L319.8,330.6 L320.3,331.3 L320.8,332.0 L321.3,332.7 L321.8,333.3 L322.3,333.9 L322.8,334.6 L323.3,335.2 L323.8,335.8 L324.3,336.4 L324.8,337.0 L325.3,337.6 L325.8,338.1 L326.3,338.6 L326.8,339.1 L327.3,339.6 L327.8,340.0 L328.3,340.4 L328.8,340.8 L329.3,341.2 L329.8,341.6 L330.3,342.0 L330.8,342.3 L331.3,342.7 L331.8,343.0 L332.3,343.3 L332.8,343.6 L333.3,343.9 L333.8,344.1 L334.3,344.3 L334.8,344.5 L335.3,344.6 L335.8,344.7 L336.3,344.8 L336.8,344.9 L337.3,345.0 L337.8,345.0 L338.3,345.1 L338.8,345.2 L339.3,345.2 L339.8,345.3 L340.3,345.3 L340.8,345.4 L341.3,345.4 L341.8,345.5 L342.3,345.5 L342.8,345.5 L343.3,345.6 L343.8,345.6 L344.3,345.6 L344.8,345.6 L345.3,345.6 L345.8,345.7 L346.3,345.7 L346.8,345.7 L347.3,345.7 L347.8,345.7 L348.3,345.7 L348.8,345.8 L349.3,345.8 L349.8,345.8 L350.3,345.8 L350.8,345.8 L351.3,345.8 L351.8,345.9 L352.3,345.9 L352.8,345.9 L353.3,345.9 L353.8,345.9 L354.3,345.9 L354.8,345.9 L355.3,345.9 L355.8,346.0 L356.3,346.0 L356.8,346.0 L357.3,346.0 L357.8,346.0 L358.3,346.0 L358.8,346.0 L359.3,346.0 L359.8,346.0 L360.3,346.0 L360.8,346.0 L361.3,346.1 L361.8,346.1 L362.3,346.1 L362.8,346.1 L363.3,346.1 L363.8,346.1 L364.3,346.1 L364.8,346.1 L365.3,346.1 L365.8,346.1 L366.3,346.1 L366.8,346.1 L367.3,346.1 L367.8,346.1" fill="none" stroke="#0a0a0a" stroke-width="1.5" stroke-linejoin="round" transform="translate(0,0.5)"/>
<path d="M287.0,346.5 L287.5,346.5 L288.0,346.4 L288.5,346.3 L289.0,346.2 L289.5,346.0 L290.0,345.8 L290.5,345.6 L291.0,345.4 L291.5,345.2 L292.0,344.9 L292.5,344.7 L293.0,344.4 L293.5,344.1 L294.0,343.8 L294.5,343.5 L295.0,343.2 L295.5,342.8 L296.0,342.4 L296.5,341.9 L297.0,341.4 L297.5,340.9 L298.0,340.3 L298.5,339.6 L299.0,338.9 L299.5,338.0 L300.0,336.9 L300.5,335.5 L301.0,334.0 L301.5,332.3 L302.0,330.5 L302.5,328.6 L303.0,326.7 L303.5,324.8 L304.0,322.7 L304.5,320.4 L305.0,317.9 L305.5,315.4 L306.0,313.0 L306.5,310.7 L307.0,308.7 L307.5,306.7 L308.0,304.6 L308.5,302.6 L309.0,300.9 L309.5,299.9 L310.0,299.6 L310.5,300.0 L311.0,300.7 L311.5,301.9 L312.0,303.3 L312.5,305.3 L313.0,309.1 L313.5,314.0 L314.0,318.7 L314.5,323.6 L315.0,328.7 L315.5,334.1 L316.0,339.7 L316.5,345.8 L317.0,351.7 L317.5,357.0 L318.0,362.0 L318.5,366.3 L319.0,369.6 L319.5,372.4 L320.0,374.4 L320.5,375.6 L321.0,376.6 L321.5,377.4 L322.0,378.2 L322.5,378.8 L323.0,379.3 L323.5,379.7 L324.0,380.0 L324.5,380.4 L325.0,380.7 L325.5,380.9 L326.0,381.2 L326.5,381.5 L327.0,381.7 L327.5,381.9 L328.0,382.0 L328.5,382.2 L329.0,382.3 L329.5,382.4 L330.0,382.4 L330.5,382.5 L331.0,382.5 L331.5,382.5 L332.0,382.5 L332.5,382.6 L333.0,382.6 L333.5,382.6 L334.0,382.7 L334.5,382.7 L335.0,382.7 L335.5,382.7 L336.0,382.7 L336.5,382.7 L337.0,382.8 L337.5,382.8 L338.0,382.8 L338.5,382.8 L339.0,382.8 L339.5,382.8 L340.0,382.8 L340.5,382.8 L341.0,382.8 L341.5,382.8 L342.0,382.8 L342.5,382.8 L343.0,382.8 L343.5,382.8 L344.0,382.8 L344.5,382.8 L345.0,382.8 L345.5,382.8 L346.0,382.8 L346.5,382.8 L347.0,382.8 L347.5,382.8 L348.0,382.9 L348.5,382.9 L349.0,382.9 L349.5,382.9 L350.0,382.9 L350.5,382.9 L351.0,382.9 L351.5,382.9 L352.0,382.9 L352.5,382.9 L353.0,382.9 L353.5,382.9 L354.0,382.9 L354.5,382.9 L355.0,382.9 L355.5,382.9 L356.0,382.9 L356.5,382.9 L357.0,382.9 L357.5,382.9 L358.0,382.9 L358.5,382.9 L359.0,382.9 L359.5,382.9 L360.0,382.9 L360.5,382.9 L361.0,382.9 L361.5,382.9 L362.0,382.9 L362.5,382.9 L363.0,382.9 L363.5,382.9 L364.0,382.9 L364.5,382.9 L365.0,382.9 L365.5,382.9 L366.0,382.9 L366.5,382.9 L367.0,382.9 L367.5,382.9" fill="none" stroke="#0a0a0a" stroke-width="1.5" stroke-linejoin="round" transform="translate(0,0.5)"/>
<rect x="41.6" y="3.55" width="152.6" height="380.6" fill="none" stroke="#1a1a1a" stroke-width="1.3"/><line x1="143.3" y1="3.55" x2="143.3" y2="384.2" stroke="#1a1a1a" stroke-width="1.1"/><line x1="67.0" y1="3.55" x2="67.0" y2="6.75" stroke="#1a1a1a" stroke-width="1.1"/><line x1="67.0" y1="384.2" x2="67.0" y2="381.0" stroke="#1a1a1a" stroke-width="1.1"/><line x1="92.5" y1="3.55" x2="92.5" y2="9.55" stroke="#1a1a1a" stroke-width="1.1"/><line x1="92.5" y1="384.2" x2="92.5" y2="378.2" stroke="#1a1a1a" stroke-width="1.1"/><line x1="117.9" y1="3.55" x2="117.9" y2="6.75" stroke="#1a1a1a" stroke-width="1.1"/><line x1="117.9" y1="384.2" x2="117.9" y2="381.0" stroke="#1a1a1a" stroke-width="1.1"/><line x1="168.7" y1="3.55" x2="168.7" y2="6.75" stroke="#1a1a1a" stroke-width="1.1"/><line x1="168.7" y1="384.2" x2="168.7" y2="381.0" stroke="#1a1a1a" stroke-width="1.1"/>
<rect x="216.1" y="3.5" width="152.4" height="380.8" fill="none" stroke="#1a1a1a" stroke-width="1.3"/><line x1="317.5" y1="3.5" x2="317.5" y2="384.25" stroke="#1a1a1a" stroke-width="1.1"/><line x1="241.5" y1="3.5" x2="241.5" y2="6.7" stroke="#1a1a1a" stroke-width="1.1"/><line x1="241.5" y1="384.25" x2="241.5" y2="381.05" stroke="#1a1a1a" stroke-width="1.1"/><line x1="266.9" y1="3.5" x2="266.9" y2="9.5" stroke="#1a1a1a" stroke-width="1.1"/><line x1="266.9" y1="384.25" x2="266.9" y2="378.25" stroke="#1a1a1a" stroke-width="1.1"/><line x1="292.3" y1="3.5" x2="292.3" y2="6.7" stroke="#1a1a1a" stroke-width="1.1"/><line x1="292.3" y1="384.25" x2="292.3" y2="381.05" stroke="#1a1a1a" stroke-width="1.1"/><line x1="343.1" y1="3.5" x2="343.1" y2="6.7" stroke="#1a1a1a" stroke-width="1.1"/><line x1="343.1" y1="384.25" x2="343.1" y2="381.05" stroke="#1a1a1a" stroke-width="1.1"/>
<rect x="421.65" y="98.5" width="253.9" height="190.4" fill="none" stroke="#222" stroke-width="1.1"/>
<path d="M464.0,98.5v6M464.0,288.9v-6M506.3,98.5v6M506.3,288.9v-6M548.6,98.5v6M548.6,288.9v-6M590.9,98.5v6M590.9,288.9v-6M633.2,98.5v6M633.2,288.9v-6M421.65,257.2h6M675.5,257.2h-6M421.65,225.4h6M675.5,225.4h-6M421.65,193.7h6M675.5,193.7h-6M421.65,162.0h6M675.5,162.0h-6M421.65,130.2h6M675.5,130.2h-6" stroke="#222" stroke-width="1.1" fill="none"/>
<path d="M523.2,188.6 L548.6,241.9 L590.9,274.0 L633.2,288.9 L545.0,288.9 L545.0,288.9 L544.7,285.2 L544.3,281.4 L543.9,277.7 L543.5,273.9 L543.2,270.2 L542.8,266.4 L542.4,262.7 L542.1,258.9 L541.7,255.2 L541.3,251.4 L541.0,247.7 L540.6,243.9 L540.2,240.2 L539.8,238.1 L539.5,236.7 L539.1,235.2 L538.7,233.7 L538.4,232.3 L538.0,230.8 L537.6,229.3 L537.3,227.9 L536.9,226.4 L536.5,224.9 L536.1,223.5 L535.8,222.1 L535.4,221.1 L535.0,220.0 L534.7,218.9 L534.3,217.8 L533.9,216.8 L533.6,215.7 L533.2,214.6 L532.8,213.6 L532.4,212.5 L532.1,211.4 L531.7,210.3 L531.3,209.5 L531.0,208.6 L530.6,207.7 L530.2,206.9 L529.9,206.0 L529.5,205.2 L529.1,204.3 L528.7,203.5 L528.4,202.6 L528.0,201.8 L527.6,200.9 L527.3,200.1 L526.9,199.4 L526.5,198.7 L526.2,198.0 L525.8,197.3 L525.4,196.6 L525.0,195.9 L524.7,195.2 L524.3,194.5 L523.9,193.8 L523.6,193.1 L523.2,192.4Z" fill="#fabbbb" stroke="none"/>
<path d="M545.0,288.9H633.2" stroke="#e61e26" stroke-width="1.2"/>
<path d="M421.6,148.6 L422.5,148.6 L423.3,148.6 L424.2,148.6 L425.0,148.6 L425.9,148.6 L426.7,148.6 L427.6,148.6 L428.4,148.6 L429.3,148.6 L430.1,148.6 L430.9,148.6 L431.8,148.6 L432.6,148.6 L433.5,148.6 L434.3,148.6 L435.2,148.6 L436.0,148.7 L436.9,148.7 L437.7,148.7 L438.6,148.7 L439.4,148.7 L440.2,148.7 L441.1,148.7 L441.9,148.7 L442.8,148.7 L443.6,148.8 L444.5,148.8 L445.3,148.8 L446.2,148.8 L447.0,148.9 L447.8,148.9 L448.7,148.9 L449.5,149.0 L450.4,149.0 L451.2,149.1 L452.1,149.1 L452.9,149.2 L453.8,149.3 L454.6,149.3 L455.5,149.4 L456.3,149.5 L457.1,149.6 L458.0,149.7 L458.8,149.7 L459.7,149.8 L460.5,150.0 L461.4,150.1 L462.2,150.2 L463.1,150.3 L463.9,150.4 L464.7,150.6 L465.6,150.7 L466.4,150.9 L467.3,151.1 L468.1,151.2 L469.0,151.4 L469.8,151.6 L470.7,151.8 L471.5,152.0 L472.4,152.2 L473.2,152.4 L474.0,152.7 L474.9,152.9 L475.7,153.1 L476.6,153.4 L477.4,153.7 L478.3,154.0 L479.1,154.2 L480.0,154.5 L480.8,154.8 L481.6,155.2 L482.5,155.5 L483.3,155.9 L484.2,156.2 L485.0,156.5 L485.9,156.9 L486.7,157.3 L487.6,157.7 L488.4,158.2 L489.3,158.6 L490.1,159.0 L490.9,159.5 L491.8,160.0 L492.6,160.5 L493.5,160.9 L494.3,161.5 L495.2,162.0 L496.0,162.6 L496.9,163.1 L497.7,163.7 L498.5,164.3 L499.4,164.9 L500.2,165.6 L501.1,166.2 L501.9,166.9 L502.8,167.6 L503.6,168.3 L504.5,169.1 L505.3,169.8 L506.2,170.5 L507.0,171.4 L507.8,172.2 L508.7,173.1 L509.5,174.0 L510.4,174.8 L511.2,175.8 L512.1,176.8 L512.9,177.8 L513.8,178.7 L514.6,179.7 L515.4,180.9 L516.3,182.0 L517.1,183.2 L518.0,184.3 L518.8,185.5 L519.7,186.8 L520.5,188.1 L521.4,189.5 L522.2,190.8 L523.1,192.2 L523.9,193.8 L524.7,195.4 L525.6,197.0 L526.4,198.6 L527.3,200.2 L528.1,202.1 L529.0,204.0 L529.8,206.0 L530.7,207.9 L531.5,209.8 L532.3,212.2 L533.2,214.7 L534.0,217.1 L534.9,219.6 L535.7,222.0 L536.6,225.2 L537.4,228.5 L538.3,231.9 L539.1,235.2 L540.0,238.6 L540.8,246.1 L541.6,254.7 L542.5,263.2 L543.3,271.8 L544.2,280.3 L545.0,288.9" fill="none" stroke="#e61e26" stroke-width="1.1"/>
<path d="M421.6,219.7 L422.7,219.7 L423.7,219.7 L424.8,219.7 L425.8,219.7 L426.8,219.7 L427.9,219.7 L428.9,219.7 L429.9,219.7 L431.0,219.7 L432.0,219.7 L433.0,219.7 L434.1,219.7 L435.1,219.7 L436.2,219.7 L437.2,219.7 L438.2,219.7 L439.3,219.7 L440.3,219.7 L441.3,219.7 L442.4,219.7 L443.4,219.7 L444.4,219.7 L445.5,219.7 L446.5,219.8 L447.6,219.8 L448.6,219.8 L449.6,219.8 L450.7,219.8 L451.7,219.8 L452.7,219.8 L453.8,219.8 L454.8,219.8 L455.8,219.9 L456.9,219.9 L457.9,219.9 L458.9,219.9 L460.0,220.0 L461.0,220.0 L462.1,220.0 L463.1,220.1 L464.1,220.1 L465.2,220.2 L466.2,220.2 L467.2,220.3 L468.3,220.4 L469.3,220.4 L470.3,220.5 L471.4,220.6 L472.4,220.7 L473.5,220.8 L474.5,220.9 L475.5,221.0 L476.6,221.1 L477.6,221.3 L478.6,221.4 L479.7,221.6 L480.7,221.7 L481.7,221.9 L482.8,222.1 L483.8,222.3 L484.8,222.5 L485.9,222.7 L486.9,223.0 L488.0,223.2 L489.0,223.5 L490.0,223.8 L491.1,224.1 L492.1,224.4 L493.1,224.8 L494.2,225.1 L495.2,225.5 L496.2,225.9 L497.3,226.3 L498.3,226.8 L499.4,227.3 L500.4,227.8 L501.4,228.3 L502.5,228.8 L503.5,229.4 L504.5,230.0 L505.6,230.6 L506.6,231.3 L507.6,232.0 L508.7,232.7 L509.7,233.5 L510.7,234.3 L511.8,235.1 L512.8,236.0 L513.9,236.9 L514.9,237.8 L515.9,238.8 L517.0,239.8 L518.0,240.9 L519.0,242.0 L520.1,243.2 L521.1,244.4 L522.1,245.7 L523.2,247.0 L524.2,248.3 L525.3,249.7 L526.3,251.2 L527.3,252.7 L528.4,254.3 L529.4,256.0 L530.4,257.7 L531.5,259.4 L532.5,261.3 L533.5,263.2 L534.6,265.1 L535.6,267.1 L536.6,269.3 L537.7,271.4 L538.7,273.7 L539.8,276.0 L540.8,278.4 L541.8,280.9 L542.9,283.5 L543.9,286.2 L544.9,288.9" fill="none" stroke="#2a2ab8" stroke-width="1.2"/>
<path d="M523.2,188.6 L548.6,241.9 L590.9,274.0 L633.2,288.9 L675.5,288.9" fill="none" stroke="#d02a32" stroke-width="1.1"/>
<g stroke="#e61e26" stroke-width="1.0" fill="none"><path d="M442.8,132.3V157.3M440.4,132.3h4.8M440.4,157.3h4.8M434.2,144.8H451.4M434.2,142.4v4.8M451.4,142.4v4.8"/><circle cx="442.8" cy="144.8" r="3.0" stroke-width="1.45"/><path d="M489.3,145.7V170.7M486.9,145.7h4.8M486.9,170.7h4.8M480.7,158.2H497.9M480.7,155.8v4.8M497.9,155.8v4.8"/><circle cx="489.3" cy="158.2" r="3.0" stroke-width="1.45"/><path d="M506.3,146.3V171.3M503.9,146.3h4.8M503.9,171.3h4.8M497.7,158.8H514.9M497.7,156.4v4.8M514.9,156.4v4.8"/><circle cx="506.3" cy="158.8" r="3.0" stroke-width="1.45"/><path d="M523.2,176.1V201.1M520.8,176.1h4.8M520.8,201.1h4.8M514.6,188.6H531.8M514.6,186.2v4.8M531.8,186.2v4.8"/><circle cx="523.2" cy="188.6" r="3.0" stroke-width="1.45"/><path d="M548.6,229.4V254.4M546.2,229.4h4.8M546.2,254.4h4.8M540.0,241.9H557.2M540.0,239.5v4.8M557.2,239.5v4.8"/><circle cx="548.6" cy="241.9" r="3.0" stroke-width="1.45"/><path d="M590.9,261.5V286.5M588.5,261.5h4.8M588.5,286.5h4.8M582.3,274.0H599.5M582.3,271.6v4.8M599.5,271.6v4.8"/><circle cx="590.9" cy="274.0" r="3.0" stroke-width="1.45"/><path d="M633.2,276.4V288.9M630.8,276.4h4.8M624.6,288.9H641.8M624.6,286.5v4.8M641.8,286.5v4.8"/><circle cx="633.2" cy="288.9" r="3.0" stroke-width="1.45"/><path d="M675.5,276.4V288.9M673.1,276.4h4.8M666.9,288.9H675.5M666.9,286.5v4.8"/><circle cx="675.5" cy="288.9" r="3.0" stroke-width="1.45"/></g>
<g stroke="#2424cc" stroke-width="1.0" fill="none"><path d="M442.8,208.5V233.5M440.4,208.5h4.8M440.4,233.5h4.8M434.2,221.0H451.4M434.2,218.6v4.8M451.4,218.6v4.8"/><circle cx="442.8" cy="221.0" r="3.0" stroke-width="1.45"/><path d="M489.3,211.7V236.7M486.9,211.7h4.8M486.9,236.7h4.8M480.7,224.2H497.9M480.7,221.8v4.8M497.9,221.8v4.8"/><circle cx="489.3" cy="224.2" r="3.0" stroke-width="1.45"/><path d="M506.3,210.4V235.4M503.9,210.4h4.8M503.9,235.4h4.8M497.7,222.9H514.9M497.7,220.5v4.8M514.9,220.5v4.8"/><circle cx="506.3" cy="222.9" r="3.0" stroke-width="1.45"/><path d="M523.2,239.9V264.9M520.8,239.9h4.8M520.8,264.9h4.8M514.6,252.4H531.8M514.6,250.0v4.8M531.8,250.0v4.8"/><circle cx="523.2" cy="252.4" r="3.0" stroke-width="1.45"/><path d="M548.6,276.4V288.9M546.2,276.4h4.8M540.0,288.9H557.2M540.0,286.5v4.8M557.2,286.5v4.8"/><circle cx="548.6" cy="288.9" r="3.0" stroke-width="1.45"/></g>
<line x1="544.3" y1="98.5" x2="544.3" y2="288.9" stroke="#111" stroke-width="1.1" stroke-dasharray="3.5,3.2"/>
<circle cx="577.4" cy="127.4" r="3.4" fill="none" stroke="#e61e26" stroke-width="1.2"/>
<circle cx="577.4" cy="147.8" r="3.4" fill="none" stroke="#2424cc" stroke-width="1.2"/>
<line x1="585.7" y1="245.2" x2="572.5" y2="259.5" stroke="#111" stroke-width="1.0"/>
<path d="M567.1,265.3 L571.0,257.9 L575.0,261.4 Z" fill="#111"/>
<g font-family="Liberation Sans, sans-serif" fill="#111" stroke="#111" stroke-width="0.22">
<text x="50.0" y="24.3" font-size="15.5" font-weight="bold" transform="translate(50,24.3) scale(0.9,1) translate(-50,-24.3)">a</text>
<text x="72.6" y="23.8" font-size="14.5" font-style="italic" transform="translate(72.6,23.8) scale(0.95,1.12) translate(-72.6,-23.8)">k</text>
<text x="83.9" y="25.3" font-size="14.6">@</text>
<text x="102.2" y="23.8" font-size="14.5" font-style="italic" transform="translate(102.2,23.8) scale(0.95,1.12) translate(-102.2,-23.8)">k</text>
<text x="108.9" y="28.0" font-size="10">F</text>
<text x="223.4" y="23.8" font-size="15.5" font-weight="bold">b</text>
<text x="246.7" y="25.8" font-size="14.5" font-style="italic" transform="translate(246.7,25.8) scale(0.95,1.12) translate(-246.7,-25.8)">k</text>
<text x="257.2" y="25.8" font-size="15">~</text>
<text x="269.5" y="25.8" font-size="15.5" font-family="Liberation Serif, serif">Γ</text>
<g font-size="12.5" text-anchor="middle">
<text x="41.7" y="399.8">-20</text><text x="92.5" y="399.8">-10</text><text x="143.3" y="399.8">0</text><text x="194" y="399.8">10</text>
<text x="216" y="399.8">-20</text><text x="266.8" y="399.8">-10</text><text x="317.4" y="399.8">0</text><text x="368.5" y="399.8">10</text>
</g>
<text transform="translate(14.6,193.5) rotate(-90)" font-size="14.4" text-anchor="middle">Intensity (arb. units)</text>
<g font-size="12.7" text-anchor="end">
<text x="364.6" y="106.6" fill="#e01a20" stroke="#e01a20">30 K</text>
<text x="364.6" y="148.0" fill="#ee8024" stroke="#ee8024">25 K</text>
<text x="364.6" y="186.2" fill="#9fb82a" stroke="#9fb82a">20 K</text>
<text x="364.6" y="228.0" fill="#24a02e" stroke="#24a02e">15 K</text>
<text x="364.6" y="267.2" fill="#28b0c4" stroke="#28b0c4">12 K</text>
<text x="364.6" y="303.1" fill="#2c74e0" stroke="#2c74e0">10 K</text>
<text x="364.6" y="342.2" fill="#2c22d0" stroke="#2c22d0">8 K</text>
<text x="364.6" y="378.7" fill="#b424d8" stroke="#b424d8">2.5 K</text>
</g>
<text x="518.5" y="92.0" font-size="12.4" font-style="italic">T</text>
<text x="525.4" y="95.0" font-size="9">c</text>
<text x="533.2" y="92.0" font-size="12.4">=</text><text x="543.8" y="92.0" font-size="12.4">14.5 K</text>
<text x="430.0" y="118.0" font-size="14" font-weight="bold">c</text>
<text x="592.8" y="132.2" font-size="12">Δ</text>
<text x="601.2" y="135.2" font-size="10.1">hole band</text>
<text x="592.8" y="152.0" font-size="12">Δ</text>
<text x="601.2" y="155.4" font-size="10.1">electron band</text>
<text x="582.2" y="241.2" font-size="13.4" transform="translate(582.2,241.2) scale(1.07,1) translate(-582.2,-241.2)">pseudogap</text>
<g font-size="11.6" text-anchor="middle">
<text x="421.6" y="304.7">0</text><text x="463.9" y="304.7">5</text><text x="506.2" y="304.7">10</text><text x="548.5" y="304.7">15</text><text x="590.8" y="304.7">20</text><text x="633.2" y="304.7">25</text><text x="675.5" y="304.7">30</text>
</g>
<g font-size="11.6" text-anchor="end">
<text x="417.6" y="292.9">0</text><text x="417.6" y="261.2">0.5</text><text x="417.6" y="229.5">1.0</text><text x="417.6" y="197.8">1.5</text><text x="417.6" y="166.1">2.0</text><text x="417.6" y="134.4">2.5</text><text x="417.6" y="102.7">3.0</text>
</g>
<text x="548.5" y="324.0" font-size="14.1" text-anchor="middle" transform="translate(548.5,324) scale(1.04,1) translate(-548.5,-324)">Temperature (K)</text>
<text transform="translate(398.3,194.4) rotate(-90) scale(1.06,1)" font-size="13.5" text-anchor="middle">Δ (meV)</text>
</g>

</svg>
</body></html>
